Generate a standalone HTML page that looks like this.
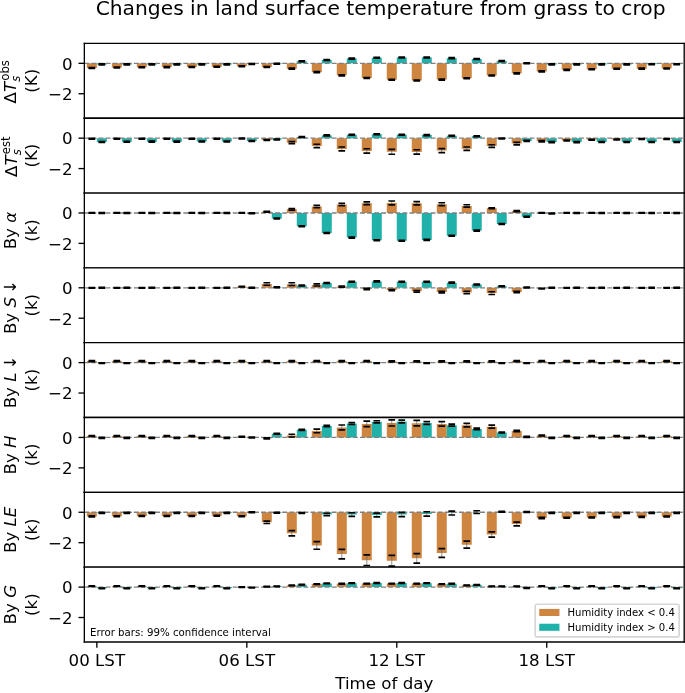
<!DOCTYPE html>
<html><head><meta charset="utf-8"><title>Changes in land surface temperature from grass to crop</title><style>
html,body{margin:0;padding:0;background:#fff;width:685px;height:693px;overflow:hidden}
svg{display:block}
svg *{stroke-linejoin:round;stroke-linecap:butt}
</style></head><body>
<svg width="685" height="693" viewBox="0 0 411 415.8" version="1.1">
<g id="figure_1">
<g id="patch_1">
<path d="M 0 415.8 L 411 415.8 L 411 0 L 0 0 z
" style="fill: #ffffff"/>
</g>
<g id="axes_1">
<g id="patch_2">
<path d="M 50.61 70.94 L 410.52 70.94 L 410.52 26.04 L 50.61 26.04 z
" style="fill: #ffffff"/>
</g>
<g id="patch_3">
<path d="M 52.11 37.99 L 58.11 37.99 L 58.11 40.82 L 52.11 40.82 z
" clip-path="url(#p5a2196d722)" style="fill: #cd853f"/>
</g>
<g id="patch_4">
<path d="M 67.11 37.99 L 73.1 37.99 L 73.1 40.55 L 67.11 40.55 z
" clip-path="url(#p5a2196d722)" style="fill: #cd853f"/>
</g>
<g id="patch_5">
<path d="M 82.1 37.99 L 88.1 37.99 L 88.1 40.37 L 82.1 40.37 z
" clip-path="url(#p5a2196d722)" style="fill: #cd853f"/>
</g>
<g id="patch_6">
<path d="M 97.1 37.99 L 103.1 37.99 L 103.1 40.27 L 97.1 40.27 z
" clip-path="url(#p5a2196d722)" style="fill: #cd853f"/>
</g>
<g id="patch_7">
<path d="M 112.09 37.99 L 118.09 37.99 L 118.09 40.18 L 112.09 40.18 z
" clip-path="url(#p5a2196d722)" style="fill: #cd853f"/>
</g>
<g id="patch_8">
<path d="M 127.09 37.99 L 133.09 37.99 L 133.09 40 L 127.09 40 z
" clip-path="url(#p5a2196d722)" style="fill: #cd853f"/>
</g>
<g id="patch_9">
<path d="M 142.09 37.99 L 148.09 37.99 L 148.09 39.73 L 142.09 39.73 z
" clip-path="url(#p5a2196d722)" style="fill: #cd853f"/>
</g>
<g id="patch_10">
<path d="M 157.08 37.99 L 163.08 37.99 L 163.08 40.18 L 157.08 40.18 z
" clip-path="url(#p5a2196d722)" style="fill: #cd853f"/>
</g>
<g id="patch_11">
<path d="M 172.08 37.99 L 178.08 37.99 L 178.08 41.19 L 172.08 41.19 z
" clip-path="url(#p5a2196d722)" style="fill: #cd853f"/>
</g>
<g id="patch_12">
<path d="M 187.08 37.99 L 193.07 37.99 L 193.07 43.29 L 187.08 43.29 z
" clip-path="url(#p5a2196d722)" style="fill: #cd853f"/>
</g>
<g id="patch_13">
<path d="M 202.07 37.99 L 208.07 37.99 L 208.07 45.2 L 202.07 45.2 z
" clip-path="url(#p5a2196d722)" style="fill: #cd853f"/>
</g>
<g id="patch_14">
<path d="M 217.07 37.99 L 223.07 37.99 L 223.07 46.75 L 217.07 46.75 z
" clip-path="url(#p5a2196d722)" style="fill: #cd853f"/>
</g>
<g id="patch_15">
<path d="M 232.06 37.99 L 238.06 37.99 L 238.06 47.85 L 232.06 47.85 z
" clip-path="url(#p5a2196d722)" style="fill: #cd853f"/>
</g>
<g id="patch_16">
<path d="M 247.06 37.99 L 253.06 37.99 L 253.06 48.3 L 247.06 48.3 z
" clip-path="url(#p5a2196d722)" style="fill: #cd853f"/>
</g>
<g id="patch_17">
<path d="M 262.06 37.99 L 268.06 37.99 L 268.06 47.76 L 262.06 47.76 z
" clip-path="url(#p5a2196d722)" style="fill: #cd853f"/>
</g>
<g id="patch_18">
<path d="M 277.05 37.99 L 283.05 37.99 L 283.05 46.94 L 277.05 46.94 z
" clip-path="url(#p5a2196d722)" style="fill: #cd853f"/>
</g>
<g id="patch_19">
<path d="M 292.05 37.99 L 298.05 37.99 L 298.05 45.29 L 292.05 45.29 z
" clip-path="url(#p5a2196d722)" style="fill: #cd853f"/>
</g>
<g id="patch_20">
<path d="M 307.05 37.99 L 313.04 37.99 L 313.04 44.02 L 307.05 44.02 z
" clip-path="url(#p5a2196d722)" style="fill: #cd853f"/>
</g>
<g id="patch_21">
<path d="M 322.04 37.99 L 328.04 37.99 L 328.04 42.83 L 322.04 42.83 z
" clip-path="url(#p5a2196d722)" style="fill: #cd853f"/>
</g>
<g id="patch_22">
<path d="M 337.04 37.99 L 343.04 37.99 L 343.04 41.92 L 337.04 41.92 z
" clip-path="url(#p5a2196d722)" style="fill: #cd853f"/>
</g>
<g id="patch_23">
<path d="M 352.03 37.99 L 358.03 37.99 L 358.03 41.55 L 352.03 41.55 z
" clip-path="url(#p5a2196d722)" style="fill: #cd853f"/>
</g>
<g id="patch_24">
<path d="M 367.03 37.99 L 373.03 37.99 L 373.03 41.28 L 367.03 41.28 z
" clip-path="url(#p5a2196d722)" style="fill: #cd853f"/>
</g>
<g id="patch_25">
<path d="M 382.03 37.99 L 388.03 37.99 L 388.03 41.19 L 382.03 41.19 z
" clip-path="url(#p5a2196d722)" style="fill: #cd853f"/>
</g>
<g id="patch_26">
<path d="M 397.02 37.99 L 403.02 37.99 L 403.02 41.1 L 397.02 41.1 z
" clip-path="url(#p5a2196d722)" style="fill: #cd853f"/>
</g>
<g id="patch_27">
<path d="M 58.11 37.99 L 64.11 37.99 L 64.11 38.63 L 58.11 38.63 z
" clip-path="url(#p5a2196d722)" style="fill: #20b2aa"/>
</g>
<g id="patch_28">
<path d="M 73.1 37.99 L 79.1 37.99 L 79.1 38.63 L 73.1 38.63 z
" clip-path="url(#p5a2196d722)" style="fill: #20b2aa"/>
</g>
<g id="patch_29">
<path d="M 88.1 37.99 L 94.1 37.99 L 94.1 38.63 L 88.1 38.63 z
" clip-path="url(#p5a2196d722)" style="fill: #20b2aa"/>
</g>
<g id="patch_30">
<path d="M 103.1 37.99 L 109.1 37.99 L 109.1 38.63 L 103.1 38.63 z
" clip-path="url(#p5a2196d722)" style="fill: #20b2aa"/>
</g>
<g id="patch_31">
<path d="M 118.09 37.99 L 124.09 37.99 L 124.09 38.63 L 118.09 38.63 z
" clip-path="url(#p5a2196d722)" style="fill: #20b2aa"/>
</g>
<g id="patch_32">
<path d="M 133.09 37.99 L 139.09 37.99 L 139.09 38.63 L 133.09 38.63 z
" clip-path="url(#p5a2196d722)" style="fill: #20b2aa"/>
</g>
<g id="patch_33">
<path d="M 148.09 37.99 L 154.08 37.99 L 154.08 38.45 L 148.09 38.45 z
" clip-path="url(#p5a2196d722)" style="fill: #20b2aa"/>
</g>
<g id="patch_34">
<path d="M 163.08 37.99 L 169.08 37.99 L 169.08 38.27 L 163.08 38.27 z
" clip-path="url(#p5a2196d722)" style="fill: #20b2aa"/>
</g>
<g id="patch_35">
<path d="M 178.08 37.99 L 184.08 37.99 L 184.08 36.72 L 178.08 36.72 z
" clip-path="url(#p5a2196d722)" style="fill: #20b2aa"/>
</g>
<g id="patch_36">
<path d="M 193.07 37.99 L 199.07 37.99 L 199.07 35.99 L 193.07 35.99 z
" clip-path="url(#p5a2196d722)" style="fill: #20b2aa"/>
</g>
<g id="patch_37">
<path d="M 208.07 37.99 L 214.07 37.99 L 214.07 35.16 L 208.07 35.16 z
" clip-path="url(#p5a2196d722)" style="fill: #20b2aa"/>
</g>
<g id="patch_38">
<path d="M 223.07 37.99 L 229.07 37.99 L 229.07 34.62 L 223.07 34.62 z
" clip-path="url(#p5a2196d722)" style="fill: #20b2aa"/>
</g>
<g id="patch_39">
<path d="M 238.06 37.99 L 244.06 37.99 L 244.06 34.53 L 238.06 34.53 z
" clip-path="url(#p5a2196d722)" style="fill: #20b2aa"/>
</g>
<g id="patch_40">
<path d="M 253.06 37.99 L 259.06 37.99 L 259.06 34.53 L 253.06 34.53 z
" clip-path="url(#p5a2196d722)" style="fill: #20b2aa"/>
</g>
<g id="patch_41">
<path d="M 268.06 37.99 L 274.05 37.99 L 274.05 34.89 L 268.06 34.89 z
" clip-path="url(#p5a2196d722)" style="fill: #20b2aa"/>
</g>
<g id="patch_42">
<path d="M 283.05 37.99 L 289.05 37.99 L 289.05 35.44 L 283.05 35.44 z
" clip-path="url(#p5a2196d722)" style="fill: #20b2aa"/>
</g>
<g id="patch_43">
<path d="M 298.05 37.99 L 304.05 37.99 L 304.05 36.62 L 298.05 36.62 z
" clip-path="url(#p5a2196d722)" style="fill: #20b2aa"/>
</g>
<g id="patch_44">
<path d="M 313.04 37.99 L 319.04 37.99 L 319.04 37.99 L 313.04 37.99 z
" clip-path="url(#p5a2196d722)" style="fill: #20b2aa"/>
</g>
<g id="patch_45">
<path d="M 328.04 37.99 L 334.04 37.99 L 334.04 38.63 L 328.04 38.63 z
" clip-path="url(#p5a2196d722)" style="fill: #20b2aa"/>
</g>
<g id="patch_46">
<path d="M 343.04 37.99 L 349.04 37.99 L 349.04 38.63 L 343.04 38.63 z
" clip-path="url(#p5a2196d722)" style="fill: #20b2aa"/>
</g>
<g id="patch_47">
<path d="M 358.03 37.99 L 364.03 37.99 L 364.03 38.63 L 358.03 38.63 z
" clip-path="url(#p5a2196d722)" style="fill: #20b2aa"/>
</g>
<g id="patch_48">
<path d="M 373.03 37.99 L 379.03 37.99 L 379.03 38.63 L 373.03 38.63 z
" clip-path="url(#p5a2196d722)" style="fill: #20b2aa"/>
</g>
<g id="patch_49">
<path d="M 388.03 37.99 L 394.02 37.99 L 394.02 38.54 L 388.03 38.54 z
" clip-path="url(#p5a2196d722)" style="fill: #20b2aa"/>
</g>
<g id="patch_50">
<path d="M 403.02 37.99 L 409.02 37.99 L 409.02 38.54 L 403.02 38.54 z
" clip-path="url(#p5a2196d722)" style="fill: #20b2aa"/>
</g>
<g id="matplotlib.axis_1">
<g id="xtick_1">
<g id="line2d_1">
<g>
<path d="M 0 0 L 0 3.5 
" transform="translate(58.11 70.94)" style="stroke: #000000; stroke-width: 0.8; stroke: #000000; stroke-width: 0.8"/>
</g>
</g>
</g>
<g id="xtick_2">
<g id="line2d_2">
<g>
<path d="M 0 0 L 0 3.5 
" transform="translate(148.09 70.94)" style="stroke: #000000; stroke-width: 0.8; stroke: #000000; stroke-width: 0.8"/>
</g>
</g>
</g>
<g id="xtick_3">
<g id="line2d_3">
<g>
<path d="M 0 0 L 0 3.5 
" transform="translate(238.06 70.94)" style="stroke: #000000; stroke-width: 0.8; stroke: #000000; stroke-width: 0.8"/>
</g>
</g>
</g>
<g id="xtick_4">
<g id="line2d_4">
<g>
<path d="M 0 0 L 0 3.5 
" transform="translate(328.04 70.94)" style="stroke: #000000; stroke-width: 0.8; stroke: #000000; stroke-width: 0.8"/>
</g>
</g>
</g>
</g>
<g id="matplotlib.axis_2">
<g id="ytick_1">
<g id="line2d_5">
<g>
<path d="M 0 0 L -3.5 0 
" transform="translate(50.61 37.99)" style="stroke: #000000; stroke-width: 0.8; stroke: #000000; stroke-width: 0.8"/>
</g>
</g>
<g id="text_1">
<text style="font-size: 10px; font-family: 'DejaVu Sans', sans-serif; text-anchor: end" x="43.61" y="41.79" transform="rotate(-0 43.61 41.79)">0</text>
</g>
</g>
<g id="ytick_2">
<g id="line2d_6">
<g>
<path d="M 0 0 L -3.5 0 
" transform="translate(50.61 56.24)" style="stroke: #000000; stroke-width: 0.8; stroke: #000000; stroke-width: 0.8"/>
</g>
</g>
<g id="text_2">
<text style="font-size: 10px; font-family: 'DejaVu Sans', sans-serif; text-anchor: end" x="43.61" y="60.04" transform="rotate(-0 43.61 60.04)">−2</text>
</g>
</g>
<g id="text_3">
<g transform="translate(10.21 62.06) rotate(-90)">
<text>
<tspan x="0" y="-0.86" style="font-size: 10px; font-family: 'DejaVu Sans', sans-serif">Δ</tspan>
<tspan x="6.84" y="-0.86" style="font-style: oblique; font-size: 10px; font-family: 'DejaVu Sans', sans-serif">T</tspan>
<tspan x="13.65" y="-4.68" style="font-size: 7px; font-family: 'DejaVu Sans', sans-serif">o</tspan>
<tspan x="17.93" y="-4.68" style="font-size: 7px; font-family: 'DejaVu Sans', sans-serif">b</tspan>
<tspan x="22.38" y="-4.68" style="font-size: 7px; font-family: 'DejaVu Sans', sans-serif">s</tspan>
<tspan x="12.95" y="1.88" style="font-style: oblique; font-size: 7px; font-family: 'DejaVu Sans', sans-serif">s</tspan>
</text>
</g>
<text style="font-size: 10px; font-family: 'DejaVu Sans', sans-serif" transform="translate(22.14 55.67) rotate(-90)">(K)</text>
</g>
</g>
<g id="line2d_7">
<path d="M 50.61 37.99 L 410.52 37.99 
" clip-path="url(#p5a2196d722)" style="fill: none; stroke-dasharray: 2.96,1.28; stroke-dashoffset: 0; stroke: #808080; stroke-width: 0.8"/>
</g>
<g id="LineCollection_1"/>
<g id="LineCollection_2">
<path d="M 55.11 41.1 L 55.11 40.55 
" clip-path="url(#p5a2196d722)" style="fill: none"/>
<path d="M 70.11 40.82 L 70.11 40.27 
" clip-path="url(#p5a2196d722)" style="fill: none"/>
<path d="M 85.1 40.64 L 85.1 40.09 
" clip-path="url(#p5a2196d722)" style="fill: none"/>
<path d="M 100.1 40.55 L 100.1 40 
" clip-path="url(#p5a2196d722)" style="fill: none"/>
<path d="M 115.09 40.46 L 115.09 39.91 
" clip-path="url(#p5a2196d722)" style="fill: none"/>
<path d="M 130.09 40.27 L 130.09 39.73 
" clip-path="url(#p5a2196d722)" style="fill: none"/>
<path d="M 145.09 40 L 145.09 39.45 
" clip-path="url(#p5a2196d722)" style="fill: none"/>
<path d="M 160.08 40.46 L 160.08 39.91 
" clip-path="url(#p5a2196d722)" style="fill: none"/>
<path d="M 175.08 41.46 L 175.08 40.91 
" clip-path="url(#p5a2196d722)" style="fill: none"/>
<path d="M 190.08 43.56 L 190.08 43.01 
" clip-path="url(#p5a2196d722)" style="fill: none"/>
<path d="M 205.07 45.48 L 205.07 44.93 
" clip-path="url(#p5a2196d722)" style="fill: none"/>
<path d="M 220.07 47.03 L 220.07 46.48 
" clip-path="url(#p5a2196d722)" style="fill: none"/>
<path d="M 235.06 48.12 L 235.06 47.58 
" clip-path="url(#p5a2196d722)" style="fill: none"/>
<path d="M 250.06 48.58 L 250.06 48.03 
" clip-path="url(#p5a2196d722)" style="fill: none"/>
<path d="M 265.06 48.03 L 265.06 47.48 
" clip-path="url(#p5a2196d722)" style="fill: none"/>
<path d="M 280.05 47.21 L 280.05 46.66 
" clip-path="url(#p5a2196d722)" style="fill: none"/>
<path d="M 295.05 45.57 L 295.05 45.02 
" clip-path="url(#p5a2196d722)" style="fill: none"/>
<path d="M 310.05 44.29 L 310.05 43.74 
" clip-path="url(#p5a2196d722)" style="fill: none"/>
<path d="M 325.04 43.1 L 325.04 42.56 
" clip-path="url(#p5a2196d722)" style="fill: none"/>
<path d="M 340.04 42.19 L 340.04 41.64 
" clip-path="url(#p5a2196d722)" style="fill: none"/>
<path d="M 355.03 41.83 L 355.03 41.28 
" clip-path="url(#p5a2196d722)" style="fill: none"/>
<path d="M 370.03 41.55 L 370.03 41.01 
" clip-path="url(#p5a2196d722)" style="fill: none"/>
<path d="M 385.03 41.46 L 385.03 40.91 
" clip-path="url(#p5a2196d722)" style="fill: none"/>
<path d="M 400.02 41.37 L 400.02 40.82 
" clip-path="url(#p5a2196d722)" style="fill: none"/>
</g>
<g id="line2d_8">
<g clip-path="url(#p5a2196d722)">
<path d="M 2 0 L -2 -0 
" transform="translate(55.11 41.1)" style="fill: #1f77b4; stroke: #000000; stroke: #000000"/>
<path d="M 2 0 L -2 -0 
" transform="translate(70.11 40.82)" style="fill: #1f77b4; stroke: #000000; stroke: #000000"/>
<path d="M 2 0 L -2 -0 
" transform="translate(85.1 40.64)" style="fill: #1f77b4; stroke: #000000; stroke: #000000"/>
<path d="M 2 0 L -2 -0 
" transform="translate(100.1 40.55)" style="fill: #1f77b4; stroke: #000000; stroke: #000000"/>
<path d="M 2 0 L -2 -0 
" transform="translate(115.09 40.46)" style="fill: #1f77b4; stroke: #000000; stroke: #000000"/>
<path d="M 2 0 L -2 -0 
" transform="translate(130.09 40.27)" style="fill: #1f77b4; stroke: #000000; stroke: #000000"/>
<path d="M 2 0 L -2 -0 
" transform="translate(145.09 40)" style="fill: #1f77b4; stroke: #000000; stroke: #000000"/>
<path d="M 2 0 L -2 -0 
" transform="translate(160.08 40.46)" style="fill: #1f77b4; stroke: #000000; stroke: #000000"/>
<path d="M 2 0 L -2 -0 
" transform="translate(175.08 41.46)" style="fill: #1f77b4; stroke: #000000; stroke: #000000"/>
<path d="M 2 0 L -2 -0 
" transform="translate(190.08 43.56)" style="fill: #1f77b4; stroke: #000000; stroke: #000000"/>
<path d="M 2 0 L -2 -0 
" transform="translate(205.07 45.48)" style="fill: #1f77b4; stroke: #000000; stroke: #000000"/>
<path d="M 2 0 L -2 -0 
" transform="translate(220.07 47.03)" style="fill: #1f77b4; stroke: #000000; stroke: #000000"/>
<path d="M 2 0 L -2 -0 
" transform="translate(235.06 48.12)" style="fill: #1f77b4; stroke: #000000; stroke: #000000"/>
<path d="M 2 0 L -2 -0 
" transform="translate(250.06 48.58)" style="fill: #1f77b4; stroke: #000000; stroke: #000000"/>
<path d="M 2 0 L -2 -0 
" transform="translate(265.06 48.03)" style="fill: #1f77b4; stroke: #000000; stroke: #000000"/>
<path d="M 2 0 L -2 -0 
" transform="translate(280.05 47.21)" style="fill: #1f77b4; stroke: #000000; stroke: #000000"/>
<path d="M 2 0 L -2 -0 
" transform="translate(295.05 45.57)" style="fill: #1f77b4; stroke: #000000; stroke: #000000"/>
<path d="M 2 0 L -2 -0 
" transform="translate(310.05 44.29)" style="fill: #1f77b4; stroke: #000000; stroke: #000000"/>
<path d="M 2 0 L -2 -0 
" transform="translate(325.04 43.1)" style="fill: #1f77b4; stroke: #000000; stroke: #000000"/>
<path d="M 2 0 L -2 -0 
" transform="translate(340.04 42.19)" style="fill: #1f77b4; stroke: #000000; stroke: #000000"/>
<path d="M 2 0 L -2 -0 
" transform="translate(355.03 41.83)" style="fill: #1f77b4; stroke: #000000; stroke: #000000"/>
<path d="M 2 0 L -2 -0 
" transform="translate(370.03 41.55)" style="fill: #1f77b4; stroke: #000000; stroke: #000000"/>
<path d="M 2 0 L -2 -0 
" transform="translate(385.03 41.46)" style="fill: #1f77b4; stroke: #000000; stroke: #000000"/>
<path d="M 2 0 L -2 -0 
" transform="translate(400.02 41.37)" style="fill: #1f77b4; stroke: #000000; stroke: #000000"/>
</g>
</g>
<g id="line2d_9">
<g clip-path="url(#p5a2196d722)">
<path d="M 2 0 L -2 -0 
" transform="translate(55.11 40.55)" style="fill: #1f77b4; stroke: #000000; stroke: #000000"/>
<path d="M 2 0 L -2 -0 
" transform="translate(70.11 40.27)" style="fill: #1f77b4; stroke: #000000; stroke: #000000"/>
<path d="M 2 0 L -2 -0 
" transform="translate(85.1 40.09)" style="fill: #1f77b4; stroke: #000000; stroke: #000000"/>
<path d="M 2 0 L -2 -0 
" transform="translate(100.1 40)" style="fill: #1f77b4; stroke: #000000; stroke: #000000"/>
<path d="M 2 0 L -2 -0 
" transform="translate(115.09 39.91)" style="fill: #1f77b4; stroke: #000000; stroke: #000000"/>
<path d="M 2 0 L -2 -0 
" transform="translate(130.09 39.73)" style="fill: #1f77b4; stroke: #000000; stroke: #000000"/>
<path d="M 2 0 L -2 -0 
" transform="translate(145.09 39.45)" style="fill: #1f77b4; stroke: #000000; stroke: #000000"/>
<path d="M 2 0 L -2 -0 
" transform="translate(160.08 39.91)" style="fill: #1f77b4; stroke: #000000; stroke: #000000"/>
<path d="M 2 0 L -2 -0 
" transform="translate(175.08 40.91)" style="fill: #1f77b4; stroke: #000000; stroke: #000000"/>
<path d="M 2 0 L -2 -0 
" transform="translate(190.08 43.01)" style="fill: #1f77b4; stroke: #000000; stroke: #000000"/>
<path d="M 2 0 L -2 -0 
" transform="translate(205.07 44.93)" style="fill: #1f77b4; stroke: #000000; stroke: #000000"/>
<path d="M 2 0 L -2 -0 
" transform="translate(220.07 46.48)" style="fill: #1f77b4; stroke: #000000; stroke: #000000"/>
<path d="M 2 0 L -2 -0 
" transform="translate(235.06 47.58)" style="fill: #1f77b4; stroke: #000000; stroke: #000000"/>
<path d="M 2 0 L -2 -0 
" transform="translate(250.06 48.03)" style="fill: #1f77b4; stroke: #000000; stroke: #000000"/>
<path d="M 2 0 L -2 -0 
" transform="translate(265.06 47.48)" style="fill: #1f77b4; stroke: #000000; stroke: #000000"/>
<path d="M 2 0 L -2 -0 
" transform="translate(280.05 46.66)" style="fill: #1f77b4; stroke: #000000; stroke: #000000"/>
<path d="M 2 0 L -2 -0 
" transform="translate(295.05 45.02)" style="fill: #1f77b4; stroke: #000000; stroke: #000000"/>
<path d="M 2 0 L -2 -0 
" transform="translate(310.05 43.74)" style="fill: #1f77b4; stroke: #000000; stroke: #000000"/>
<path d="M 2 0 L -2 -0 
" transform="translate(325.04 42.56)" style="fill: #1f77b4; stroke: #000000; stroke: #000000"/>
<path d="M 2 0 L -2 -0 
" transform="translate(340.04 41.64)" style="fill: #1f77b4; stroke: #000000; stroke: #000000"/>
<path d="M 2 0 L -2 -0 
" transform="translate(355.03 41.28)" style="fill: #1f77b4; stroke: #000000; stroke: #000000"/>
<path d="M 2 0 L -2 -0 
" transform="translate(370.03 41.01)" style="fill: #1f77b4; stroke: #000000; stroke: #000000"/>
<path d="M 2 0 L -2 -0 
" transform="translate(385.03 40.91)" style="fill: #1f77b4; stroke: #000000; stroke: #000000"/>
<path d="M 2 0 L -2 -0 
" transform="translate(400.02 40.82)" style="fill: #1f77b4; stroke: #000000; stroke: #000000"/>
</g>
</g>
<g id="LineCollection_3"/>
<g id="LineCollection_4">
<path d="M 61.11 38.91 L 61.11 38.36 
" clip-path="url(#p5a2196d722)" style="fill: none"/>
<path d="M 76.1 38.91 L 76.1 38.36 
" clip-path="url(#p5a2196d722)" style="fill: none"/>
<path d="M 91.1 38.91 L 91.1 38.36 
" clip-path="url(#p5a2196d722)" style="fill: none"/>
<path d="M 106.1 38.91 L 106.1 38.36 
" clip-path="url(#p5a2196d722)" style="fill: none"/>
<path d="M 121.09 38.91 L 121.09 38.36 
" clip-path="url(#p5a2196d722)" style="fill: none"/>
<path d="M 136.09 38.91 L 136.09 38.36 
" clip-path="url(#p5a2196d722)" style="fill: none"/>
<path d="M 151.08 38.72 L 151.08 38.18 
" clip-path="url(#p5a2196d722)" style="fill: none"/>
<path d="M 166.08 38.54 L 166.08 37.99 
" clip-path="url(#p5a2196d722)" style="fill: none"/>
<path d="M 181.08 36.99 L 181.08 36.44 
" clip-path="url(#p5a2196d722)" style="fill: none"/>
<path d="M 196.07 36.26 L 196.07 35.71 
" clip-path="url(#p5a2196d722)" style="fill: none"/>
<path d="M 211.07 35.44 L 211.07 34.89 
" clip-path="url(#p5a2196d722)" style="fill: none"/>
<path d="M 226.07 34.89 L 226.07 34.34 
" clip-path="url(#p5a2196d722)" style="fill: none"/>
<path d="M 241.06 34.8 L 241.06 34.25 
" clip-path="url(#p5a2196d722)" style="fill: none"/>
<path d="M 256.06 34.8 L 256.06 34.25 
" clip-path="url(#p5a2196d722)" style="fill: none"/>
<path d="M 271.05 35.16 L 271.05 34.62 
" clip-path="url(#p5a2196d722)" style="fill: none"/>
<path d="M 286.05 35.71 L 286.05 35.16 
" clip-path="url(#p5a2196d722)" style="fill: none"/>
<path d="M 301.05 36.9 L 301.05 36.35 
" clip-path="url(#p5a2196d722)" style="fill: none"/>
<path d="M 316.04 38.27 L 316.04 37.72 
" clip-path="url(#p5a2196d722)" style="fill: none"/>
<path d="M 331.04 38.91 L 331.04 38.36 
" clip-path="url(#p5a2196d722)" style="fill: none"/>
<path d="M 346.04 38.91 L 346.04 38.36 
" clip-path="url(#p5a2196d722)" style="fill: none"/>
<path d="M 361.03 38.91 L 361.03 38.36 
" clip-path="url(#p5a2196d722)" style="fill: none"/>
<path d="M 376.03 38.91 L 376.03 38.36 
" clip-path="url(#p5a2196d722)" style="fill: none"/>
<path d="M 391.02 38.81 L 391.02 38.27 
" clip-path="url(#p5a2196d722)" style="fill: none"/>
<path d="M 406.02 38.81 L 406.02 38.27 
" clip-path="url(#p5a2196d722)" style="fill: none"/>
</g>
<g id="line2d_10">
<g clip-path="url(#p5a2196d722)">
<path d="M 2 0 L -2 -0 
" transform="translate(61.11 38.91)" style="fill: #1f77b4; stroke: #000000; stroke: #000000"/>
<path d="M 2 0 L -2 -0 
" transform="translate(76.1 38.91)" style="fill: #1f77b4; stroke: #000000; stroke: #000000"/>
<path d="M 2 0 L -2 -0 
" transform="translate(91.1 38.91)" style="fill: #1f77b4; stroke: #000000; stroke: #000000"/>
<path d="M 2 0 L -2 -0 
" transform="translate(106.1 38.91)" style="fill: #1f77b4; stroke: #000000; stroke: #000000"/>
<path d="M 2 0 L -2 -0 
" transform="translate(121.09 38.91)" style="fill: #1f77b4; stroke: #000000; stroke: #000000"/>
<path d="M 2 0 L -2 -0 
" transform="translate(136.09 38.91)" style="fill: #1f77b4; stroke: #000000; stroke: #000000"/>
<path d="M 2 0 L -2 -0 
" transform="translate(151.08 38.72)" style="fill: #1f77b4; stroke: #000000; stroke: #000000"/>
<path d="M 2 0 L -2 -0 
" transform="translate(166.08 38.54)" style="fill: #1f77b4; stroke: #000000; stroke: #000000"/>
<path d="M 2 0 L -2 -0 
" transform="translate(181.08 36.99)" style="fill: #1f77b4; stroke: #000000; stroke: #000000"/>
<path d="M 2 0 L -2 -0 
" transform="translate(196.07 36.26)" style="fill: #1f77b4; stroke: #000000; stroke: #000000"/>
<path d="M 2 0 L -2 -0 
" transform="translate(211.07 35.44)" style="fill: #1f77b4; stroke: #000000; stroke: #000000"/>
<path d="M 2 0 L -2 -0 
" transform="translate(226.07 34.89)" style="fill: #1f77b4; stroke: #000000; stroke: #000000"/>
<path d="M 2 0 L -2 -0 
" transform="translate(241.06 34.8)" style="fill: #1f77b4; stroke: #000000; stroke: #000000"/>
<path d="M 2 0 L -2 -0 
" transform="translate(256.06 34.8)" style="fill: #1f77b4; stroke: #000000; stroke: #000000"/>
<path d="M 2 0 L -2 -0 
" transform="translate(271.05 35.16)" style="fill: #1f77b4; stroke: #000000; stroke: #000000"/>
<path d="M 2 0 L -2 -0 
" transform="translate(286.05 35.71)" style="fill: #1f77b4; stroke: #000000; stroke: #000000"/>
<path d="M 2 0 L -2 -0 
" transform="translate(301.05 36.9)" style="fill: #1f77b4; stroke: #000000; stroke: #000000"/>
<path d="M 2 0 L -2 -0 
" transform="translate(316.04 38.27)" style="fill: #1f77b4; stroke: #000000; stroke: #000000"/>
<path d="M 2 0 L -2 -0 
" transform="translate(331.04 38.91)" style="fill: #1f77b4; stroke: #000000; stroke: #000000"/>
<path d="M 2 0 L -2 -0 
" transform="translate(346.04 38.91)" style="fill: #1f77b4; stroke: #000000; stroke: #000000"/>
<path d="M 2 0 L -2 -0 
" transform="translate(361.03 38.91)" style="fill: #1f77b4; stroke: #000000; stroke: #000000"/>
<path d="M 2 0 L -2 -0 
" transform="translate(376.03 38.91)" style="fill: #1f77b4; stroke: #000000; stroke: #000000"/>
<path d="M 2 0 L -2 -0 
" transform="translate(391.02 38.81)" style="fill: #1f77b4; stroke: #000000; stroke: #000000"/>
<path d="M 2 0 L -2 -0 
" transform="translate(406.02 38.81)" style="fill: #1f77b4; stroke: #000000; stroke: #000000"/>
</g>
</g>
<g id="line2d_11">
<g clip-path="url(#p5a2196d722)">
<path d="M 2 0 L -2 -0 
" transform="translate(61.11 38.36)" style="fill: #1f77b4; stroke: #000000; stroke: #000000"/>
<path d="M 2 0 L -2 -0 
" transform="translate(76.1 38.36)" style="fill: #1f77b4; stroke: #000000; stroke: #000000"/>
<path d="M 2 0 L -2 -0 
" transform="translate(91.1 38.36)" style="fill: #1f77b4; stroke: #000000; stroke: #000000"/>
<path d="M 2 0 L -2 -0 
" transform="translate(106.1 38.36)" style="fill: #1f77b4; stroke: #000000; stroke: #000000"/>
<path d="M 2 0 L -2 -0 
" transform="translate(121.09 38.36)" style="fill: #1f77b4; stroke: #000000; stroke: #000000"/>
<path d="M 2 0 L -2 -0 
" transform="translate(136.09 38.36)" style="fill: #1f77b4; stroke: #000000; stroke: #000000"/>
<path d="M 2 0 L -2 -0 
" transform="translate(151.08 38.18)" style="fill: #1f77b4; stroke: #000000; stroke: #000000"/>
<path d="M 2 0 L -2 -0 
" transform="translate(166.08 37.99)" style="fill: #1f77b4; stroke: #000000; stroke: #000000"/>
<path d="M 2 0 L -2 -0 
" transform="translate(181.08 36.44)" style="fill: #1f77b4; stroke: #000000; stroke: #000000"/>
<path d="M 2 0 L -2 -0 
" transform="translate(196.07 35.71)" style="fill: #1f77b4; stroke: #000000; stroke: #000000"/>
<path d="M 2 0 L -2 -0 
" transform="translate(211.07 34.89)" style="fill: #1f77b4; stroke: #000000; stroke: #000000"/>
<path d="M 2 0 L -2 -0 
" transform="translate(226.07 34.34)" style="fill: #1f77b4; stroke: #000000; stroke: #000000"/>
<path d="M 2 0 L -2 -0 
" transform="translate(241.06 34.25)" style="fill: #1f77b4; stroke: #000000; stroke: #000000"/>
<path d="M 2 0 L -2 -0 
" transform="translate(256.06 34.25)" style="fill: #1f77b4; stroke: #000000; stroke: #000000"/>
<path d="M 2 0 L -2 -0 
" transform="translate(271.05 34.62)" style="fill: #1f77b4; stroke: #000000; stroke: #000000"/>
<path d="M 2 0 L -2 -0 
" transform="translate(286.05 35.16)" style="fill: #1f77b4; stroke: #000000; stroke: #000000"/>
<path d="M 2 0 L -2 -0 
" transform="translate(301.05 36.35)" style="fill: #1f77b4; stroke: #000000; stroke: #000000"/>
<path d="M 2 0 L -2 -0 
" transform="translate(316.04 37.72)" style="fill: #1f77b4; stroke: #000000; stroke: #000000"/>
<path d="M 2 0 L -2 -0 
" transform="translate(331.04 38.36)" style="fill: #1f77b4; stroke: #000000; stroke: #000000"/>
<path d="M 2 0 L -2 -0 
" transform="translate(346.04 38.36)" style="fill: #1f77b4; stroke: #000000; stroke: #000000"/>
<path d="M 2 0 L -2 -0 
" transform="translate(361.03 38.36)" style="fill: #1f77b4; stroke: #000000; stroke: #000000"/>
<path d="M 2 0 L -2 -0 
" transform="translate(376.03 38.36)" style="fill: #1f77b4; stroke: #000000; stroke: #000000"/>
<path d="M 2 0 L -2 -0 
" transform="translate(391.02 38.27)" style="fill: #1f77b4; stroke: #000000; stroke: #000000"/>
<path d="M 2 0 L -2 -0 
" transform="translate(406.02 38.27)" style="fill: #1f77b4; stroke: #000000; stroke: #000000"/>
</g>
</g>
<g id="patch_51">
<path d="M 50.61 70.94 L 50.61 26.04 
" style="fill: none; stroke: #000000; stroke-width: 0.8; stroke-linejoin: miter; stroke-linecap: square"/>
</g>
<g id="patch_52">
<path d="M 410.52 70.94 L 410.52 26.04 
" style="fill: none; stroke: #000000; stroke-width: 0.8; stroke-linejoin: miter; stroke-linecap: square"/>
</g>
<g id="patch_53">
<path d="M 50.61 70.94 L 410.52 70.94 
" style="fill: none; stroke: #000000; stroke-width: 0.8; stroke-linejoin: miter; stroke-linecap: square"/>
</g>
<g id="patch_54">
<path d="M 50.61 26.04 L 410.52 26.04 
" style="fill: none; stroke: #000000; stroke-width: 0.8; stroke-linejoin: miter; stroke-linecap: square"/>
</g>
</g>
<g id="axes_2">
<g id="patch_55">
<path d="M 50.61 115.83 L 410.52 115.83 L 410.52 70.94 L 50.61 70.94 z
" style="fill: #ffffff"/>
</g>
<g id="patch_56">
<path d="M 52.11 82.89 L 58.11 82.89 L 58.11 83.25 L 52.11 83.25 z
" clip-path="url(#p20a353cc69)" style="fill: #cd853f"/>
</g>
<g id="patch_57">
<path d="M 67.11 82.89 L 73.1 82.89 L 73.1 83.25 L 67.11 83.25 z
" clip-path="url(#p20a353cc69)" style="fill: #cd853f"/>
</g>
<g id="patch_58">
<path d="M 82.1 82.89 L 88.1 82.89 L 88.1 83.25 L 82.1 83.25 z
" clip-path="url(#p20a353cc69)" style="fill: #cd853f"/>
</g>
<g id="patch_59">
<path d="M 97.1 82.89 L 103.1 82.89 L 103.1 83.25 L 97.1 83.25 z
" clip-path="url(#p20a353cc69)" style="fill: #cd853f"/>
</g>
<g id="patch_60">
<path d="M 112.09 82.89 L 118.09 82.89 L 118.09 83.25 L 112.09 83.25 z
" clip-path="url(#p20a353cc69)" style="fill: #cd853f"/>
</g>
<g id="patch_61">
<path d="M 127.09 82.89 L 133.09 82.89 L 133.09 83.25 L 127.09 83.25 z
" clip-path="url(#p20a353cc69)" style="fill: #cd853f"/>
</g>
<g id="patch_62">
<path d="M 142.09 82.89 L 148.09 82.89 L 148.09 83.07 L 142.09 83.07 z
" clip-path="url(#p20a353cc69)" style="fill: #cd853f"/>
</g>
<g id="patch_63">
<path d="M 157.08 82.89 L 163.08 82.89 L 163.08 83.98 L 157.08 83.98 z
" clip-path="url(#p20a353cc69)" style="fill: #cd853f"/>
</g>
<g id="patch_64">
<path d="M 172.08 82.89 L 178.08 82.89 L 178.08 85.63 L 172.08 85.63 z
" clip-path="url(#p20a353cc69)" style="fill: #cd853f"/>
</g>
<g id="patch_65">
<path d="M 187.08 82.89 L 193.07 82.89 L 193.07 87.54 L 187.08 87.54 z
" clip-path="url(#p20a353cc69)" style="fill: #cd853f"/>
</g>
<g id="patch_66">
<path d="M 202.07 82.89 L 208.07 82.89 L 208.07 89.37 L 202.07 89.37 z
" clip-path="url(#p20a353cc69)" style="fill: #cd853f"/>
</g>
<g id="patch_67">
<path d="M 217.07 82.89 L 223.07 82.89 L 223.07 90.55 L 217.07 90.55 z
" clip-path="url(#p20a353cc69)" style="fill: #cd853f"/>
</g>
<g id="patch_68">
<path d="M 232.06 82.89 L 238.06 82.89 L 238.06 91.1 L 232.06 91.1 z
" clip-path="url(#p20a353cc69)" style="fill: #cd853f"/>
</g>
<g id="patch_69">
<path d="M 247.06 82.89 L 253.06 82.89 L 253.06 91.19 L 247.06 91.19 z
" clip-path="url(#p20a353cc69)" style="fill: #cd853f"/>
</g>
<g id="patch_70">
<path d="M 262.06 82.89 L 268.06 82.89 L 268.06 90.37 L 262.06 90.37 z
" clip-path="url(#p20a353cc69)" style="fill: #cd853f"/>
</g>
<g id="patch_71">
<path d="M 277.05 82.89 L 283.05 82.89 L 283.05 89.19 L 277.05 89.19 z
" clip-path="url(#p20a353cc69)" style="fill: #cd853f"/>
</g>
<g id="patch_72">
<path d="M 292.05 82.89 L 298.05 82.89 L 298.05 87.63 L 292.05 87.63 z
" clip-path="url(#p20a353cc69)" style="fill: #cd853f"/>
</g>
<g id="patch_73">
<path d="M 307.05 82.89 L 313.04 82.89 L 313.04 86.17 L 307.05 86.17 z
" clip-path="url(#p20a353cc69)" style="fill: #cd853f"/>
</g>
<g id="patch_74">
<path d="M 322.04 82.89 L 328.04 82.89 L 328.04 84.71 L 322.04 84.71 z
" clip-path="url(#p20a353cc69)" style="fill: #cd853f"/>
</g>
<g id="patch_75">
<path d="M 337.04 82.89 L 343.04 82.89 L 343.04 84.35 L 337.04 84.35 z
" clip-path="url(#p20a353cc69)" style="fill: #cd853f"/>
</g>
<g id="patch_76">
<path d="M 352.03 82.89 L 358.03 82.89 L 358.03 83.89 L 352.03 83.89 z
" clip-path="url(#p20a353cc69)" style="fill: #cd853f"/>
</g>
<g id="patch_77">
<path d="M 367.03 82.89 L 373.03 82.89 L 373.03 83.71 L 367.03 83.71 z
" clip-path="url(#p20a353cc69)" style="fill: #cd853f"/>
</g>
<g id="patch_78">
<path d="M 382.03 82.89 L 388.03 82.89 L 388.03 83.44 L 382.03 83.44 z
" clip-path="url(#p20a353cc69)" style="fill: #cd853f"/>
</g>
<g id="patch_79">
<path d="M 397.02 82.89 L 403.02 82.89 L 403.02 83.44 L 397.02 83.44 z
" clip-path="url(#p20a353cc69)" style="fill: #cd853f"/>
</g>
<g id="patch_80">
<path d="M 58.11 82.89 L 64.11 82.89 L 64.11 85.17 L 58.11 85.17 z
" clip-path="url(#p20a353cc69)" style="fill: #20b2aa"/>
</g>
<g id="patch_81">
<path d="M 73.1 82.89 L 79.1 82.89 L 79.1 85.08 L 73.1 85.08 z
" clip-path="url(#p20a353cc69)" style="fill: #20b2aa"/>
</g>
<g id="patch_82">
<path d="M 88.1 82.89 L 94.1 82.89 L 94.1 84.99 L 88.1 84.99 z
" clip-path="url(#p20a353cc69)" style="fill: #20b2aa"/>
</g>
<g id="patch_83">
<path d="M 103.1 82.89 L 109.1 82.89 L 109.1 84.99 L 103.1 84.99 z
" clip-path="url(#p20a353cc69)" style="fill: #20b2aa"/>
</g>
<g id="patch_84">
<path d="M 118.09 82.89 L 124.09 82.89 L 124.09 84.9 L 118.09 84.9 z
" clip-path="url(#p20a353cc69)" style="fill: #20b2aa"/>
</g>
<g id="patch_85">
<path d="M 133.09 82.89 L 139.09 82.89 L 139.09 84.9 L 133.09 84.9 z
" clip-path="url(#p20a353cc69)" style="fill: #20b2aa"/>
</g>
<g id="patch_86">
<path d="M 148.09 82.89 L 154.08 82.89 L 154.08 84.62 L 148.09 84.62 z
" clip-path="url(#p20a353cc69)" style="fill: #20b2aa"/>
</g>
<g id="patch_87">
<path d="M 163.08 82.89 L 169.08 82.89 L 169.08 83.71 L 163.08 83.71 z
" clip-path="url(#p20a353cc69)" style="fill: #20b2aa"/>
</g>
<g id="patch_88">
<path d="M 178.08 82.89 L 184.08 82.89 L 184.08 82.25 L 178.08 82.25 z
" clip-path="url(#p20a353cc69)" style="fill: #20b2aa"/>
</g>
<g id="patch_89">
<path d="M 193.07 82.89 L 199.07 82.89 L 199.07 81.25 L 193.07 81.25 z
" clip-path="url(#p20a353cc69)" style="fill: #20b2aa"/>
</g>
<g id="patch_90">
<path d="M 208.07 82.89 L 214.07 82.89 L 214.07 80.88 L 208.07 80.88 z
" clip-path="url(#p20a353cc69)" style="fill: #20b2aa"/>
</g>
<g id="patch_91">
<path d="M 223.07 82.89 L 229.07 82.89 L 229.07 80.52 L 223.07 80.52 z
" clip-path="url(#p20a353cc69)" style="fill: #20b2aa"/>
</g>
<g id="patch_92">
<path d="M 238.06 82.89 L 244.06 82.89 L 244.06 80.88 L 238.06 80.88 z
" clip-path="url(#p20a353cc69)" style="fill: #20b2aa"/>
</g>
<g id="patch_93">
<path d="M 253.06 82.89 L 259.06 82.89 L 259.06 81.06 L 253.06 81.06 z
" clip-path="url(#p20a353cc69)" style="fill: #20b2aa"/>
</g>
<g id="patch_94">
<path d="M 268.06 82.89 L 274.05 82.89 L 274.05 81.43 L 268.06 81.43 z
" clip-path="url(#p20a353cc69)" style="fill: #20b2aa"/>
</g>
<g id="patch_95">
<path d="M 283.05 82.89 L 289.05 82.89 L 289.05 81.79 L 283.05 81.79 z
" clip-path="url(#p20a353cc69)" style="fill: #20b2aa"/>
</g>
<g id="patch_96">
<path d="M 298.05 82.89 L 304.05 82.89 L 304.05 83.07 L 298.05 83.07 z
" clip-path="url(#p20a353cc69)" style="fill: #20b2aa"/>
</g>
<g id="patch_97">
<path d="M 313.04 82.89 L 319.04 82.89 L 319.04 84.53 L 313.04 84.53 z
" clip-path="url(#p20a353cc69)" style="fill: #20b2aa"/>
</g>
<g id="patch_98">
<path d="M 328.04 82.89 L 334.04 82.89 L 334.04 85.26 L 328.04 85.26 z
" clip-path="url(#p20a353cc69)" style="fill: #20b2aa"/>
</g>
<g id="patch_99">
<path d="M 343.04 82.89 L 349.04 82.89 L 349.04 85.26 L 343.04 85.26 z
" clip-path="url(#p20a353cc69)" style="fill: #20b2aa"/>
</g>
<g id="patch_100">
<path d="M 358.03 82.89 L 364.03 82.89 L 364.03 85.17 L 358.03 85.17 z
" clip-path="url(#p20a353cc69)" style="fill: #20b2aa"/>
</g>
<g id="patch_101">
<path d="M 373.03 82.89 L 379.03 82.89 L 379.03 85.17 L 373.03 85.17 z
" clip-path="url(#p20a353cc69)" style="fill: #20b2aa"/>
</g>
<g id="patch_102">
<path d="M 388.03 82.89 L 394.02 82.89 L 394.02 85.17 L 388.03 85.17 z
" clip-path="url(#p20a353cc69)" style="fill: #20b2aa"/>
</g>
<g id="patch_103">
<path d="M 403.02 82.89 L 409.02 82.89 L 409.02 85.17 L 403.02 85.17 z
" clip-path="url(#p20a353cc69)" style="fill: #20b2aa"/>
</g>
<g id="matplotlib.axis_3">
<g id="xtick_5">
<g id="line2d_12">
<g>
<path d="M 0 0 L 0 3.5 
" transform="translate(58.11 115.83)" style="stroke: #000000; stroke-width: 0.8; stroke: #000000; stroke-width: 0.8"/>
</g>
</g>
</g>
<g id="xtick_6">
<g id="line2d_13">
<g>
<path d="M 0 0 L 0 3.5 
" transform="translate(148.09 115.83)" style="stroke: #000000; stroke-width: 0.8; stroke: #000000; stroke-width: 0.8"/>
</g>
</g>
</g>
<g id="xtick_7">
<g id="line2d_14">
<g>
<path d="M 0 0 L 0 3.5 
" transform="translate(238.06 115.83)" style="stroke: #000000; stroke-width: 0.8; stroke: #000000; stroke-width: 0.8"/>
</g>
</g>
</g>
<g id="xtick_8">
<g id="line2d_15">
<g>
<path d="M 0 0 L 0 3.5 
" transform="translate(328.04 115.83)" style="stroke: #000000; stroke-width: 0.8; stroke: #000000; stroke-width: 0.8"/>
</g>
</g>
</g>
</g>
<g id="matplotlib.axis_4">
<g id="ytick_3">
<g id="line2d_16">
<g>
<path d="M 0 0 L -3.5 0 
" transform="translate(50.61 82.89)" style="stroke: #000000; stroke-width: 0.8; stroke: #000000; stroke-width: 0.8"/>
</g>
</g>
<g id="text_4">
<text style="font-size: 10px; font-family: 'DejaVu Sans', sans-serif; text-anchor: end" x="43.61" y="86.69" transform="rotate(-0 43.61 86.69)">0</text>
</g>
</g>
<g id="ytick_4">
<g id="line2d_17">
<g>
<path d="M 0 0 L -3.5 0 
" transform="translate(50.61 101.14)" style="stroke: #000000; stroke-width: 0.8; stroke: #000000; stroke-width: 0.8"/>
</g>
</g>
<g id="text_5">
<text style="font-size: 10px; font-family: 'DejaVu Sans', sans-serif; text-anchor: end" x="43.61" y="104.94" transform="rotate(-0 43.61 104.94)">−2</text>
</g>
</g>
<g id="text_6">
<g transform="translate(10.21 106.15) rotate(-90)">
<text>
<tspan x="0" y="-0.26" style="font-size: 10px; font-family: 'DejaVu Sans', sans-serif">Δ</tspan>
<tspan x="6.84" y="-0.26" style="font-style: oblique; font-size: 10px; font-family: 'DejaVu Sans', sans-serif">T</tspan>
<tspan x="13.65" y="-4.09" style="font-size: 7px; font-family: 'DejaVu Sans', sans-serif">e</tspan>
<tspan x="17.96" y="-4.09" style="font-size: 7px; font-family: 'DejaVu Sans', sans-serif">s</tspan>
<tspan x="21.61" y="-4.09" style="font-size: 7px; font-family: 'DejaVu Sans', sans-serif">t</tspan>
<tspan x="12.95" y="2.47" style="font-style: oblique; font-size: 7px; font-family: 'DejaVu Sans', sans-serif">s</tspan>
</text>
</g>
<text style="font-size: 10px; font-family: 'DejaVu Sans', sans-serif" transform="translate(22.14 100.56) rotate(-90)">(K)</text>
</g>
</g>
<g id="line2d_18">
<path d="M 50.61 82.89 L 410.52 82.89 
" clip-path="url(#p20a353cc69)" style="fill: none; stroke-dasharray: 2.96,1.28; stroke-dashoffset: 0; stroke: #808080; stroke-width: 0.8"/>
</g>
<g id="LineCollection_5">
<path d="M 175.08 86.27 L 175.08 84.99 
" clip-path="url(#p20a353cc69)" style="fill: none; stroke: #6a6a6a; stroke-width: 0.45"/>
<path d="M 190.08 88.55 L 190.08 86.54 
" clip-path="url(#p20a353cc69)" style="fill: none; stroke: #6a6a6a; stroke-width: 0.45"/>
<path d="M 205.07 90.55 L 205.07 88.18 
" clip-path="url(#p20a353cc69)" style="fill: none; stroke: #6a6a6a; stroke-width: 0.45"/>
<path d="M 220.07 91.88 L 220.07 89.23 
" clip-path="url(#p20a353cc69)" style="fill: none; stroke: #6a6a6a; stroke-width: 0.45"/>
<path d="M 235.06 92.56 L 235.06 89.64 
" clip-path="url(#p20a353cc69)" style="fill: none; stroke: #6a6a6a; stroke-width: 0.45"/>
<path d="M 250.06 92.52 L 250.06 89.87 
" clip-path="url(#p20a353cc69)" style="fill: none; stroke: #6a6a6a; stroke-width: 0.45"/>
<path d="M 265.06 91.56 L 265.06 89.19 
" clip-path="url(#p20a353cc69)" style="fill: none; stroke: #6a6a6a; stroke-width: 0.45"/>
<path d="M 280.05 90.19 L 280.05 88.18 
" clip-path="url(#p20a353cc69)" style="fill: none; stroke: #6a6a6a; stroke-width: 0.45"/>
<path d="M 295.05 88.43 L 295.05 86.84 
" clip-path="url(#p20a353cc69)" style="fill: none; stroke: #6a6a6a; stroke-width: 0.45"/>
<path d="M 310.05 86.9 L 310.05 85.44 
" clip-path="url(#p20a353cc69)" style="fill: none; stroke: #6a6a6a; stroke-width: 0.45"/>
</g>
<g id="LineCollection_6">
<path d="M 55.11 83.53 L 55.11 82.98 
" clip-path="url(#p20a353cc69)" style="fill: none"/>
<path d="M 70.11 83.53 L 70.11 82.98 
" clip-path="url(#p20a353cc69)" style="fill: none"/>
<path d="M 85.1 83.53 L 85.1 82.98 
" clip-path="url(#p20a353cc69)" style="fill: none"/>
<path d="M 100.1 83.53 L 100.1 82.98 
" clip-path="url(#p20a353cc69)" style="fill: none"/>
<path d="M 115.09 83.53 L 115.09 82.98 
" clip-path="url(#p20a353cc69)" style="fill: none"/>
<path d="M 130.09 83.53 L 130.09 82.98 
" clip-path="url(#p20a353cc69)" style="fill: none"/>
<path d="M 145.09 83.34 L 145.09 82.8 
" clip-path="url(#p20a353cc69)" style="fill: none"/>
<path d="M 160.08 84.26 L 160.08 83.71 
" clip-path="url(#p20a353cc69)" style="fill: none"/>
<path d="M 175.08 86.27 L 175.08 84.99 
" clip-path="url(#p20a353cc69)" style="fill: none"/>
<path d="M 190.08 88.55 L 190.08 86.54 
" clip-path="url(#p20a353cc69)" style="fill: none"/>
<path d="M 205.07 90.55 L 205.07 88.18 
" clip-path="url(#p20a353cc69)" style="fill: none"/>
<path d="M 220.07 91.88 L 220.07 89.23 
" clip-path="url(#p20a353cc69)" style="fill: none"/>
<path d="M 235.06 92.56 L 235.06 89.64 
" clip-path="url(#p20a353cc69)" style="fill: none"/>
<path d="M 250.06 92.52 L 250.06 89.87 
" clip-path="url(#p20a353cc69)" style="fill: none"/>
<path d="M 265.06 91.56 L 265.06 89.19 
" clip-path="url(#p20a353cc69)" style="fill: none"/>
<path d="M 280.05 90.19 L 280.05 88.18 
" clip-path="url(#p20a353cc69)" style="fill: none"/>
<path d="M 295.05 88.43 L 295.05 86.84 
" clip-path="url(#p20a353cc69)" style="fill: none"/>
<path d="M 310.05 86.9 L 310.05 85.44 
" clip-path="url(#p20a353cc69)" style="fill: none"/>
<path d="M 325.04 85.08 L 325.04 84.35 
" clip-path="url(#p20a353cc69)" style="fill: none"/>
<path d="M 340.04 84.62 L 340.04 84.08 
" clip-path="url(#p20a353cc69)" style="fill: none"/>
<path d="M 355.03 84.17 L 355.03 83.62 
" clip-path="url(#p20a353cc69)" style="fill: none"/>
<path d="M 370.03 83.98 L 370.03 83.44 
" clip-path="url(#p20a353cc69)" style="fill: none"/>
<path d="M 385.03 83.71 L 385.03 83.16 
" clip-path="url(#p20a353cc69)" style="fill: none"/>
<path d="M 400.02 83.71 L 400.02 83.16 
" clip-path="url(#p20a353cc69)" style="fill: none"/>
</g>
<g id="line2d_19">
<g clip-path="url(#p20a353cc69)">
<path d="M 2 0 L -2 -0 
" transform="translate(55.11 83.53)" style="fill: #1f77b4; stroke: #000000; stroke: #000000"/>
<path d="M 2 0 L -2 -0 
" transform="translate(70.11 83.53)" style="fill: #1f77b4; stroke: #000000; stroke: #000000"/>
<path d="M 2 0 L -2 -0 
" transform="translate(85.1 83.53)" style="fill: #1f77b4; stroke: #000000; stroke: #000000"/>
<path d="M 2 0 L -2 -0 
" transform="translate(100.1 83.53)" style="fill: #1f77b4; stroke: #000000; stroke: #000000"/>
<path d="M 2 0 L -2 -0 
" transform="translate(115.09 83.53)" style="fill: #1f77b4; stroke: #000000; stroke: #000000"/>
<path d="M 2 0 L -2 -0 
" transform="translate(130.09 83.53)" style="fill: #1f77b4; stroke: #000000; stroke: #000000"/>
<path d="M 2 0 L -2 -0 
" transform="translate(145.09 83.34)" style="fill: #1f77b4; stroke: #000000; stroke: #000000"/>
<path d="M 2 0 L -2 -0 
" transform="translate(160.08 84.26)" style="fill: #1f77b4; stroke: #000000; stroke: #000000"/>
<path d="M 2 0 L -2 -0 
" transform="translate(175.08 86.27)" style="fill: #1f77b4; stroke: #000000; stroke: #000000"/>
<path d="M 2 0 L -2 -0 
" transform="translate(190.08 88.55)" style="fill: #1f77b4; stroke: #000000; stroke: #000000"/>
<path d="M 2 0 L -2 -0 
" transform="translate(205.07 90.55)" style="fill: #1f77b4; stroke: #000000; stroke: #000000"/>
<path d="M 2 0 L -2 -0 
" transform="translate(220.07 91.88)" style="fill: #1f77b4; stroke: #000000; stroke: #000000"/>
<path d="M 2 0 L -2 -0 
" transform="translate(235.06 92.56)" style="fill: #1f77b4; stroke: #000000; stroke: #000000"/>
<path d="M 2 0 L -2 -0 
" transform="translate(250.06 92.52)" style="fill: #1f77b4; stroke: #000000; stroke: #000000"/>
<path d="M 2 0 L -2 -0 
" transform="translate(265.06 91.56)" style="fill: #1f77b4; stroke: #000000; stroke: #000000"/>
<path d="M 2 0 L -2 -0 
" transform="translate(280.05 90.19)" style="fill: #1f77b4; stroke: #000000; stroke: #000000"/>
<path d="M 2 0 L -2 -0 
" transform="translate(295.05 88.43)" style="fill: #1f77b4; stroke: #000000; stroke: #000000"/>
<path d="M 2 0 L -2 -0 
" transform="translate(310.05 86.9)" style="fill: #1f77b4; stroke: #000000; stroke: #000000"/>
<path d="M 2 0 L -2 -0 
" transform="translate(325.04 85.08)" style="fill: #1f77b4; stroke: #000000; stroke: #000000"/>
<path d="M 2 0 L -2 -0 
" transform="translate(340.04 84.62)" style="fill: #1f77b4; stroke: #000000; stroke: #000000"/>
<path d="M 2 0 L -2 -0 
" transform="translate(355.03 84.17)" style="fill: #1f77b4; stroke: #000000; stroke: #000000"/>
<path d="M 2 0 L -2 -0 
" transform="translate(370.03 83.98)" style="fill: #1f77b4; stroke: #000000; stroke: #000000"/>
<path d="M 2 0 L -2 -0 
" transform="translate(385.03 83.71)" style="fill: #1f77b4; stroke: #000000; stroke: #000000"/>
<path d="M 2 0 L -2 -0 
" transform="translate(400.02 83.71)" style="fill: #1f77b4; stroke: #000000; stroke: #000000"/>
</g>
</g>
<g id="line2d_20">
<g clip-path="url(#p20a353cc69)">
<path d="M 2 0 L -2 -0 
" transform="translate(55.11 82.98)" style="fill: #1f77b4; stroke: #000000; stroke: #000000"/>
<path d="M 2 0 L -2 -0 
" transform="translate(70.11 82.98)" style="fill: #1f77b4; stroke: #000000; stroke: #000000"/>
<path d="M 2 0 L -2 -0 
" transform="translate(85.1 82.98)" style="fill: #1f77b4; stroke: #000000; stroke: #000000"/>
<path d="M 2 0 L -2 -0 
" transform="translate(100.1 82.98)" style="fill: #1f77b4; stroke: #000000; stroke: #000000"/>
<path d="M 2 0 L -2 -0 
" transform="translate(115.09 82.98)" style="fill: #1f77b4; stroke: #000000; stroke: #000000"/>
<path d="M 2 0 L -2 -0 
" transform="translate(130.09 82.98)" style="fill: #1f77b4; stroke: #000000; stroke: #000000"/>
<path d="M 2 0 L -2 -0 
" transform="translate(145.09 82.8)" style="fill: #1f77b4; stroke: #000000; stroke: #000000"/>
<path d="M 2 0 L -2 -0 
" transform="translate(160.08 83.71)" style="fill: #1f77b4; stroke: #000000; stroke: #000000"/>
<path d="M 2 0 L -2 -0 
" transform="translate(175.08 84.99)" style="fill: #1f77b4; stroke: #000000; stroke: #000000"/>
<path d="M 2 0 L -2 -0 
" transform="translate(190.08 86.54)" style="fill: #1f77b4; stroke: #000000; stroke: #000000"/>
<path d="M 2 0 L -2 -0 
" transform="translate(205.07 88.18)" style="fill: #1f77b4; stroke: #000000; stroke: #000000"/>
<path d="M 2 0 L -2 -0 
" transform="translate(220.07 89.23)" style="fill: #1f77b4; stroke: #000000; stroke: #000000"/>
<path d="M 2 0 L -2 -0 
" transform="translate(235.06 89.64)" style="fill: #1f77b4; stroke: #000000; stroke: #000000"/>
<path d="M 2 0 L -2 -0 
" transform="translate(250.06 89.87)" style="fill: #1f77b4; stroke: #000000; stroke: #000000"/>
<path d="M 2 0 L -2 -0 
" transform="translate(265.06 89.19)" style="fill: #1f77b4; stroke: #000000; stroke: #000000"/>
<path d="M 2 0 L -2 -0 
" transform="translate(280.05 88.18)" style="fill: #1f77b4; stroke: #000000; stroke: #000000"/>
<path d="M 2 0 L -2 -0 
" transform="translate(295.05 86.84)" style="fill: #1f77b4; stroke: #000000; stroke: #000000"/>
<path d="M 2 0 L -2 -0 
" transform="translate(310.05 85.44)" style="fill: #1f77b4; stroke: #000000; stroke: #000000"/>
<path d="M 2 0 L -2 -0 
" transform="translate(325.04 84.35)" style="fill: #1f77b4; stroke: #000000; stroke: #000000"/>
<path d="M 2 0 L -2 -0 
" transform="translate(340.04 84.08)" style="fill: #1f77b4; stroke: #000000; stroke: #000000"/>
<path d="M 2 0 L -2 -0 
" transform="translate(355.03 83.62)" style="fill: #1f77b4; stroke: #000000; stroke: #000000"/>
<path d="M 2 0 L -2 -0 
" transform="translate(370.03 83.44)" style="fill: #1f77b4; stroke: #000000; stroke: #000000"/>
<path d="M 2 0 L -2 -0 
" transform="translate(385.03 83.16)" style="fill: #1f77b4; stroke: #000000; stroke: #000000"/>
<path d="M 2 0 L -2 -0 
" transform="translate(400.02 83.16)" style="fill: #1f77b4; stroke: #000000; stroke: #000000"/>
</g>
</g>
<g id="LineCollection_7"/>
<g id="LineCollection_8">
<path d="M 61.11 85.44 L 61.11 84.9 
" clip-path="url(#p20a353cc69)" style="fill: none"/>
<path d="M 76.1 85.35 L 76.1 84.81 
" clip-path="url(#p20a353cc69)" style="fill: none"/>
<path d="M 91.1 85.26 L 91.1 84.71 
" clip-path="url(#p20a353cc69)" style="fill: none"/>
<path d="M 106.1 85.26 L 106.1 84.71 
" clip-path="url(#p20a353cc69)" style="fill: none"/>
<path d="M 121.09 85.17 L 121.09 84.62 
" clip-path="url(#p20a353cc69)" style="fill: none"/>
<path d="M 136.09 85.17 L 136.09 84.62 
" clip-path="url(#p20a353cc69)" style="fill: none"/>
<path d="M 151.08 84.9 L 151.08 84.35 
" clip-path="url(#p20a353cc69)" style="fill: none"/>
<path d="M 166.08 83.98 L 166.08 83.44 
" clip-path="url(#p20a353cc69)" style="fill: none"/>
<path d="M 181.08 82.52 L 181.08 81.98 
" clip-path="url(#p20a353cc69)" style="fill: none"/>
<path d="M 196.07 81.52 L 196.07 80.97 
" clip-path="url(#p20a353cc69)" style="fill: none"/>
<path d="M 211.07 81.16 L 211.07 80.61 
" clip-path="url(#p20a353cc69)" style="fill: none"/>
<path d="M 226.07 80.79 L 226.07 80.24 
" clip-path="url(#p20a353cc69)" style="fill: none"/>
<path d="M 241.06 81.16 L 241.06 80.61 
" clip-path="url(#p20a353cc69)" style="fill: none"/>
<path d="M 256.06 81.34 L 256.06 80.79 
" clip-path="url(#p20a353cc69)" style="fill: none"/>
<path d="M 271.05 81.7 L 271.05 81.16 
" clip-path="url(#p20a353cc69)" style="fill: none"/>
<path d="M 286.05 82.07 L 286.05 81.52 
" clip-path="url(#p20a353cc69)" style="fill: none"/>
<path d="M 301.05 83.34 L 301.05 82.8 
" clip-path="url(#p20a353cc69)" style="fill: none"/>
<path d="M 316.04 84.81 L 316.04 84.26 
" clip-path="url(#p20a353cc69)" style="fill: none"/>
<path d="M 331.04 85.53 L 331.04 84.99 
" clip-path="url(#p20a353cc69)" style="fill: none"/>
<path d="M 346.04 85.53 L 346.04 84.99 
" clip-path="url(#p20a353cc69)" style="fill: none"/>
<path d="M 361.03 85.44 L 361.03 84.9 
" clip-path="url(#p20a353cc69)" style="fill: none"/>
<path d="M 376.03 85.44 L 376.03 84.9 
" clip-path="url(#p20a353cc69)" style="fill: none"/>
<path d="M 391.02 85.44 L 391.02 84.9 
" clip-path="url(#p20a353cc69)" style="fill: none"/>
<path d="M 406.02 85.44 L 406.02 84.9 
" clip-path="url(#p20a353cc69)" style="fill: none"/>
</g>
<g id="line2d_21">
<g clip-path="url(#p20a353cc69)">
<path d="M 2 0 L -2 -0 
" transform="translate(61.11 85.44)" style="fill: #1f77b4; stroke: #000000; stroke: #000000"/>
<path d="M 2 0 L -2 -0 
" transform="translate(76.1 85.35)" style="fill: #1f77b4; stroke: #000000; stroke: #000000"/>
<path d="M 2 0 L -2 -0 
" transform="translate(91.1 85.26)" style="fill: #1f77b4; stroke: #000000; stroke: #000000"/>
<path d="M 2 0 L -2 -0 
" transform="translate(106.1 85.26)" style="fill: #1f77b4; stroke: #000000; stroke: #000000"/>
<path d="M 2 0 L -2 -0 
" transform="translate(121.09 85.17)" style="fill: #1f77b4; stroke: #000000; stroke: #000000"/>
<path d="M 2 0 L -2 -0 
" transform="translate(136.09 85.17)" style="fill: #1f77b4; stroke: #000000; stroke: #000000"/>
<path d="M 2 0 L -2 -0 
" transform="translate(151.08 84.9)" style="fill: #1f77b4; stroke: #000000; stroke: #000000"/>
<path d="M 2 0 L -2 -0 
" transform="translate(166.08 83.98)" style="fill: #1f77b4; stroke: #000000; stroke: #000000"/>
<path d="M 2 0 L -2 -0 
" transform="translate(181.08 82.52)" style="fill: #1f77b4; stroke: #000000; stroke: #000000"/>
<path d="M 2 0 L -2 -0 
" transform="translate(196.07 81.52)" style="fill: #1f77b4; stroke: #000000; stroke: #000000"/>
<path d="M 2 0 L -2 -0 
" transform="translate(211.07 81.16)" style="fill: #1f77b4; stroke: #000000; stroke: #000000"/>
<path d="M 2 0 L -2 -0 
" transform="translate(226.07 80.79)" style="fill: #1f77b4; stroke: #000000; stroke: #000000"/>
<path d="M 2 0 L -2 -0 
" transform="translate(241.06 81.16)" style="fill: #1f77b4; stroke: #000000; stroke: #000000"/>
<path d="M 2 0 L -2 -0 
" transform="translate(256.06 81.34)" style="fill: #1f77b4; stroke: #000000; stroke: #000000"/>
<path d="M 2 0 L -2 -0 
" transform="translate(271.05 81.7)" style="fill: #1f77b4; stroke: #000000; stroke: #000000"/>
<path d="M 2 0 L -2 -0 
" transform="translate(286.05 82.07)" style="fill: #1f77b4; stroke: #000000; stroke: #000000"/>
<path d="M 2 0 L -2 -0 
" transform="translate(301.05 83.34)" style="fill: #1f77b4; stroke: #000000; stroke: #000000"/>
<path d="M 2 0 L -2 -0 
" transform="translate(316.04 84.81)" style="fill: #1f77b4; stroke: #000000; stroke: #000000"/>
<path d="M 2 0 L -2 -0 
" transform="translate(331.04 85.53)" style="fill: #1f77b4; stroke: #000000; stroke: #000000"/>
<path d="M 2 0 L -2 -0 
" transform="translate(346.04 85.53)" style="fill: #1f77b4; stroke: #000000; stroke: #000000"/>
<path d="M 2 0 L -2 -0 
" transform="translate(361.03 85.44)" style="fill: #1f77b4; stroke: #000000; stroke: #000000"/>
<path d="M 2 0 L -2 -0 
" transform="translate(376.03 85.44)" style="fill: #1f77b4; stroke: #000000; stroke: #000000"/>
<path d="M 2 0 L -2 -0 
" transform="translate(391.02 85.44)" style="fill: #1f77b4; stroke: #000000; stroke: #000000"/>
<path d="M 2 0 L -2 -0 
" transform="translate(406.02 85.44)" style="fill: #1f77b4; stroke: #000000; stroke: #000000"/>
</g>
</g>
<g id="line2d_22">
<g clip-path="url(#p20a353cc69)">
<path d="M 2 0 L -2 -0 
" transform="translate(61.11 84.9)" style="fill: #1f77b4; stroke: #000000; stroke: #000000"/>
<path d="M 2 0 L -2 -0 
" transform="translate(76.1 84.81)" style="fill: #1f77b4; stroke: #000000; stroke: #000000"/>
<path d="M 2 0 L -2 -0 
" transform="translate(91.1 84.71)" style="fill: #1f77b4; stroke: #000000; stroke: #000000"/>
<path d="M 2 0 L -2 -0 
" transform="translate(106.1 84.71)" style="fill: #1f77b4; stroke: #000000; stroke: #000000"/>
<path d="M 2 0 L -2 -0 
" transform="translate(121.09 84.62)" style="fill: #1f77b4; stroke: #000000; stroke: #000000"/>
<path d="M 2 0 L -2 -0 
" transform="translate(136.09 84.62)" style="fill: #1f77b4; stroke: #000000; stroke: #000000"/>
<path d="M 2 0 L -2 -0 
" transform="translate(151.08 84.35)" style="fill: #1f77b4; stroke: #000000; stroke: #000000"/>
<path d="M 2 0 L -2 -0 
" transform="translate(166.08 83.44)" style="fill: #1f77b4; stroke: #000000; stroke: #000000"/>
<path d="M 2 0 L -2 -0 
" transform="translate(181.08 81.98)" style="fill: #1f77b4; stroke: #000000; stroke: #000000"/>
<path d="M 2 0 L -2 -0 
" transform="translate(196.07 80.97)" style="fill: #1f77b4; stroke: #000000; stroke: #000000"/>
<path d="M 2 0 L -2 -0 
" transform="translate(211.07 80.61)" style="fill: #1f77b4; stroke: #000000; stroke: #000000"/>
<path d="M 2 0 L -2 -0 
" transform="translate(226.07 80.24)" style="fill: #1f77b4; stroke: #000000; stroke: #000000"/>
<path d="M 2 0 L -2 -0 
" transform="translate(241.06 80.61)" style="fill: #1f77b4; stroke: #000000; stroke: #000000"/>
<path d="M 2 0 L -2 -0 
" transform="translate(256.06 80.79)" style="fill: #1f77b4; stroke: #000000; stroke: #000000"/>
<path d="M 2 0 L -2 -0 
" transform="translate(271.05 81.16)" style="fill: #1f77b4; stroke: #000000; stroke: #000000"/>
<path d="M 2 0 L -2 -0 
" transform="translate(286.05 81.52)" style="fill: #1f77b4; stroke: #000000; stroke: #000000"/>
<path d="M 2 0 L -2 -0 
" transform="translate(301.05 82.8)" style="fill: #1f77b4; stroke: #000000; stroke: #000000"/>
<path d="M 2 0 L -2 -0 
" transform="translate(316.04 84.26)" style="fill: #1f77b4; stroke: #000000; stroke: #000000"/>
<path d="M 2 0 L -2 -0 
" transform="translate(331.04 84.99)" style="fill: #1f77b4; stroke: #000000; stroke: #000000"/>
<path d="M 2 0 L -2 -0 
" transform="translate(346.04 84.99)" style="fill: #1f77b4; stroke: #000000; stroke: #000000"/>
<path d="M 2 0 L -2 -0 
" transform="translate(361.03 84.9)" style="fill: #1f77b4; stroke: #000000; stroke: #000000"/>
<path d="M 2 0 L -2 -0 
" transform="translate(376.03 84.9)" style="fill: #1f77b4; stroke: #000000; stroke: #000000"/>
<path d="M 2 0 L -2 -0 
" transform="translate(391.02 84.9)" style="fill: #1f77b4; stroke: #000000; stroke: #000000"/>
<path d="M 2 0 L -2 -0 
" transform="translate(406.02 84.9)" style="fill: #1f77b4; stroke: #000000; stroke: #000000"/>
</g>
</g>
<g id="patch_104">
<path d="M 50.61 115.83 L 50.61 70.94 
" style="fill: none; stroke: #000000; stroke-width: 0.8; stroke-linejoin: miter; stroke-linecap: square"/>
</g>
<g id="patch_105">
<path d="M 410.52 115.83 L 410.52 70.94 
" style="fill: none; stroke: #000000; stroke-width: 0.8; stroke-linejoin: miter; stroke-linecap: square"/>
</g>
<g id="patch_106">
<path d="M 50.61 115.83 L 410.52 115.83 
" style="fill: none; stroke: #000000; stroke-width: 0.8; stroke-linejoin: miter; stroke-linecap: square"/>
</g>
<g id="patch_107">
<path d="M 50.61 70.94 L 410.52 70.94 
" style="fill: none; stroke: #000000; stroke-width: 0.8; stroke-linejoin: miter; stroke-linecap: square"/>
</g>
</g>
<g id="axes_3">
<g id="patch_108">
<path d="M 50.61 160.72 L 410.52 160.72 L 410.52 115.83 L 50.61 115.83 z
" style="fill: #ffffff"/>
</g>
<g id="patch_109">
<path d="M 52.11 127.78 L 58.11 127.78 L 58.11 127.78 L 52.11 127.78 z
" clip-path="url(#pe785c8acbe)" style="fill: #cd853f"/>
</g>
<g id="patch_110">
<path d="M 67.11 127.78 L 73.1 127.78 L 73.1 127.78 L 67.11 127.78 z
" clip-path="url(#pe785c8acbe)" style="fill: #cd853f"/>
</g>
<g id="patch_111">
<path d="M 82.1 127.78 L 88.1 127.78 L 88.1 127.78 L 82.1 127.78 z
" clip-path="url(#pe785c8acbe)" style="fill: #cd853f"/>
</g>
<g id="patch_112">
<path d="M 97.1 127.78 L 103.1 127.78 L 103.1 127.78 L 97.1 127.78 z
" clip-path="url(#pe785c8acbe)" style="fill: #cd853f"/>
</g>
<g id="patch_113">
<path d="M 112.09 127.78 L 118.09 127.78 L 118.09 127.78 L 112.09 127.78 z
" clip-path="url(#pe785c8acbe)" style="fill: #cd853f"/>
</g>
<g id="patch_114">
<path d="M 127.09 127.78 L 133.09 127.78 L 133.09 127.78 L 127.09 127.78 z
" clip-path="url(#pe785c8acbe)" style="fill: #cd853f"/>
</g>
<g id="patch_115">
<path d="M 142.09 127.78 L 148.09 127.78 L 148.09 127.78 L 142.09 127.78 z
" clip-path="url(#pe785c8acbe)" style="fill: #cd853f"/>
</g>
<g id="patch_116">
<path d="M 157.08 127.78 L 163.08 127.78 L 163.08 127.05 L 157.08 127.05 z
" clip-path="url(#pe785c8acbe)" style="fill: #cd853f"/>
</g>
<g id="patch_117">
<path d="M 172.08 127.78 L 178.08 127.78 L 178.08 125.59 L 172.08 125.59 z
" clip-path="url(#pe785c8acbe)" style="fill: #cd853f"/>
</g>
<g id="patch_118">
<path d="M 187.08 127.78 L 193.07 127.78 L 193.07 123.86 L 187.08 123.86 z
" clip-path="url(#pe785c8acbe)" style="fill: #cd853f"/>
</g>
<g id="patch_119">
<path d="M 202.07 127.78 L 208.07 127.78 L 208.07 122.67 L 202.07 122.67 z
" clip-path="url(#pe785c8acbe)" style="fill: #cd853f"/>
</g>
<g id="patch_120">
<path d="M 217.07 127.78 L 223.07 127.78 L 223.07 121.94 L 217.07 121.94 z
" clip-path="url(#pe785c8acbe)" style="fill: #cd853f"/>
</g>
<g id="patch_121">
<path d="M 232.06 127.78 L 238.06 127.78 L 238.06 121.76 L 232.06 121.76 z
" clip-path="url(#pe785c8acbe)" style="fill: #cd853f"/>
</g>
<g id="patch_122">
<path d="M 247.06 127.78 L 253.06 127.78 L 253.06 121.94 L 247.06 121.94 z
" clip-path="url(#pe785c8acbe)" style="fill: #cd853f"/>
</g>
<g id="patch_123">
<path d="M 262.06 127.78 L 268.06 127.78 L 268.06 122.49 L 262.06 122.49 z
" clip-path="url(#pe785c8acbe)" style="fill: #cd853f"/>
</g>
<g id="patch_124">
<path d="M 277.05 127.78 L 283.05 127.78 L 283.05 123.59 L 277.05 123.59 z
" clip-path="url(#pe785c8acbe)" style="fill: #cd853f"/>
</g>
<g id="patch_125">
<path d="M 292.05 127.78 L 298.05 127.78 L 298.05 124.95 L 292.05 124.95 z
" clip-path="url(#pe785c8acbe)" style="fill: #cd853f"/>
</g>
<g id="patch_126">
<path d="M 307.05 127.78 L 313.04 127.78 L 313.04 126.69 L 307.05 126.69 z
" clip-path="url(#pe785c8acbe)" style="fill: #cd853f"/>
</g>
<g id="patch_127">
<path d="M 322.04 127.78 L 328.04 127.78 L 328.04 127.78 L 322.04 127.78 z
" clip-path="url(#pe785c8acbe)" style="fill: #cd853f"/>
</g>
<g id="patch_128">
<path d="M 337.04 127.78 L 343.04 127.78 L 343.04 127.78 L 337.04 127.78 z
" clip-path="url(#pe785c8acbe)" style="fill: #cd853f"/>
</g>
<g id="patch_129">
<path d="M 352.03 127.78 L 358.03 127.78 L 358.03 127.78 L 352.03 127.78 z
" clip-path="url(#pe785c8acbe)" style="fill: #cd853f"/>
</g>
<g id="patch_130">
<path d="M 367.03 127.78 L 373.03 127.78 L 373.03 127.78 L 367.03 127.78 z
" clip-path="url(#pe785c8acbe)" style="fill: #cd853f"/>
</g>
<g id="patch_131">
<path d="M 382.03 127.78 L 388.03 127.78 L 388.03 127.78 L 382.03 127.78 z
" clip-path="url(#pe785c8acbe)" style="fill: #cd853f"/>
</g>
<g id="patch_132">
<path d="M 397.02 127.78 L 403.02 127.78 L 403.02 127.78 L 397.02 127.78 z
" clip-path="url(#pe785c8acbe)" style="fill: #cd853f"/>
</g>
<g id="patch_133">
<path d="M 58.11 127.78 L 64.11 127.78 L 64.11 127.78 L 58.11 127.78 z
" clip-path="url(#pe785c8acbe)" style="fill: #20b2aa"/>
</g>
<g id="patch_134">
<path d="M 73.1 127.78 L 79.1 127.78 L 79.1 127.78 L 73.1 127.78 z
" clip-path="url(#pe785c8acbe)" style="fill: #20b2aa"/>
</g>
<g id="patch_135">
<path d="M 88.1 127.78 L 94.1 127.78 L 94.1 127.78 L 88.1 127.78 z
" clip-path="url(#pe785c8acbe)" style="fill: #20b2aa"/>
</g>
<g id="patch_136">
<path d="M 103.1 127.78 L 109.1 127.78 L 109.1 127.78 L 103.1 127.78 z
" clip-path="url(#pe785c8acbe)" style="fill: #20b2aa"/>
</g>
<g id="patch_137">
<path d="M 118.09 127.78 L 124.09 127.78 L 124.09 127.78 L 118.09 127.78 z
" clip-path="url(#pe785c8acbe)" style="fill: #20b2aa"/>
</g>
<g id="patch_138">
<path d="M 133.09 127.78 L 139.09 127.78 L 139.09 127.78 L 133.09 127.78 z
" clip-path="url(#pe785c8acbe)" style="fill: #20b2aa"/>
</g>
<g id="patch_139">
<path d="M 148.09 127.78 L 154.08 127.78 L 154.08 127.97 L 148.09 127.97 z
" clip-path="url(#pe785c8acbe)" style="fill: #20b2aa"/>
</g>
<g id="patch_140">
<path d="M 163.08 127.78 L 169.08 127.78 L 169.08 131.07 L 163.08 131.07 z
" clip-path="url(#pe785c8acbe)" style="fill: #20b2aa"/>
</g>
<g id="patch_141">
<path d="M 178.08 127.78 L 184.08 127.78 L 184.08 135.72 L 178.08 135.72 z
" clip-path="url(#pe785c8acbe)" style="fill: #20b2aa"/>
</g>
<g id="patch_142">
<path d="M 193.07 127.78 L 199.07 127.78 L 199.07 139.83 L 193.07 139.83 z
" clip-path="url(#pe785c8acbe)" style="fill: #20b2aa"/>
</g>
<g id="patch_143">
<path d="M 208.07 127.78 L 214.07 127.78 L 214.07 142.57 L 208.07 142.57 z
" clip-path="url(#pe785c8acbe)" style="fill: #20b2aa"/>
</g>
<g id="patch_144">
<path d="M 223.07 127.78 L 229.07 127.78 L 229.07 144.12 L 223.07 144.12 z
" clip-path="url(#pe785c8acbe)" style="fill: #20b2aa"/>
</g>
<g id="patch_145">
<path d="M 238.06 127.78 L 244.06 127.78 L 244.06 144.48 L 238.06 144.48 z
" clip-path="url(#pe785c8acbe)" style="fill: #20b2aa"/>
</g>
<g id="patch_146">
<path d="M 253.06 127.78 L 259.06 127.78 L 259.06 143.94 L 253.06 143.94 z
" clip-path="url(#pe785c8acbe)" style="fill: #20b2aa"/>
</g>
<g id="patch_147">
<path d="M 268.06 127.78 L 274.05 127.78 L 274.05 141.47 L 268.06 141.47 z
" clip-path="url(#pe785c8acbe)" style="fill: #20b2aa"/>
</g>
<g id="patch_148">
<path d="M 283.05 127.78 L 289.05 127.78 L 289.05 138.37 L 283.05 138.37 z
" clip-path="url(#pe785c8acbe)" style="fill: #20b2aa"/>
</g>
<g id="patch_149">
<path d="M 298.05 127.78 L 304.05 127.78 L 304.05 134.35 L 298.05 134.35 z
" clip-path="url(#pe785c8acbe)" style="fill: #20b2aa"/>
</g>
<g id="patch_150">
<path d="M 313.04 127.78 L 319.04 127.78 L 319.04 130.06 L 313.04 130.06 z
" clip-path="url(#pe785c8acbe)" style="fill: #20b2aa"/>
</g>
<g id="patch_151">
<path d="M 328.04 127.78 L 334.04 127.78 L 334.04 128.06 L 328.04 128.06 z
" clip-path="url(#pe785c8acbe)" style="fill: #20b2aa"/>
</g>
<g id="patch_152">
<path d="M 343.04 127.78 L 349.04 127.78 L 349.04 127.78 L 343.04 127.78 z
" clip-path="url(#pe785c8acbe)" style="fill: #20b2aa"/>
</g>
<g id="patch_153">
<path d="M 358.03 127.78 L 364.03 127.78 L 364.03 127.78 L 358.03 127.78 z
" clip-path="url(#pe785c8acbe)" style="fill: #20b2aa"/>
</g>
<g id="patch_154">
<path d="M 373.03 127.78 L 379.03 127.78 L 379.03 127.78 L 373.03 127.78 z
" clip-path="url(#pe785c8acbe)" style="fill: #20b2aa"/>
</g>
<g id="patch_155">
<path d="M 388.03 127.78 L 394.02 127.78 L 394.02 127.78 L 388.03 127.78 z
" clip-path="url(#pe785c8acbe)" style="fill: #20b2aa"/>
</g>
<g id="patch_156">
<path d="M 403.02 127.78 L 409.02 127.78 L 409.02 127.78 L 403.02 127.78 z
" clip-path="url(#pe785c8acbe)" style="fill: #20b2aa"/>
</g>
<g id="matplotlib.axis_5">
<g id="xtick_9">
<g id="line2d_23">
<g>
<path d="M 0 0 L 0 3.5 
" transform="translate(58.11 160.72)" style="stroke: #000000; stroke-width: 0.8; stroke: #000000; stroke-width: 0.8"/>
</g>
</g>
</g>
<g id="xtick_10">
<g id="line2d_24">
<g>
<path d="M 0 0 L 0 3.5 
" transform="translate(148.09 160.72)" style="stroke: #000000; stroke-width: 0.8; stroke: #000000; stroke-width: 0.8"/>
</g>
</g>
</g>
<g id="xtick_11">
<g id="line2d_25">
<g>
<path d="M 0 0 L 0 3.5 
" transform="translate(238.06 160.72)" style="stroke: #000000; stroke-width: 0.8; stroke: #000000; stroke-width: 0.8"/>
</g>
</g>
</g>
<g id="xtick_12">
<g id="line2d_26">
<g>
<path d="M 0 0 L 0 3.5 
" transform="translate(328.04 160.72)" style="stroke: #000000; stroke-width: 0.8; stroke: #000000; stroke-width: 0.8"/>
</g>
</g>
</g>
</g>
<g id="matplotlib.axis_6">
<g id="ytick_5">
<g id="line2d_27">
<g>
<path d="M 0 0 L -3.5 0 
" transform="translate(50.61 127.78)" style="stroke: #000000; stroke-width: 0.8; stroke: #000000; stroke-width: 0.8"/>
</g>
</g>
<g id="text_7">
<text style="font-size: 10px; font-family: 'DejaVu Sans', sans-serif; text-anchor: end" x="43.61" y="131.58" transform="rotate(-0 43.61 131.58)">0</text>
</g>
</g>
<g id="ytick_6">
<g id="line2d_28">
<g>
<path d="M 0 0 L -3.5 0 
" transform="translate(50.61 146.03)" style="stroke: #000000; stroke-width: 0.8; stroke: #000000; stroke-width: 0.8"/>
</g>
</g>
<g id="text_8">
<text style="font-size: 10px; font-family: 'DejaVu Sans', sans-serif; text-anchor: end" x="43.61" y="149.83" transform="rotate(-0 43.61 149.83)">−2</text>
</g>
</g>
<g id="text_9">
<g transform="translate(10.46 149.58) rotate(-90)">
<text>
<tspan x="0" y="-0.7" style="font-size: 10px; font-family: 'DejaVu Sans', sans-serif">B</tspan>
<tspan x="6.86" y="-0.7" style="font-size: 10px; font-family: 'DejaVu Sans', sans-serif">y</tspan>
<tspan x="12.78" y="-0.7" style="font-size: 10px; font-family: 'DejaVu Sans', sans-serif"> </tspan>
<tspan x="15.96" y="-0.7" style="font-style: oblique; font-size: 10px; font-family: 'DejaVu Sans', sans-serif">α</tspan>
</text>
</g>
<text style="font-size: 10px; font-family: 'DejaVu Sans', sans-serif" transform="translate(22.14 145.07) rotate(-90)">(k)</text>
</g>
</g>
<g id="line2d_29">
<path d="M 50.61 127.78 L 410.52 127.78 
" clip-path="url(#pe785c8acbe)" style="fill: none; stroke-dasharray: 2.96,1.28; stroke-dashoffset: 0; stroke: #808080; stroke-width: 0.8"/>
</g>
<g id="LineCollection_9">
<path d="M 175.08 126.05 L 175.08 125.14 
" clip-path="url(#pe785c8acbe)" style="fill: none; stroke: #6a6a6a; stroke-width: 0.45"/>
<path d="M 190.08 124.59 L 190.08 123.13 
" clip-path="url(#pe785c8acbe)" style="fill: none; stroke: #6a6a6a; stroke-width: 0.45"/>
<path d="M 205.07 123.4 L 205.07 121.94 
" clip-path="url(#pe785c8acbe)" style="fill: none; stroke: #6a6a6a; stroke-width: 0.45"/>
<path d="M 220.07 122.8 L 220.07 121.09 
" clip-path="url(#pe785c8acbe)" style="fill: none; stroke: #6a6a6a; stroke-width: 0.45"/>
<path d="M 235.06 122.95 L 235.06 120.58 
" clip-path="url(#pe785c8acbe)" style="fill: none; stroke: #6a6a6a; stroke-width: 0.45"/>
<path d="M 250.06 122.95 L 250.06 120.94 
" clip-path="url(#pe785c8acbe)" style="fill: none; stroke: #6a6a6a; stroke-width: 0.45"/>
<path d="M 265.06 123.35 L 265.06 121.63 
" clip-path="url(#pe785c8acbe)" style="fill: none; stroke: #6a6a6a; stroke-width: 0.45"/>
<path d="M 280.05 124.32 L 280.05 122.86 
" clip-path="url(#pe785c8acbe)" style="fill: none; stroke: #6a6a6a; stroke-width: 0.45"/>
</g>
<g id="LineCollection_10">
<path d="M 55.11 127.97 L 55.11 127.6 
" clip-path="url(#pe785c8acbe)" style="fill: none"/>
<path d="M 70.11 127.97 L 70.11 127.6 
" clip-path="url(#pe785c8acbe)" style="fill: none"/>
<path d="M 85.1 127.97 L 85.1 127.6 
" clip-path="url(#pe785c8acbe)" style="fill: none"/>
<path d="M 100.1 127.97 L 100.1 127.6 
" clip-path="url(#pe785c8acbe)" style="fill: none"/>
<path d="M 115.09 127.97 L 115.09 127.6 
" clip-path="url(#pe785c8acbe)" style="fill: none"/>
<path d="M 130.09 127.97 L 130.09 127.6 
" clip-path="url(#pe785c8acbe)" style="fill: none"/>
<path d="M 145.09 127.97 L 145.09 127.6 
" clip-path="url(#pe785c8acbe)" style="fill: none"/>
<path d="M 160.08 127.24 L 160.08 126.87 
" clip-path="url(#pe785c8acbe)" style="fill: none"/>
<path d="M 175.08 126.05 L 175.08 125.14 
" clip-path="url(#pe785c8acbe)" style="fill: none"/>
<path d="M 190.08 124.59 L 190.08 123.13 
" clip-path="url(#pe785c8acbe)" style="fill: none"/>
<path d="M 205.07 123.4 L 205.07 121.94 
" clip-path="url(#pe785c8acbe)" style="fill: none"/>
<path d="M 220.07 122.8 L 220.07 121.09 
" clip-path="url(#pe785c8acbe)" style="fill: none"/>
<path d="M 235.06 122.95 L 235.06 120.58 
" clip-path="url(#pe785c8acbe)" style="fill: none"/>
<path d="M 250.06 122.95 L 250.06 120.94 
" clip-path="url(#pe785c8acbe)" style="fill: none"/>
<path d="M 265.06 123.35 L 265.06 121.63 
" clip-path="url(#pe785c8acbe)" style="fill: none"/>
<path d="M 280.05 124.32 L 280.05 122.86 
" clip-path="url(#pe785c8acbe)" style="fill: none"/>
<path d="M 295.05 125.23 L 295.05 124.68 
" clip-path="url(#pe785c8acbe)" style="fill: none"/>
<path d="M 310.05 126.96 L 310.05 126.42 
" clip-path="url(#pe785c8acbe)" style="fill: none"/>
<path d="M 325.04 127.97 L 325.04 127.6 
" clip-path="url(#pe785c8acbe)" style="fill: none"/>
<path d="M 340.04 127.97 L 340.04 127.6 
" clip-path="url(#pe785c8acbe)" style="fill: none"/>
<path d="M 355.03 127.97 L 355.03 127.6 
" clip-path="url(#pe785c8acbe)" style="fill: none"/>
<path d="M 370.03 127.97 L 370.03 127.6 
" clip-path="url(#pe785c8acbe)" style="fill: none"/>
<path d="M 385.03 127.97 L 385.03 127.6 
" clip-path="url(#pe785c8acbe)" style="fill: none"/>
<path d="M 400.02 127.97 L 400.02 127.6 
" clip-path="url(#pe785c8acbe)" style="fill: none"/>
</g>
<g id="line2d_30">
<g clip-path="url(#pe785c8acbe)">
<path d="M 2 0 L -2 -0 
" transform="translate(55.11 127.97)" style="fill: #1f77b4; stroke: #000000; stroke: #000000"/>
<path d="M 2 0 L -2 -0 
" transform="translate(70.11 127.97)" style="fill: #1f77b4; stroke: #000000; stroke: #000000"/>
<path d="M 2 0 L -2 -0 
" transform="translate(85.1 127.97)" style="fill: #1f77b4; stroke: #000000; stroke: #000000"/>
<path d="M 2 0 L -2 -0 
" transform="translate(100.1 127.97)" style="fill: #1f77b4; stroke: #000000; stroke: #000000"/>
<path d="M 2 0 L -2 -0 
" transform="translate(115.09 127.97)" style="fill: #1f77b4; stroke: #000000; stroke: #000000"/>
<path d="M 2 0 L -2 -0 
" transform="translate(130.09 127.97)" style="fill: #1f77b4; stroke: #000000; stroke: #000000"/>
<path d="M 2 0 L -2 -0 
" transform="translate(145.09 127.97)" style="fill: #1f77b4; stroke: #000000; stroke: #000000"/>
<path d="M 2 0 L -2 -0 
" transform="translate(160.08 127.24)" style="fill: #1f77b4; stroke: #000000; stroke: #000000"/>
<path d="M 2 0 L -2 -0 
" transform="translate(175.08 126.05)" style="fill: #1f77b4; stroke: #000000; stroke: #000000"/>
<path d="M 2 0 L -2 -0 
" transform="translate(190.08 124.59)" style="fill: #1f77b4; stroke: #000000; stroke: #000000"/>
<path d="M 2 0 L -2 -0 
" transform="translate(205.07 123.4)" style="fill: #1f77b4; stroke: #000000; stroke: #000000"/>
<path d="M 2 0 L -2 -0 
" transform="translate(220.07 122.8)" style="fill: #1f77b4; stroke: #000000; stroke: #000000"/>
<path d="M 2 0 L -2 -0 
" transform="translate(235.06 122.95)" style="fill: #1f77b4; stroke: #000000; stroke: #000000"/>
<path d="M 2 0 L -2 -0 
" transform="translate(250.06 122.95)" style="fill: #1f77b4; stroke: #000000; stroke: #000000"/>
<path d="M 2 0 L -2 -0 
" transform="translate(265.06 123.35)" style="fill: #1f77b4; stroke: #000000; stroke: #000000"/>
<path d="M 2 0 L -2 -0 
" transform="translate(280.05 124.32)" style="fill: #1f77b4; stroke: #000000; stroke: #000000"/>
<path d="M 2 0 L -2 -0 
" transform="translate(295.05 125.23)" style="fill: #1f77b4; stroke: #000000; stroke: #000000"/>
<path d="M 2 0 L -2 -0 
" transform="translate(310.05 126.96)" style="fill: #1f77b4; stroke: #000000; stroke: #000000"/>
<path d="M 2 0 L -2 -0 
" transform="translate(325.04 127.97)" style="fill: #1f77b4; stroke: #000000; stroke: #000000"/>
<path d="M 2 0 L -2 -0 
" transform="translate(340.04 127.97)" style="fill: #1f77b4; stroke: #000000; stroke: #000000"/>
<path d="M 2 0 L -2 -0 
" transform="translate(355.03 127.97)" style="fill: #1f77b4; stroke: #000000; stroke: #000000"/>
<path d="M 2 0 L -2 -0 
" transform="translate(370.03 127.97)" style="fill: #1f77b4; stroke: #000000; stroke: #000000"/>
<path d="M 2 0 L -2 -0 
" transform="translate(385.03 127.97)" style="fill: #1f77b4; stroke: #000000; stroke: #000000"/>
<path d="M 2 0 L -2 -0 
" transform="translate(400.02 127.97)" style="fill: #1f77b4; stroke: #000000; stroke: #000000"/>
</g>
</g>
<g id="line2d_31">
<g clip-path="url(#pe785c8acbe)">
<path d="M 2 0 L -2 -0 
" transform="translate(55.11 127.6)" style="fill: #1f77b4; stroke: #000000; stroke: #000000"/>
<path d="M 2 0 L -2 -0 
" transform="translate(70.11 127.6)" style="fill: #1f77b4; stroke: #000000; stroke: #000000"/>
<path d="M 2 0 L -2 -0 
" transform="translate(85.1 127.6)" style="fill: #1f77b4; stroke: #000000; stroke: #000000"/>
<path d="M 2 0 L -2 -0 
" transform="translate(100.1 127.6)" style="fill: #1f77b4; stroke: #000000; stroke: #000000"/>
<path d="M 2 0 L -2 -0 
" transform="translate(115.09 127.6)" style="fill: #1f77b4; stroke: #000000; stroke: #000000"/>
<path d="M 2 0 L -2 -0 
" transform="translate(130.09 127.6)" style="fill: #1f77b4; stroke: #000000; stroke: #000000"/>
<path d="M 2 0 L -2 -0 
" transform="translate(145.09 127.6)" style="fill: #1f77b4; stroke: #000000; stroke: #000000"/>
<path d="M 2 0 L -2 -0 
" transform="translate(160.08 126.87)" style="fill: #1f77b4; stroke: #000000; stroke: #000000"/>
<path d="M 2 0 L -2 -0 
" transform="translate(175.08 125.14)" style="fill: #1f77b4; stroke: #000000; stroke: #000000"/>
<path d="M 2 0 L -2 -0 
" transform="translate(190.08 123.13)" style="fill: #1f77b4; stroke: #000000; stroke: #000000"/>
<path d="M 2 0 L -2 -0 
" transform="translate(205.07 121.94)" style="fill: #1f77b4; stroke: #000000; stroke: #000000"/>
<path d="M 2 0 L -2 -0 
" transform="translate(220.07 121.09)" style="fill: #1f77b4; stroke: #000000; stroke: #000000"/>
<path d="M 2 0 L -2 -0 
" transform="translate(235.06 120.58)" style="fill: #1f77b4; stroke: #000000; stroke: #000000"/>
<path d="M 2 0 L -2 -0 
" transform="translate(250.06 120.94)" style="fill: #1f77b4; stroke: #000000; stroke: #000000"/>
<path d="M 2 0 L -2 -0 
" transform="translate(265.06 121.63)" style="fill: #1f77b4; stroke: #000000; stroke: #000000"/>
<path d="M 2 0 L -2 -0 
" transform="translate(280.05 122.86)" style="fill: #1f77b4; stroke: #000000; stroke: #000000"/>
<path d="M 2 0 L -2 -0 
" transform="translate(295.05 124.68)" style="fill: #1f77b4; stroke: #000000; stroke: #000000"/>
<path d="M 2 0 L -2 -0 
" transform="translate(310.05 126.42)" style="fill: #1f77b4; stroke: #000000; stroke: #000000"/>
<path d="M 2 0 L -2 -0 
" transform="translate(325.04 127.6)" style="fill: #1f77b4; stroke: #000000; stroke: #000000"/>
<path d="M 2 0 L -2 -0 
" transform="translate(340.04 127.6)" style="fill: #1f77b4; stroke: #000000; stroke: #000000"/>
<path d="M 2 0 L -2 -0 
" transform="translate(355.03 127.6)" style="fill: #1f77b4; stroke: #000000; stroke: #000000"/>
<path d="M 2 0 L -2 -0 
" transform="translate(370.03 127.6)" style="fill: #1f77b4; stroke: #000000; stroke: #000000"/>
<path d="M 2 0 L -2 -0 
" transform="translate(385.03 127.6)" style="fill: #1f77b4; stroke: #000000; stroke: #000000"/>
<path d="M 2 0 L -2 -0 
" transform="translate(400.02 127.6)" style="fill: #1f77b4; stroke: #000000; stroke: #000000"/>
</g>
</g>
<g id="LineCollection_11"/>
<g id="LineCollection_12">
<path d="M 61.11 128.06 L 61.11 127.51 
" clip-path="url(#pe785c8acbe)" style="fill: none"/>
<path d="M 76.1 128.06 L 76.1 127.51 
" clip-path="url(#pe785c8acbe)" style="fill: none"/>
<path d="M 91.1 128.06 L 91.1 127.51 
" clip-path="url(#pe785c8acbe)" style="fill: none"/>
<path d="M 106.1 128.06 L 106.1 127.51 
" clip-path="url(#pe785c8acbe)" style="fill: none"/>
<path d="M 121.09 128.06 L 121.09 127.51 
" clip-path="url(#pe785c8acbe)" style="fill: none"/>
<path d="M 136.09 128.06 L 136.09 127.51 
" clip-path="url(#pe785c8acbe)" style="fill: none"/>
<path d="M 151.08 128.24 L 151.08 127.69 
" clip-path="url(#pe785c8acbe)" style="fill: none"/>
<path d="M 166.08 131.34 L 166.08 130.79 
" clip-path="url(#pe785c8acbe)" style="fill: none"/>
<path d="M 181.08 136 L 181.08 135.45 
" clip-path="url(#pe785c8acbe)" style="fill: none"/>
<path d="M 196.07 140.1 L 196.07 139.56 
" clip-path="url(#pe785c8acbe)" style="fill: none"/>
<path d="M 211.07 142.84 L 211.07 142.29 
" clip-path="url(#pe785c8acbe)" style="fill: none"/>
<path d="M 226.07 144.39 L 226.07 143.84 
" clip-path="url(#pe785c8acbe)" style="fill: none"/>
<path d="M 241.06 144.76 L 241.06 144.21 
" clip-path="url(#pe785c8acbe)" style="fill: none"/>
<path d="M 256.06 144.21 L 256.06 143.66 
" clip-path="url(#pe785c8acbe)" style="fill: none"/>
<path d="M 271.05 141.75 L 271.05 141.2 
" clip-path="url(#pe785c8acbe)" style="fill: none"/>
<path d="M 286.05 138.64 L 286.05 138.09 
" clip-path="url(#pe785c8acbe)" style="fill: none"/>
<path d="M 301.05 134.63 L 301.05 134.08 
" clip-path="url(#pe785c8acbe)" style="fill: none"/>
<path d="M 316.04 130.34 L 316.04 129.79 
" clip-path="url(#pe785c8acbe)" style="fill: none"/>
<path d="M 331.04 128.33 L 331.04 127.78 
" clip-path="url(#pe785c8acbe)" style="fill: none"/>
<path d="M 346.04 128.06 L 346.04 127.51 
" clip-path="url(#pe785c8acbe)" style="fill: none"/>
<path d="M 361.03 128.06 L 361.03 127.51 
" clip-path="url(#pe785c8acbe)" style="fill: none"/>
<path d="M 376.03 128.06 L 376.03 127.51 
" clip-path="url(#pe785c8acbe)" style="fill: none"/>
<path d="M 391.02 128.06 L 391.02 127.51 
" clip-path="url(#pe785c8acbe)" style="fill: none"/>
<path d="M 406.02 128.06 L 406.02 127.51 
" clip-path="url(#pe785c8acbe)" style="fill: none"/>
</g>
<g id="line2d_32">
<g clip-path="url(#pe785c8acbe)">
<path d="M 2 0 L -2 -0 
" transform="translate(61.11 128.06)" style="fill: #1f77b4; stroke: #000000; stroke: #000000"/>
<path d="M 2 0 L -2 -0 
" transform="translate(76.1 128.06)" style="fill: #1f77b4; stroke: #000000; stroke: #000000"/>
<path d="M 2 0 L -2 -0 
" transform="translate(91.1 128.06)" style="fill: #1f77b4; stroke: #000000; stroke: #000000"/>
<path d="M 2 0 L -2 -0 
" transform="translate(106.1 128.06)" style="fill: #1f77b4; stroke: #000000; stroke: #000000"/>
<path d="M 2 0 L -2 -0 
" transform="translate(121.09 128.06)" style="fill: #1f77b4; stroke: #000000; stroke: #000000"/>
<path d="M 2 0 L -2 -0 
" transform="translate(136.09 128.06)" style="fill: #1f77b4; stroke: #000000; stroke: #000000"/>
<path d="M 2 0 L -2 -0 
" transform="translate(151.08 128.24)" style="fill: #1f77b4; stroke: #000000; stroke: #000000"/>
<path d="M 2 0 L -2 -0 
" transform="translate(166.08 131.34)" style="fill: #1f77b4; stroke: #000000; stroke: #000000"/>
<path d="M 2 0 L -2 -0 
" transform="translate(181.08 136)" style="fill: #1f77b4; stroke: #000000; stroke: #000000"/>
<path d="M 2 0 L -2 -0 
" transform="translate(196.07 140.1)" style="fill: #1f77b4; stroke: #000000; stroke: #000000"/>
<path d="M 2 0 L -2 -0 
" transform="translate(211.07 142.84)" style="fill: #1f77b4; stroke: #000000; stroke: #000000"/>
<path d="M 2 0 L -2 -0 
" transform="translate(226.07 144.39)" style="fill: #1f77b4; stroke: #000000; stroke: #000000"/>
<path d="M 2 0 L -2 -0 
" transform="translate(241.06 144.76)" style="fill: #1f77b4; stroke: #000000; stroke: #000000"/>
<path d="M 2 0 L -2 -0 
" transform="translate(256.06 144.21)" style="fill: #1f77b4; stroke: #000000; stroke: #000000"/>
<path d="M 2 0 L -2 -0 
" transform="translate(271.05 141.75)" style="fill: #1f77b4; stroke: #000000; stroke: #000000"/>
<path d="M 2 0 L -2 -0 
" transform="translate(286.05 138.64)" style="fill: #1f77b4; stroke: #000000; stroke: #000000"/>
<path d="M 2 0 L -2 -0 
" transform="translate(301.05 134.63)" style="fill: #1f77b4; stroke: #000000; stroke: #000000"/>
<path d="M 2 0 L -2 -0 
" transform="translate(316.04 130.34)" style="fill: #1f77b4; stroke: #000000; stroke: #000000"/>
<path d="M 2 0 L -2 -0 
" transform="translate(331.04 128.33)" style="fill: #1f77b4; stroke: #000000; stroke: #000000"/>
<path d="M 2 0 L -2 -0 
" transform="translate(346.04 128.06)" style="fill: #1f77b4; stroke: #000000; stroke: #000000"/>
<path d="M 2 0 L -2 -0 
" transform="translate(361.03 128.06)" style="fill: #1f77b4; stroke: #000000; stroke: #000000"/>
<path d="M 2 0 L -2 -0 
" transform="translate(376.03 128.06)" style="fill: #1f77b4; stroke: #000000; stroke: #000000"/>
<path d="M 2 0 L -2 -0 
" transform="translate(391.02 128.06)" style="fill: #1f77b4; stroke: #000000; stroke: #000000"/>
<path d="M 2 0 L -2 -0 
" transform="translate(406.02 128.06)" style="fill: #1f77b4; stroke: #000000; stroke: #000000"/>
</g>
</g>
<g id="line2d_33">
<g clip-path="url(#pe785c8acbe)">
<path d="M 2 0 L -2 -0 
" transform="translate(61.11 127.51)" style="fill: #1f77b4; stroke: #000000; stroke: #000000"/>
<path d="M 2 0 L -2 -0 
" transform="translate(76.1 127.51)" style="fill: #1f77b4; stroke: #000000; stroke: #000000"/>
<path d="M 2 0 L -2 -0 
" transform="translate(91.1 127.51)" style="fill: #1f77b4; stroke: #000000; stroke: #000000"/>
<path d="M 2 0 L -2 -0 
" transform="translate(106.1 127.51)" style="fill: #1f77b4; stroke: #000000; stroke: #000000"/>
<path d="M 2 0 L -2 -0 
" transform="translate(121.09 127.51)" style="fill: #1f77b4; stroke: #000000; stroke: #000000"/>
<path d="M 2 0 L -2 -0 
" transform="translate(136.09 127.51)" style="fill: #1f77b4; stroke: #000000; stroke: #000000"/>
<path d="M 2 0 L -2 -0 
" transform="translate(151.08 127.69)" style="fill: #1f77b4; stroke: #000000; stroke: #000000"/>
<path d="M 2 0 L -2 -0 
" transform="translate(166.08 130.79)" style="fill: #1f77b4; stroke: #000000; stroke: #000000"/>
<path d="M 2 0 L -2 -0 
" transform="translate(181.08 135.45)" style="fill: #1f77b4; stroke: #000000; stroke: #000000"/>
<path d="M 2 0 L -2 -0 
" transform="translate(196.07 139.56)" style="fill: #1f77b4; stroke: #000000; stroke: #000000"/>
<path d="M 2 0 L -2 -0 
" transform="translate(211.07 142.29)" style="fill: #1f77b4; stroke: #000000; stroke: #000000"/>
<path d="M 2 0 L -2 -0 
" transform="translate(226.07 143.84)" style="fill: #1f77b4; stroke: #000000; stroke: #000000"/>
<path d="M 2 0 L -2 -0 
" transform="translate(241.06 144.21)" style="fill: #1f77b4; stroke: #000000; stroke: #000000"/>
<path d="M 2 0 L -2 -0 
" transform="translate(256.06 143.66)" style="fill: #1f77b4; stroke: #000000; stroke: #000000"/>
<path d="M 2 0 L -2 -0 
" transform="translate(271.05 141.2)" style="fill: #1f77b4; stroke: #000000; stroke: #000000"/>
<path d="M 2 0 L -2 -0 
" transform="translate(286.05 138.09)" style="fill: #1f77b4; stroke: #000000; stroke: #000000"/>
<path d="M 2 0 L -2 -0 
" transform="translate(301.05 134.08)" style="fill: #1f77b4; stroke: #000000; stroke: #000000"/>
<path d="M 2 0 L -2 -0 
" transform="translate(316.04 129.79)" style="fill: #1f77b4; stroke: #000000; stroke: #000000"/>
<path d="M 2 0 L -2 -0 
" transform="translate(331.04 127.78)" style="fill: #1f77b4; stroke: #000000; stroke: #000000"/>
<path d="M 2 0 L -2 -0 
" transform="translate(346.04 127.51)" style="fill: #1f77b4; stroke: #000000; stroke: #000000"/>
<path d="M 2 0 L -2 -0 
" transform="translate(361.03 127.51)" style="fill: #1f77b4; stroke: #000000; stroke: #000000"/>
<path d="M 2 0 L -2 -0 
" transform="translate(376.03 127.51)" style="fill: #1f77b4; stroke: #000000; stroke: #000000"/>
<path d="M 2 0 L -2 -0 
" transform="translate(391.02 127.51)" style="fill: #1f77b4; stroke: #000000; stroke: #000000"/>
<path d="M 2 0 L -2 -0 
" transform="translate(406.02 127.51)" style="fill: #1f77b4; stroke: #000000; stroke: #000000"/>
</g>
</g>
<g id="patch_157">
<path d="M 50.61 160.72 L 50.61 115.83 
" style="fill: none; stroke: #000000; stroke-width: 0.8; stroke-linejoin: miter; stroke-linecap: square"/>
</g>
<g id="patch_158">
<path d="M 410.52 160.72 L 410.52 115.83 
" style="fill: none; stroke: #000000; stroke-width: 0.8; stroke-linejoin: miter; stroke-linecap: square"/>
</g>
<g id="patch_159">
<path d="M 50.61 160.72 L 410.52 160.72 
" style="fill: none; stroke: #000000; stroke-width: 0.8; stroke-linejoin: miter; stroke-linecap: square"/>
</g>
<g id="patch_160">
<path d="M 50.61 115.83 L 410.52 115.83 
" style="fill: none; stroke: #000000; stroke-width: 0.8; stroke-linejoin: miter; stroke-linecap: square"/>
</g>
</g>
<g id="axes_4">
<g id="patch_161">
<path d="M 50.61 205.62 L 410.52 205.62 L 410.52 160.72 L 50.61 160.72 z
" style="fill: #ffffff"/>
</g>
<g id="patch_162">
<path d="M 52.11 172.68 L 58.11 172.68 L 58.11 172.68 L 52.11 172.68 z
" clip-path="url(#pd244a26337)" style="fill: #cd853f"/>
</g>
<g id="patch_163">
<path d="M 67.11 172.68 L 73.1 172.68 L 73.1 172.68 L 67.11 172.68 z
" clip-path="url(#pd244a26337)" style="fill: #cd853f"/>
</g>
<g id="patch_164">
<path d="M 82.1 172.68 L 88.1 172.68 L 88.1 172.68 L 82.1 172.68 z
" clip-path="url(#pd244a26337)" style="fill: #cd853f"/>
</g>
<g id="patch_165">
<path d="M 97.1 172.68 L 103.1 172.68 L 103.1 172.68 L 97.1 172.68 z
" clip-path="url(#pd244a26337)" style="fill: #cd853f"/>
</g>
<g id="patch_166">
<path d="M 112.09 172.68 L 118.09 172.68 L 118.09 172.68 L 112.09 172.68 z
" clip-path="url(#pd244a26337)" style="fill: #cd853f"/>
</g>
<g id="patch_167">
<path d="M 127.09 172.68 L 133.09 172.68 L 133.09 172.68 L 127.09 172.68 z
" clip-path="url(#pd244a26337)" style="fill: #cd853f"/>
</g>
<g id="patch_168">
<path d="M 142.09 172.68 L 148.09 172.68 L 148.09 172.04 L 142.09 172.04 z
" clip-path="url(#pd244a26337)" style="fill: #cd853f"/>
</g>
<g id="patch_169">
<path d="M 157.08 172.68 L 163.08 172.68 L 163.08 170.4 L 157.08 170.4 z
" clip-path="url(#pd244a26337)" style="fill: #cd853f"/>
</g>
<g id="patch_170">
<path d="M 172.08 172.68 L 178.08 172.68 L 178.08 170.49 L 172.08 170.49 z
" clip-path="url(#pd244a26337)" style="fill: #cd853f"/>
</g>
<g id="patch_171">
<path d="M 187.08 172.68 L 193.07 172.68 L 193.07 170.94 L 187.08 170.94 z
" clip-path="url(#pd244a26337)" style="fill: #cd853f"/>
</g>
<g id="patch_172">
<path d="M 202.07 172.68 L 208.07 172.68 L 208.07 171.95 L 202.07 171.95 z
" clip-path="url(#pd244a26337)" style="fill: #cd853f"/>
</g>
<g id="patch_173">
<path d="M 217.07 172.68 L 223.07 172.68 L 223.07 173.41 L 217.07 173.41 z
" clip-path="url(#pd244a26337)" style="fill: #cd853f"/>
</g>
<g id="patch_174">
<path d="M 232.06 172.68 L 238.06 172.68 L 238.06 174.05 L 232.06 174.05 z
" clip-path="url(#pd244a26337)" style="fill: #cd853f"/>
</g>
<g id="patch_175">
<path d="M 247.06 172.68 L 253.06 172.68 L 253.06 174.78 L 247.06 174.78 z
" clip-path="url(#pd244a26337)" style="fill: #cd853f"/>
</g>
<g id="patch_176">
<path d="M 262.06 172.68 L 268.06 172.68 L 268.06 175.23 L 262.06 175.23 z
" clip-path="url(#pd244a26337)" style="fill: #cd853f"/>
</g>
<g id="patch_177">
<path d="M 277.05 172.68 L 283.05 172.68 L 283.05 175.51 L 277.05 175.51 z
" clip-path="url(#pd244a26337)" style="fill: #cd853f"/>
</g>
<g id="patch_178">
<path d="M 292.05 172.68 L 298.05 172.68 L 298.05 175.87 L 292.05 175.87 z
" clip-path="url(#pd244a26337)" style="fill: #cd853f"/>
</g>
<g id="patch_179">
<path d="M 307.05 172.68 L 313.04 172.68 L 313.04 175.23 L 307.05 175.23 z
" clip-path="url(#pd244a26337)" style="fill: #cd853f"/>
</g>
<g id="patch_180">
<path d="M 322.04 172.68 L 328.04 172.68 L 328.04 173.13 L 322.04 173.13 z
" clip-path="url(#pd244a26337)" style="fill: #cd853f"/>
</g>
<g id="patch_181">
<path d="M 337.04 172.68 L 343.04 172.68 L 343.04 172.68 L 337.04 172.68 z
" clip-path="url(#pd244a26337)" style="fill: #cd853f"/>
</g>
<g id="patch_182">
<path d="M 352.03 172.68 L 358.03 172.68 L 358.03 172.68 L 352.03 172.68 z
" clip-path="url(#pd244a26337)" style="fill: #cd853f"/>
</g>
<g id="patch_183">
<path d="M 367.03 172.68 L 373.03 172.68 L 373.03 172.68 L 367.03 172.68 z
" clip-path="url(#pd244a26337)" style="fill: #cd853f"/>
</g>
<g id="patch_184">
<path d="M 382.03 172.68 L 388.03 172.68 L 388.03 172.68 L 382.03 172.68 z
" clip-path="url(#pd244a26337)" style="fill: #cd853f"/>
</g>
<g id="patch_185">
<path d="M 397.02 172.68 L 403.02 172.68 L 403.02 172.68 L 397.02 172.68 z
" clip-path="url(#pd244a26337)" style="fill: #cd853f"/>
</g>
<g id="patch_186">
<path d="M 58.11 172.68 L 64.11 172.68 L 64.11 172.68 L 58.11 172.68 z
" clip-path="url(#pd244a26337)" style="fill: #20b2aa"/>
</g>
<g id="patch_187">
<path d="M 73.1 172.68 L 79.1 172.68 L 79.1 172.68 L 73.1 172.68 z
" clip-path="url(#pd244a26337)" style="fill: #20b2aa"/>
</g>
<g id="patch_188">
<path d="M 88.1 172.68 L 94.1 172.68 L 94.1 172.68 L 88.1 172.68 z
" clip-path="url(#pd244a26337)" style="fill: #20b2aa"/>
</g>
<g id="patch_189">
<path d="M 103.1 172.68 L 109.1 172.68 L 109.1 172.68 L 103.1 172.68 z
" clip-path="url(#pd244a26337)" style="fill: #20b2aa"/>
</g>
<g id="patch_190">
<path d="M 118.09 172.68 L 124.09 172.68 L 124.09 172.68 L 118.09 172.68 z
" clip-path="url(#pd244a26337)" style="fill: #20b2aa"/>
</g>
<g id="patch_191">
<path d="M 133.09 172.68 L 139.09 172.68 L 139.09 172.68 L 133.09 172.68 z
" clip-path="url(#pd244a26337)" style="fill: #20b2aa"/>
</g>
<g id="patch_192">
<path d="M 148.09 172.68 L 154.08 172.68 L 154.08 172.68 L 148.09 172.68 z
" clip-path="url(#pd244a26337)" style="fill: #20b2aa"/>
</g>
<g id="patch_193">
<path d="M 163.08 172.68 L 169.08 172.68 L 169.08 172.31 L 163.08 172.31 z
" clip-path="url(#pd244a26337)" style="fill: #20b2aa"/>
</g>
<g id="patch_194">
<path d="M 178.08 172.68 L 184.08 172.68 L 184.08 171.31 L 178.08 171.31 z
" clip-path="url(#pd244a26337)" style="fill: #20b2aa"/>
</g>
<g id="patch_195">
<path d="M 193.07 172.68 L 199.07 172.68 L 199.07 169.76 L 193.07 169.76 z
" clip-path="url(#pd244a26337)" style="fill: #20b2aa"/>
</g>
<g id="patch_196">
<path d="M 208.07 172.68 L 214.07 172.68 L 214.07 169.03 L 208.07 169.03 z
" clip-path="url(#pd244a26337)" style="fill: #20b2aa"/>
</g>
<g id="patch_197">
<path d="M 223.07 172.68 L 229.07 172.68 L 229.07 168.85 L 223.07 168.85 z
" clip-path="url(#pd244a26337)" style="fill: #20b2aa"/>
</g>
<g id="patch_198">
<path d="M 238.06 172.68 L 244.06 172.68 L 244.06 169.03 L 238.06 169.03 z
" clip-path="url(#pd244a26337)" style="fill: #20b2aa"/>
</g>
<g id="patch_199">
<path d="M 253.06 172.68 L 259.06 172.68 L 259.06 169.03 L 253.06 169.03 z
" clip-path="url(#pd244a26337)" style="fill: #20b2aa"/>
</g>
<g id="patch_200">
<path d="M 268.06 172.68 L 274.05 172.68 L 274.05 169.58 L 268.06 169.58 z
" clip-path="url(#pd244a26337)" style="fill: #20b2aa"/>
</g>
<g id="patch_201">
<path d="M 283.05 172.68 L 289.05 172.68 L 289.05 170.67 L 283.05 170.67 z
" clip-path="url(#pd244a26337)" style="fill: #20b2aa"/>
</g>
<g id="patch_202">
<path d="M 298.05 172.68 L 304.05 172.68 L 304.05 171.77 L 298.05 171.77 z
" clip-path="url(#pd244a26337)" style="fill: #20b2aa"/>
</g>
<g id="patch_203">
<path d="M 313.04 172.68 L 319.04 172.68 L 319.04 172.5 L 313.04 172.5 z
" clip-path="url(#pd244a26337)" style="fill: #20b2aa"/>
</g>
<g id="patch_204">
<path d="M 328.04 172.68 L 334.04 172.68 L 334.04 172.68 L 328.04 172.68 z
" clip-path="url(#pd244a26337)" style="fill: #20b2aa"/>
</g>
<g id="patch_205">
<path d="M 343.04 172.68 L 349.04 172.68 L 349.04 172.68 L 343.04 172.68 z
" clip-path="url(#pd244a26337)" style="fill: #20b2aa"/>
</g>
<g id="patch_206">
<path d="M 358.03 172.68 L 364.03 172.68 L 364.03 172.68 L 358.03 172.68 z
" clip-path="url(#pd244a26337)" style="fill: #20b2aa"/>
</g>
<g id="patch_207">
<path d="M 373.03 172.68 L 379.03 172.68 L 379.03 172.68 L 373.03 172.68 z
" clip-path="url(#pd244a26337)" style="fill: #20b2aa"/>
</g>
<g id="patch_208">
<path d="M 388.03 172.68 L 394.02 172.68 L 394.02 172.68 L 388.03 172.68 z
" clip-path="url(#pd244a26337)" style="fill: #20b2aa"/>
</g>
<g id="patch_209">
<path d="M 403.02 172.68 L 409.02 172.68 L 409.02 172.68 L 403.02 172.68 z
" clip-path="url(#pd244a26337)" style="fill: #20b2aa"/>
</g>
<g id="matplotlib.axis_7">
<g id="xtick_13">
<g id="line2d_34">
<g>
<path d="M 0 0 L 0 3.5 
" transform="translate(58.11 205.62)" style="stroke: #000000; stroke-width: 0.8; stroke: #000000; stroke-width: 0.8"/>
</g>
</g>
</g>
<g id="xtick_14">
<g id="line2d_35">
<g>
<path d="M 0 0 L 0 3.5 
" transform="translate(148.09 205.62)" style="stroke: #000000; stroke-width: 0.8; stroke: #000000; stroke-width: 0.8"/>
</g>
</g>
</g>
<g id="xtick_15">
<g id="line2d_36">
<g>
<path d="M 0 0 L 0 3.5 
" transform="translate(238.06 205.62)" style="stroke: #000000; stroke-width: 0.8; stroke: #000000; stroke-width: 0.8"/>
</g>
</g>
</g>
<g id="xtick_16">
<g id="line2d_37">
<g>
<path d="M 0 0 L 0 3.5 
" transform="translate(328.04 205.62)" style="stroke: #000000; stroke-width: 0.8; stroke: #000000; stroke-width: 0.8"/>
</g>
</g>
</g>
</g>
<g id="matplotlib.axis_8">
<g id="ytick_7">
<g id="line2d_38">
<g>
<path d="M 0 0 L -3.5 0 
" transform="translate(50.61 172.68)" style="stroke: #000000; stroke-width: 0.8; stroke: #000000; stroke-width: 0.8"/>
</g>
</g>
<g id="text_10">
<text style="font-size: 10px; font-family: 'DejaVu Sans', sans-serif; text-anchor: end" x="43.61" y="176.48" transform="rotate(-0 43.61 176.48)">0</text>
</g>
</g>
<g id="ytick_8">
<g id="line2d_39">
<g>
<path d="M 0 0 L -3.5 0 
" transform="translate(50.61 190.93)" style="stroke: #000000; stroke-width: 0.8; stroke: #000000; stroke-width: 0.8"/>
</g>
</g>
<g id="text_11">
<text style="font-size: 10px; font-family: 'DejaVu Sans', sans-serif; text-anchor: end" x="43.61" y="194.73" transform="rotate(-0 43.61 194.73)">−2</text>
</g>
</g>
<g id="text_12">
<g transform="translate(10.46 200.47) rotate(-90)">
<text>
<tspan x="0" y="-0.58" style="font-size: 10px; font-family: 'DejaVu Sans', sans-serif">B</tspan>
<tspan x="6.86" y="-0.58" style="font-size: 10px; font-family: 'DejaVu Sans', sans-serif">y</tspan>
<tspan x="12.78" y="-0.58" style="font-size: 10px; font-family: 'DejaVu Sans', sans-serif"> </tspan>
<tspan x="24.25" y="-0.58" style="font-size: 10px; font-family: 'DejaVu Sans', sans-serif">↓</tspan>
<tspan x="15.96" y="-0.58" style="font-style: oblique; font-size: 10px; font-family: 'DejaVu Sans', sans-serif">S</tspan>
</text>
</g>
<text style="font-size: 10px; font-family: 'DejaVu Sans', sans-serif" transform="translate(22.14 189.97) rotate(-90)">(k)</text>
</g>
</g>
<g id="line2d_40">
<path d="M 50.61 172.68 L 410.52 172.68 
" clip-path="url(#pd244a26337)" style="fill: none; stroke-dasharray: 2.96,1.28; stroke-dashoffset: 0; stroke: #808080; stroke-width: 0.8"/>
</g>
<g id="LineCollection_13">
<path d="M 160.08 171.13 L 160.08 169.67 
" clip-path="url(#pd244a26337)" style="fill: none; stroke: #6a6a6a; stroke-width: 0.45"/>
<path d="M 175.08 171.31 L 175.08 169.67 
" clip-path="url(#pd244a26337)" style="fill: none; stroke: #6a6a6a; stroke-width: 0.45"/>
<path d="M 190.08 171.58 L 190.08 170.31 
" clip-path="url(#pd244a26337)" style="fill: none; stroke: #6a6a6a; stroke-width: 0.45"/>
<path d="M 250.06 175.23 L 250.06 174.32 
" clip-path="url(#pd244a26337)" style="fill: none; stroke: #6a6a6a; stroke-width: 0.45"/>
<path d="M 265.06 175.69 L 265.06 174.78 
" clip-path="url(#pd244a26337)" style="fill: none; stroke: #6a6a6a; stroke-width: 0.45"/>
<path d="M 280.05 176.24 L 280.05 174.78 
" clip-path="url(#pd244a26337)" style="fill: none; stroke: #6a6a6a; stroke-width: 0.45"/>
<path d="M 295.05 176.69 L 295.05 175.05 
" clip-path="url(#pd244a26337)" style="fill: none; stroke: #6a6a6a; stroke-width: 0.45"/>
</g>
<g id="LineCollection_14">
<path d="M 55.11 172.86 L 55.11 172.5 
" clip-path="url(#pd244a26337)" style="fill: none"/>
<path d="M 70.11 172.86 L 70.11 172.5 
" clip-path="url(#pd244a26337)" style="fill: none"/>
<path d="M 85.1 172.86 L 85.1 172.5 
" clip-path="url(#pd244a26337)" style="fill: none"/>
<path d="M 100.1 172.86 L 100.1 172.5 
" clip-path="url(#pd244a26337)" style="fill: none"/>
<path d="M 115.09 172.86 L 115.09 172.5 
" clip-path="url(#pd244a26337)" style="fill: none"/>
<path d="M 130.09 172.86 L 130.09 172.5 
" clip-path="url(#pd244a26337)" style="fill: none"/>
<path d="M 145.09 172.22 L 145.09 171.86 
" clip-path="url(#pd244a26337)" style="fill: none"/>
<path d="M 160.08 171.13 L 160.08 169.67 
" clip-path="url(#pd244a26337)" style="fill: none"/>
<path d="M 175.08 171.31 L 175.08 169.67 
" clip-path="url(#pd244a26337)" style="fill: none"/>
<path d="M 190.08 171.58 L 190.08 170.31 
" clip-path="url(#pd244a26337)" style="fill: none"/>
<path d="M 205.07 172.31 L 205.07 171.58 
" clip-path="url(#pd244a26337)" style="fill: none"/>
<path d="M 220.07 173.77 L 220.07 173.04 
" clip-path="url(#pd244a26337)" style="fill: none"/>
<path d="M 235.06 174.41 L 235.06 173.68 
" clip-path="url(#pd244a26337)" style="fill: none"/>
<path d="M 250.06 175.23 L 250.06 174.32 
" clip-path="url(#pd244a26337)" style="fill: none"/>
<path d="M 265.06 175.69 L 265.06 174.78 
" clip-path="url(#pd244a26337)" style="fill: none"/>
<path d="M 280.05 176.24 L 280.05 174.78 
" clip-path="url(#pd244a26337)" style="fill: none"/>
<path d="M 295.05 176.69 L 295.05 175.05 
" clip-path="url(#pd244a26337)" style="fill: none"/>
<path d="M 310.05 175.6 L 310.05 174.87 
" clip-path="url(#pd244a26337)" style="fill: none"/>
<path d="M 325.04 173.32 L 325.04 172.95 
" clip-path="url(#pd244a26337)" style="fill: none"/>
<path d="M 340.04 172.86 L 340.04 172.5 
" clip-path="url(#pd244a26337)" style="fill: none"/>
<path d="M 355.03 172.86 L 355.03 172.5 
" clip-path="url(#pd244a26337)" style="fill: none"/>
<path d="M 370.03 172.86 L 370.03 172.5 
" clip-path="url(#pd244a26337)" style="fill: none"/>
<path d="M 385.03 172.86 L 385.03 172.5 
" clip-path="url(#pd244a26337)" style="fill: none"/>
<path d="M 400.02 172.86 L 400.02 172.5 
" clip-path="url(#pd244a26337)" style="fill: none"/>
</g>
<g id="line2d_41">
<g clip-path="url(#pd244a26337)">
<path d="M 2 0 L -2 -0 
" transform="translate(55.11 172.86)" style="fill: #1f77b4; stroke: #000000; stroke: #000000"/>
<path d="M 2 0 L -2 -0 
" transform="translate(70.11 172.86)" style="fill: #1f77b4; stroke: #000000; stroke: #000000"/>
<path d="M 2 0 L -2 -0 
" transform="translate(85.1 172.86)" style="fill: #1f77b4; stroke: #000000; stroke: #000000"/>
<path d="M 2 0 L -2 -0 
" transform="translate(100.1 172.86)" style="fill: #1f77b4; stroke: #000000; stroke: #000000"/>
<path d="M 2 0 L -2 -0 
" transform="translate(115.09 172.86)" style="fill: #1f77b4; stroke: #000000; stroke: #000000"/>
<path d="M 2 0 L -2 -0 
" transform="translate(130.09 172.86)" style="fill: #1f77b4; stroke: #000000; stroke: #000000"/>
<path d="M 2 0 L -2 -0 
" transform="translate(145.09 172.22)" style="fill: #1f77b4; stroke: #000000; stroke: #000000"/>
<path d="M 2 0 L -2 -0 
" transform="translate(160.08 171.13)" style="fill: #1f77b4; stroke: #000000; stroke: #000000"/>
<path d="M 2 0 L -2 -0 
" transform="translate(175.08 171.31)" style="fill: #1f77b4; stroke: #000000; stroke: #000000"/>
<path d="M 2 0 L -2 -0 
" transform="translate(190.08 171.58)" style="fill: #1f77b4; stroke: #000000; stroke: #000000"/>
<path d="M 2 0 L -2 -0 
" transform="translate(205.07 172.31)" style="fill: #1f77b4; stroke: #000000; stroke: #000000"/>
<path d="M 2 0 L -2 -0 
" transform="translate(220.07 173.77)" style="fill: #1f77b4; stroke: #000000; stroke: #000000"/>
<path d="M 2 0 L -2 -0 
" transform="translate(235.06 174.41)" style="fill: #1f77b4; stroke: #000000; stroke: #000000"/>
<path d="M 2 0 L -2 -0 
" transform="translate(250.06 175.23)" style="fill: #1f77b4; stroke: #000000; stroke: #000000"/>
<path d="M 2 0 L -2 -0 
" transform="translate(265.06 175.69)" style="fill: #1f77b4; stroke: #000000; stroke: #000000"/>
<path d="M 2 0 L -2 -0 
" transform="translate(280.05 176.24)" style="fill: #1f77b4; stroke: #000000; stroke: #000000"/>
<path d="M 2 0 L -2 -0 
" transform="translate(295.05 176.69)" style="fill: #1f77b4; stroke: #000000; stroke: #000000"/>
<path d="M 2 0 L -2 -0 
" transform="translate(310.05 175.6)" style="fill: #1f77b4; stroke: #000000; stroke: #000000"/>
<path d="M 2 0 L -2 -0 
" transform="translate(325.04 173.32)" style="fill: #1f77b4; stroke: #000000; stroke: #000000"/>
<path d="M 2 0 L -2 -0 
" transform="translate(340.04 172.86)" style="fill: #1f77b4; stroke: #000000; stroke: #000000"/>
<path d="M 2 0 L -2 -0 
" transform="translate(355.03 172.86)" style="fill: #1f77b4; stroke: #000000; stroke: #000000"/>
<path d="M 2 0 L -2 -0 
" transform="translate(370.03 172.86)" style="fill: #1f77b4; stroke: #000000; stroke: #000000"/>
<path d="M 2 0 L -2 -0 
" transform="translate(385.03 172.86)" style="fill: #1f77b4; stroke: #000000; stroke: #000000"/>
<path d="M 2 0 L -2 -0 
" transform="translate(400.02 172.86)" style="fill: #1f77b4; stroke: #000000; stroke: #000000"/>
</g>
</g>
<g id="line2d_42">
<g clip-path="url(#pd244a26337)">
<path d="M 2 0 L -2 -0 
" transform="translate(55.11 172.5)" style="fill: #1f77b4; stroke: #000000; stroke: #000000"/>
<path d="M 2 0 L -2 -0 
" transform="translate(70.11 172.5)" style="fill: #1f77b4; stroke: #000000; stroke: #000000"/>
<path d="M 2 0 L -2 -0 
" transform="translate(85.1 172.5)" style="fill: #1f77b4; stroke: #000000; stroke: #000000"/>
<path d="M 2 0 L -2 -0 
" transform="translate(100.1 172.5)" style="fill: #1f77b4; stroke: #000000; stroke: #000000"/>
<path d="M 2 0 L -2 -0 
" transform="translate(115.09 172.5)" style="fill: #1f77b4; stroke: #000000; stroke: #000000"/>
<path d="M 2 0 L -2 -0 
" transform="translate(130.09 172.5)" style="fill: #1f77b4; stroke: #000000; stroke: #000000"/>
<path d="M 2 0 L -2 -0 
" transform="translate(145.09 171.86)" style="fill: #1f77b4; stroke: #000000; stroke: #000000"/>
<path d="M 2 0 L -2 -0 
" transform="translate(160.08 169.67)" style="fill: #1f77b4; stroke: #000000; stroke: #000000"/>
<path d="M 2 0 L -2 -0 
" transform="translate(175.08 169.67)" style="fill: #1f77b4; stroke: #000000; stroke: #000000"/>
<path d="M 2 0 L -2 -0 
" transform="translate(190.08 170.31)" style="fill: #1f77b4; stroke: #000000; stroke: #000000"/>
<path d="M 2 0 L -2 -0 
" transform="translate(205.07 171.58)" style="fill: #1f77b4; stroke: #000000; stroke: #000000"/>
<path d="M 2 0 L -2 -0 
" transform="translate(220.07 173.04)" style="fill: #1f77b4; stroke: #000000; stroke: #000000"/>
<path d="M 2 0 L -2 -0 
" transform="translate(235.06 173.68)" style="fill: #1f77b4; stroke: #000000; stroke: #000000"/>
<path d="M 2 0 L -2 -0 
" transform="translate(250.06 174.32)" style="fill: #1f77b4; stroke: #000000; stroke: #000000"/>
<path d="M 2 0 L -2 -0 
" transform="translate(265.06 174.78)" style="fill: #1f77b4; stroke: #000000; stroke: #000000"/>
<path d="M 2 0 L -2 -0 
" transform="translate(280.05 174.78)" style="fill: #1f77b4; stroke: #000000; stroke: #000000"/>
<path d="M 2 0 L -2 -0 
" transform="translate(295.05 175.05)" style="fill: #1f77b4; stroke: #000000; stroke: #000000"/>
<path d="M 2 0 L -2 -0 
" transform="translate(310.05 174.87)" style="fill: #1f77b4; stroke: #000000; stroke: #000000"/>
<path d="M 2 0 L -2 -0 
" transform="translate(325.04 172.95)" style="fill: #1f77b4; stroke: #000000; stroke: #000000"/>
<path d="M 2 0 L -2 -0 
" transform="translate(340.04 172.5)" style="fill: #1f77b4; stroke: #000000; stroke: #000000"/>
<path d="M 2 0 L -2 -0 
" transform="translate(355.03 172.5)" style="fill: #1f77b4; stroke: #000000; stroke: #000000"/>
<path d="M 2 0 L -2 -0 
" transform="translate(370.03 172.5)" style="fill: #1f77b4; stroke: #000000; stroke: #000000"/>
<path d="M 2 0 L -2 -0 
" transform="translate(385.03 172.5)" style="fill: #1f77b4; stroke: #000000; stroke: #000000"/>
<path d="M 2 0 L -2 -0 
" transform="translate(400.02 172.5)" style="fill: #1f77b4; stroke: #000000; stroke: #000000"/>
</g>
</g>
<g id="LineCollection_15"/>
<g id="LineCollection_16">
<path d="M 61.11 172.95 L 61.11 172.41 
" clip-path="url(#pd244a26337)" style="fill: none"/>
<path d="M 76.1 172.95 L 76.1 172.41 
" clip-path="url(#pd244a26337)" style="fill: none"/>
<path d="M 91.1 172.95 L 91.1 172.41 
" clip-path="url(#pd244a26337)" style="fill: none"/>
<path d="M 106.1 172.95 L 106.1 172.41 
" clip-path="url(#pd244a26337)" style="fill: none"/>
<path d="M 121.09 172.95 L 121.09 172.41 
" clip-path="url(#pd244a26337)" style="fill: none"/>
<path d="M 136.09 172.95 L 136.09 172.41 
" clip-path="url(#pd244a26337)" style="fill: none"/>
<path d="M 151.08 172.95 L 151.08 172.41 
" clip-path="url(#pd244a26337)" style="fill: none"/>
<path d="M 166.08 172.59 L 166.08 172.04 
" clip-path="url(#pd244a26337)" style="fill: none"/>
<path d="M 181.08 171.58 L 181.08 171.04 
" clip-path="url(#pd244a26337)" style="fill: none"/>
<path d="M 196.07 170.03 L 196.07 169.49 
" clip-path="url(#pd244a26337)" style="fill: none"/>
<path d="M 211.07 169.3 L 211.07 168.75 
" clip-path="url(#pd244a26337)" style="fill: none"/>
<path d="M 226.07 169.12 L 226.07 168.57 
" clip-path="url(#pd244a26337)" style="fill: none"/>
<path d="M 241.06 169.3 L 241.06 168.75 
" clip-path="url(#pd244a26337)" style="fill: none"/>
<path d="M 256.06 169.3 L 256.06 168.75 
" clip-path="url(#pd244a26337)" style="fill: none"/>
<path d="M 271.05 169.85 L 271.05 169.3 
" clip-path="url(#pd244a26337)" style="fill: none"/>
<path d="M 286.05 170.94 L 286.05 170.4 
" clip-path="url(#pd244a26337)" style="fill: none"/>
<path d="M 301.05 172.04 L 301.05 171.49 
" clip-path="url(#pd244a26337)" style="fill: none"/>
<path d="M 316.04 172.77 L 316.04 172.22 
" clip-path="url(#pd244a26337)" style="fill: none"/>
<path d="M 331.04 172.95 L 331.04 172.41 
" clip-path="url(#pd244a26337)" style="fill: none"/>
<path d="M 346.04 172.95 L 346.04 172.41 
" clip-path="url(#pd244a26337)" style="fill: none"/>
<path d="M 361.03 172.95 L 361.03 172.41 
" clip-path="url(#pd244a26337)" style="fill: none"/>
<path d="M 376.03 172.95 L 376.03 172.41 
" clip-path="url(#pd244a26337)" style="fill: none"/>
<path d="M 391.02 172.95 L 391.02 172.41 
" clip-path="url(#pd244a26337)" style="fill: none"/>
<path d="M 406.02 172.95 L 406.02 172.41 
" clip-path="url(#pd244a26337)" style="fill: none"/>
</g>
<g id="line2d_43">
<g clip-path="url(#pd244a26337)">
<path d="M 2 0 L -2 -0 
" transform="translate(61.11 172.95)" style="fill: #1f77b4; stroke: #000000; stroke: #000000"/>
<path d="M 2 0 L -2 -0 
" transform="translate(76.1 172.95)" style="fill: #1f77b4; stroke: #000000; stroke: #000000"/>
<path d="M 2 0 L -2 -0 
" transform="translate(91.1 172.95)" style="fill: #1f77b4; stroke: #000000; stroke: #000000"/>
<path d="M 2 0 L -2 -0 
" transform="translate(106.1 172.95)" style="fill: #1f77b4; stroke: #000000; stroke: #000000"/>
<path d="M 2 0 L -2 -0 
" transform="translate(121.09 172.95)" style="fill: #1f77b4; stroke: #000000; stroke: #000000"/>
<path d="M 2 0 L -2 -0 
" transform="translate(136.09 172.95)" style="fill: #1f77b4; stroke: #000000; stroke: #000000"/>
<path d="M 2 0 L -2 -0 
" transform="translate(151.08 172.95)" style="fill: #1f77b4; stroke: #000000; stroke: #000000"/>
<path d="M 2 0 L -2 -0 
" transform="translate(166.08 172.59)" style="fill: #1f77b4; stroke: #000000; stroke: #000000"/>
<path d="M 2 0 L -2 -0 
" transform="translate(181.08 171.58)" style="fill: #1f77b4; stroke: #000000; stroke: #000000"/>
<path d="M 2 0 L -2 -0 
" transform="translate(196.07 170.03)" style="fill: #1f77b4; stroke: #000000; stroke: #000000"/>
<path d="M 2 0 L -2 -0 
" transform="translate(211.07 169.3)" style="fill: #1f77b4; stroke: #000000; stroke: #000000"/>
<path d="M 2 0 L -2 -0 
" transform="translate(226.07 169.12)" style="fill: #1f77b4; stroke: #000000; stroke: #000000"/>
<path d="M 2 0 L -2 -0 
" transform="translate(241.06 169.3)" style="fill: #1f77b4; stroke: #000000; stroke: #000000"/>
<path d="M 2 0 L -2 -0 
" transform="translate(256.06 169.3)" style="fill: #1f77b4; stroke: #000000; stroke: #000000"/>
<path d="M 2 0 L -2 -0 
" transform="translate(271.05 169.85)" style="fill: #1f77b4; stroke: #000000; stroke: #000000"/>
<path d="M 2 0 L -2 -0 
" transform="translate(286.05 170.94)" style="fill: #1f77b4; stroke: #000000; stroke: #000000"/>
<path d="M 2 0 L -2 -0 
" transform="translate(301.05 172.04)" style="fill: #1f77b4; stroke: #000000; stroke: #000000"/>
<path d="M 2 0 L -2 -0 
" transform="translate(316.04 172.77)" style="fill: #1f77b4; stroke: #000000; stroke: #000000"/>
<path d="M 2 0 L -2 -0 
" transform="translate(331.04 172.95)" style="fill: #1f77b4; stroke: #000000; stroke: #000000"/>
<path d="M 2 0 L -2 -0 
" transform="translate(346.04 172.95)" style="fill: #1f77b4; stroke: #000000; stroke: #000000"/>
<path d="M 2 0 L -2 -0 
" transform="translate(361.03 172.95)" style="fill: #1f77b4; stroke: #000000; stroke: #000000"/>
<path d="M 2 0 L -2 -0 
" transform="translate(376.03 172.95)" style="fill: #1f77b4; stroke: #000000; stroke: #000000"/>
<path d="M 2 0 L -2 -0 
" transform="translate(391.02 172.95)" style="fill: #1f77b4; stroke: #000000; stroke: #000000"/>
<path d="M 2 0 L -2 -0 
" transform="translate(406.02 172.95)" style="fill: #1f77b4; stroke: #000000; stroke: #000000"/>
</g>
</g>
<g id="line2d_44">
<g clip-path="url(#pd244a26337)">
<path d="M 2 0 L -2 -0 
" transform="translate(61.11 172.41)" style="fill: #1f77b4; stroke: #000000; stroke: #000000"/>
<path d="M 2 0 L -2 -0 
" transform="translate(76.1 172.41)" style="fill: #1f77b4; stroke: #000000; stroke: #000000"/>
<path d="M 2 0 L -2 -0 
" transform="translate(91.1 172.41)" style="fill: #1f77b4; stroke: #000000; stroke: #000000"/>
<path d="M 2 0 L -2 -0 
" transform="translate(106.1 172.41)" style="fill: #1f77b4; stroke: #000000; stroke: #000000"/>
<path d="M 2 0 L -2 -0 
" transform="translate(121.09 172.41)" style="fill: #1f77b4; stroke: #000000; stroke: #000000"/>
<path d="M 2 0 L -2 -0 
" transform="translate(136.09 172.41)" style="fill: #1f77b4; stroke: #000000; stroke: #000000"/>
<path d="M 2 0 L -2 -0 
" transform="translate(151.08 172.41)" style="fill: #1f77b4; stroke: #000000; stroke: #000000"/>
<path d="M 2 0 L -2 -0 
" transform="translate(166.08 172.04)" style="fill: #1f77b4; stroke: #000000; stroke: #000000"/>
<path d="M 2 0 L -2 -0 
" transform="translate(181.08 171.04)" style="fill: #1f77b4; stroke: #000000; stroke: #000000"/>
<path d="M 2 0 L -2 -0 
" transform="translate(196.07 169.49)" style="fill: #1f77b4; stroke: #000000; stroke: #000000"/>
<path d="M 2 0 L -2 -0 
" transform="translate(211.07 168.75)" style="fill: #1f77b4; stroke: #000000; stroke: #000000"/>
<path d="M 2 0 L -2 -0 
" transform="translate(226.07 168.57)" style="fill: #1f77b4; stroke: #000000; stroke: #000000"/>
<path d="M 2 0 L -2 -0 
" transform="translate(241.06 168.75)" style="fill: #1f77b4; stroke: #000000; stroke: #000000"/>
<path d="M 2 0 L -2 -0 
" transform="translate(256.06 168.75)" style="fill: #1f77b4; stroke: #000000; stroke: #000000"/>
<path d="M 2 0 L -2 -0 
" transform="translate(271.05 169.3)" style="fill: #1f77b4; stroke: #000000; stroke: #000000"/>
<path d="M 2 0 L -2 -0 
" transform="translate(286.05 170.4)" style="fill: #1f77b4; stroke: #000000; stroke: #000000"/>
<path d="M 2 0 L -2 -0 
" transform="translate(301.05 171.49)" style="fill: #1f77b4; stroke: #000000; stroke: #000000"/>
<path d="M 2 0 L -2 -0 
" transform="translate(316.04 172.22)" style="fill: #1f77b4; stroke: #000000; stroke: #000000"/>
<path d="M 2 0 L -2 -0 
" transform="translate(331.04 172.41)" style="fill: #1f77b4; stroke: #000000; stroke: #000000"/>
<path d="M 2 0 L -2 -0 
" transform="translate(346.04 172.41)" style="fill: #1f77b4; stroke: #000000; stroke: #000000"/>
<path d="M 2 0 L -2 -0 
" transform="translate(361.03 172.41)" style="fill: #1f77b4; stroke: #000000; stroke: #000000"/>
<path d="M 2 0 L -2 -0 
" transform="translate(376.03 172.41)" style="fill: #1f77b4; stroke: #000000; stroke: #000000"/>
<path d="M 2 0 L -2 -0 
" transform="translate(391.02 172.41)" style="fill: #1f77b4; stroke: #000000; stroke: #000000"/>
<path d="M 2 0 L -2 -0 
" transform="translate(406.02 172.41)" style="fill: #1f77b4; stroke: #000000; stroke: #000000"/>
</g>
</g>
<g id="patch_210">
<path d="M 50.61 205.62 L 50.61 160.72 
" style="fill: none; stroke: #000000; stroke-width: 0.8; stroke-linejoin: miter; stroke-linecap: square"/>
</g>
<g id="patch_211">
<path d="M 410.52 205.62 L 410.52 160.72 
" style="fill: none; stroke: #000000; stroke-width: 0.8; stroke-linejoin: miter; stroke-linecap: square"/>
</g>
<g id="patch_212">
<path d="M 50.61 205.62 L 410.52 205.62 
" style="fill: none; stroke: #000000; stroke-width: 0.8; stroke-linejoin: miter; stroke-linecap: square"/>
</g>
<g id="patch_213">
<path d="M 50.61 160.72 L 410.52 160.72 
" style="fill: none; stroke: #000000; stroke-width: 0.8; stroke-linejoin: miter; stroke-linecap: square"/>
</g>
</g>
<g id="axes_5">
<g id="patch_214">
<path d="M 50.61 250.51 L 410.52 250.51 L 410.52 205.62 L 50.61 205.62 z
" style="fill: #ffffff"/>
</g>
<g id="patch_215">
<path d="M 52.11 217.57 L 58.11 217.57 L 58.11 216.66 L 52.11 216.66 z
" clip-path="url(#p7bffef70ed)" style="fill: #cd853f"/>
</g>
<g id="patch_216">
<path d="M 67.11 217.57 L 73.1 217.57 L 73.1 216.66 L 67.11 216.66 z
" clip-path="url(#p7bffef70ed)" style="fill: #cd853f"/>
</g>
<g id="patch_217">
<path d="M 82.1 217.57 L 88.1 217.57 L 88.1 216.66 L 82.1 216.66 z
" clip-path="url(#p7bffef70ed)" style="fill: #cd853f"/>
</g>
<g id="patch_218">
<path d="M 97.1 217.57 L 103.1 217.57 L 103.1 216.66 L 97.1 216.66 z
" clip-path="url(#p7bffef70ed)" style="fill: #cd853f"/>
</g>
<g id="patch_219">
<path d="M 112.09 217.57 L 118.09 217.57 L 118.09 216.66 L 112.09 216.66 z
" clip-path="url(#p7bffef70ed)" style="fill: #cd853f"/>
</g>
<g id="patch_220">
<path d="M 127.09 217.57 L 133.09 217.57 L 133.09 216.66 L 127.09 216.66 z
" clip-path="url(#p7bffef70ed)" style="fill: #cd853f"/>
</g>
<g id="patch_221">
<path d="M 142.09 217.57 L 148.09 217.57 L 148.09 216.66 L 142.09 216.66 z
" clip-path="url(#p7bffef70ed)" style="fill: #cd853f"/>
</g>
<g id="patch_222">
<path d="M 157.08 217.57 L 163.08 217.57 L 163.08 216.66 L 157.08 216.66 z
" clip-path="url(#p7bffef70ed)" style="fill: #cd853f"/>
</g>
<g id="patch_223">
<path d="M 172.08 217.57 L 178.08 217.57 L 178.08 216.66 L 172.08 216.66 z
" clip-path="url(#p7bffef70ed)" style="fill: #cd853f"/>
</g>
<g id="patch_224">
<path d="M 187.08 217.57 L 193.07 217.57 L 193.07 216.66 L 187.08 216.66 z
" clip-path="url(#p7bffef70ed)" style="fill: #cd853f"/>
</g>
<g id="patch_225">
<path d="M 202.07 217.57 L 208.07 217.57 L 208.07 216.66 L 202.07 216.66 z
" clip-path="url(#p7bffef70ed)" style="fill: #cd853f"/>
</g>
<g id="patch_226">
<path d="M 217.07 217.57 L 223.07 217.57 L 223.07 216.66 L 217.07 216.66 z
" clip-path="url(#p7bffef70ed)" style="fill: #cd853f"/>
</g>
<g id="patch_227">
<path d="M 232.06 217.57 L 238.06 217.57 L 238.06 216.84 L 232.06 216.84 z
" clip-path="url(#p7bffef70ed)" style="fill: #cd853f"/>
</g>
<g id="patch_228">
<path d="M 247.06 217.57 L 253.06 217.57 L 253.06 216.84 L 247.06 216.84 z
" clip-path="url(#p7bffef70ed)" style="fill: #cd853f"/>
</g>
<g id="patch_229">
<path d="M 262.06 217.57 L 268.06 217.57 L 268.06 216.84 L 262.06 216.84 z
" clip-path="url(#p7bffef70ed)" style="fill: #cd853f"/>
</g>
<g id="patch_230">
<path d="M 277.05 217.57 L 283.05 217.57 L 283.05 216.84 L 277.05 216.84 z
" clip-path="url(#p7bffef70ed)" style="fill: #cd853f"/>
</g>
<g id="patch_231">
<path d="M 292.05 217.57 L 298.05 217.57 L 298.05 216.84 L 292.05 216.84 z
" clip-path="url(#p7bffef70ed)" style="fill: #cd853f"/>
</g>
<g id="patch_232">
<path d="M 307.05 217.57 L 313.04 217.57 L 313.04 216.66 L 307.05 216.66 z
" clip-path="url(#p7bffef70ed)" style="fill: #cd853f"/>
</g>
<g id="patch_233">
<path d="M 322.04 217.57 L 328.04 217.57 L 328.04 216.66 L 322.04 216.66 z
" clip-path="url(#p7bffef70ed)" style="fill: #cd853f"/>
</g>
<g id="patch_234">
<path d="M 337.04 217.57 L 343.04 217.57 L 343.04 216.66 L 337.04 216.66 z
" clip-path="url(#p7bffef70ed)" style="fill: #cd853f"/>
</g>
<g id="patch_235">
<path d="M 352.03 217.57 L 358.03 217.57 L 358.03 216.66 L 352.03 216.66 z
" clip-path="url(#p7bffef70ed)" style="fill: #cd853f"/>
</g>
<g id="patch_236">
<path d="M 367.03 217.57 L 373.03 217.57 L 373.03 216.66 L 367.03 216.66 z
" clip-path="url(#p7bffef70ed)" style="fill: #cd853f"/>
</g>
<g id="patch_237">
<path d="M 382.03 217.57 L 388.03 217.57 L 388.03 216.66 L 382.03 216.66 z
" clip-path="url(#p7bffef70ed)" style="fill: #cd853f"/>
</g>
<g id="patch_238">
<path d="M 397.02 217.57 L 403.02 217.57 L 403.02 216.66 L 397.02 216.66 z
" clip-path="url(#p7bffef70ed)" style="fill: #cd853f"/>
</g>
<g id="patch_239">
<path d="M 58.11 217.57 L 64.11 217.57 L 64.11 217.85 L 58.11 217.85 z
" clip-path="url(#p7bffef70ed)" style="fill: #20b2aa"/>
</g>
<g id="patch_240">
<path d="M 73.1 217.57 L 79.1 217.57 L 79.1 217.85 L 73.1 217.85 z
" clip-path="url(#p7bffef70ed)" style="fill: #20b2aa"/>
</g>
<g id="patch_241">
<path d="M 88.1 217.57 L 94.1 217.57 L 94.1 217.85 L 88.1 217.85 z
" clip-path="url(#p7bffef70ed)" style="fill: #20b2aa"/>
</g>
<g id="patch_242">
<path d="M 103.1 217.57 L 109.1 217.57 L 109.1 217.85 L 103.1 217.85 z
" clip-path="url(#p7bffef70ed)" style="fill: #20b2aa"/>
</g>
<g id="patch_243">
<path d="M 118.09 217.57 L 124.09 217.57 L 124.09 217.85 L 118.09 217.85 z
" clip-path="url(#p7bffef70ed)" style="fill: #20b2aa"/>
</g>
<g id="patch_244">
<path d="M 133.09 217.57 L 139.09 217.57 L 139.09 217.85 L 133.09 217.85 z
" clip-path="url(#p7bffef70ed)" style="fill: #20b2aa"/>
</g>
<g id="patch_245">
<path d="M 148.09 217.57 L 154.08 217.57 L 154.08 217.85 L 148.09 217.85 z
" clip-path="url(#p7bffef70ed)" style="fill: #20b2aa"/>
</g>
<g id="patch_246">
<path d="M 163.08 217.57 L 169.08 217.57 L 169.08 217.85 L 163.08 217.85 z
" clip-path="url(#p7bffef70ed)" style="fill: #20b2aa"/>
</g>
<g id="patch_247">
<path d="M 178.08 217.57 L 184.08 217.57 L 184.08 217.85 L 178.08 217.85 z
" clip-path="url(#p7bffef70ed)" style="fill: #20b2aa"/>
</g>
<g id="patch_248">
<path d="M 193.07 217.57 L 199.07 217.57 L 199.07 217.85 L 193.07 217.85 z
" clip-path="url(#p7bffef70ed)" style="fill: #20b2aa"/>
</g>
<g id="patch_249">
<path d="M 208.07 217.57 L 214.07 217.57 L 214.07 217.85 L 208.07 217.85 z
" clip-path="url(#p7bffef70ed)" style="fill: #20b2aa"/>
</g>
<g id="patch_250">
<path d="M 223.07 217.57 L 229.07 217.57 L 229.07 217.85 L 223.07 217.85 z
" clip-path="url(#p7bffef70ed)" style="fill: #20b2aa"/>
</g>
<g id="patch_251">
<path d="M 238.06 217.57 L 244.06 217.57 L 244.06 217.85 L 238.06 217.85 z
" clip-path="url(#p7bffef70ed)" style="fill: #20b2aa"/>
</g>
<g id="patch_252">
<path d="M 253.06 217.57 L 259.06 217.57 L 259.06 217.85 L 253.06 217.85 z
" clip-path="url(#p7bffef70ed)" style="fill: #20b2aa"/>
</g>
<g id="patch_253">
<path d="M 268.06 217.57 L 274.05 217.57 L 274.05 217.85 L 268.06 217.85 z
" clip-path="url(#p7bffef70ed)" style="fill: #20b2aa"/>
</g>
<g id="patch_254">
<path d="M 283.05 217.57 L 289.05 217.57 L 289.05 217.85 L 283.05 217.85 z
" clip-path="url(#p7bffef70ed)" style="fill: #20b2aa"/>
</g>
<g id="patch_255">
<path d="M 298.05 217.57 L 304.05 217.57 L 304.05 217.85 L 298.05 217.85 z
" clip-path="url(#p7bffef70ed)" style="fill: #20b2aa"/>
</g>
<g id="patch_256">
<path d="M 313.04 217.57 L 319.04 217.57 L 319.04 217.85 L 313.04 217.85 z
" clip-path="url(#p7bffef70ed)" style="fill: #20b2aa"/>
</g>
<g id="patch_257">
<path d="M 328.04 217.57 L 334.04 217.57 L 334.04 217.85 L 328.04 217.85 z
" clip-path="url(#p7bffef70ed)" style="fill: #20b2aa"/>
</g>
<g id="patch_258">
<path d="M 343.04 217.57 L 349.04 217.57 L 349.04 217.85 L 343.04 217.85 z
" clip-path="url(#p7bffef70ed)" style="fill: #20b2aa"/>
</g>
<g id="patch_259">
<path d="M 358.03 217.57 L 364.03 217.57 L 364.03 217.85 L 358.03 217.85 z
" clip-path="url(#p7bffef70ed)" style="fill: #20b2aa"/>
</g>
<g id="patch_260">
<path d="M 373.03 217.57 L 379.03 217.57 L 379.03 217.85 L 373.03 217.85 z
" clip-path="url(#p7bffef70ed)" style="fill: #20b2aa"/>
</g>
<g id="patch_261">
<path d="M 388.03 217.57 L 394.02 217.57 L 394.02 217.85 L 388.03 217.85 z
" clip-path="url(#p7bffef70ed)" style="fill: #20b2aa"/>
</g>
<g id="patch_262">
<path d="M 403.02 217.57 L 409.02 217.57 L 409.02 217.85 L 403.02 217.85 z
" clip-path="url(#p7bffef70ed)" style="fill: #20b2aa"/>
</g>
<g id="matplotlib.axis_9">
<g id="xtick_17">
<g id="line2d_45">
<g>
<path d="M 0 0 L 0 3.5 
" transform="translate(58.11 250.51)" style="stroke: #000000; stroke-width: 0.8; stroke: #000000; stroke-width: 0.8"/>
</g>
</g>
</g>
<g id="xtick_18">
<g id="line2d_46">
<g>
<path d="M 0 0 L 0 3.5 
" transform="translate(148.09 250.51)" style="stroke: #000000; stroke-width: 0.8; stroke: #000000; stroke-width: 0.8"/>
</g>
</g>
</g>
<g id="xtick_19">
<g id="line2d_47">
<g>
<path d="M 0 0 L 0 3.5 
" transform="translate(238.06 250.51)" style="stroke: #000000; stroke-width: 0.8; stroke: #000000; stroke-width: 0.8"/>
</g>
</g>
</g>
<g id="xtick_20">
<g id="line2d_48">
<g>
<path d="M 0 0 L 0 3.5 
" transform="translate(328.04 250.51)" style="stroke: #000000; stroke-width: 0.8; stroke: #000000; stroke-width: 0.8"/>
</g>
</g>
</g>
</g>
<g id="matplotlib.axis_10">
<g id="ytick_9">
<g id="line2d_49">
<g>
<path d="M 0 0 L -3.5 0 
" transform="translate(50.61 217.57)" style="stroke: #000000; stroke-width: 0.8; stroke: #000000; stroke-width: 0.8"/>
</g>
</g>
<g id="text_13">
<text style="font-size: 10px; font-family: 'DejaVu Sans', sans-serif; text-anchor: end" x="43.61" y="221.37" transform="rotate(-0 43.61 221.37)">0</text>
</g>
</g>
<g id="ytick_10">
<g id="line2d_50">
<g>
<path d="M 0 0 L -3.5 0 
" transform="translate(50.61 235.82)" style="stroke: #000000; stroke-width: 0.8; stroke: #000000; stroke-width: 0.8"/>
</g>
</g>
<g id="text_14">
<text style="font-size: 10px; font-family: 'DejaVu Sans', sans-serif; text-anchor: end" x="43.61" y="239.62" transform="rotate(-0 43.61 239.62)">−2</text>
</g>
</g>
<g id="text_15">
<g transform="translate(10.46 245.02) rotate(-90)">
<text>
<tspan x="0" y="-0.7" style="font-size: 10px; font-family: 'DejaVu Sans', sans-serif">B</tspan>
<tspan x="6.86" y="-0.7" style="font-size: 10px; font-family: 'DejaVu Sans', sans-serif">y</tspan>
<tspan x="12.78" y="-0.7" style="font-size: 10px; font-family: 'DejaVu Sans', sans-serif"> </tspan>
<tspan x="23.48" y="-0.7" style="font-size: 10px; font-family: 'DejaVu Sans', sans-serif">↓</tspan>
<tspan x="15.96" y="-0.7" style="font-style: oblique; font-size: 10px; font-family: 'DejaVu Sans', sans-serif">L</tspan>
</text>
</g>
<text style="font-size: 10px; font-family: 'DejaVu Sans', sans-serif" transform="translate(22.14 234.86) rotate(-90)">(k)</text>
</g>
</g>
<g id="line2d_51">
<path d="M 50.61 217.57 L 410.52 217.57 
" clip-path="url(#p7bffef70ed)" style="fill: none; stroke-dasharray: 2.96,1.28; stroke-dashoffset: 0; stroke: #808080; stroke-width: 0.8"/>
</g>
<g id="LineCollection_17"/>
<g id="LineCollection_18">
<path d="M 55.11 216.94 L 55.11 216.39 
" clip-path="url(#p7bffef70ed)" style="fill: none"/>
<path d="M 70.11 216.94 L 70.11 216.39 
" clip-path="url(#p7bffef70ed)" style="fill: none"/>
<path d="M 85.1 216.94 L 85.1 216.39 
" clip-path="url(#p7bffef70ed)" style="fill: none"/>
<path d="M 100.1 216.94 L 100.1 216.39 
" clip-path="url(#p7bffef70ed)" style="fill: none"/>
<path d="M 115.09 216.94 L 115.09 216.39 
" clip-path="url(#p7bffef70ed)" style="fill: none"/>
<path d="M 130.09 216.94 L 130.09 216.39 
" clip-path="url(#p7bffef70ed)" style="fill: none"/>
<path d="M 145.09 216.94 L 145.09 216.39 
" clip-path="url(#p7bffef70ed)" style="fill: none"/>
<path d="M 160.08 216.94 L 160.08 216.39 
" clip-path="url(#p7bffef70ed)" style="fill: none"/>
<path d="M 175.08 216.94 L 175.08 216.39 
" clip-path="url(#p7bffef70ed)" style="fill: none"/>
<path d="M 190.08 216.94 L 190.08 216.39 
" clip-path="url(#p7bffef70ed)" style="fill: none"/>
<path d="M 205.07 216.94 L 205.07 216.39 
" clip-path="url(#p7bffef70ed)" style="fill: none"/>
<path d="M 220.07 216.94 L 220.07 216.39 
" clip-path="url(#p7bffef70ed)" style="fill: none"/>
<path d="M 235.06 217.12 L 235.06 216.57 
" clip-path="url(#p7bffef70ed)" style="fill: none"/>
<path d="M 250.06 217.12 L 250.06 216.57 
" clip-path="url(#p7bffef70ed)" style="fill: none"/>
<path d="M 265.06 217.12 L 265.06 216.57 
" clip-path="url(#p7bffef70ed)" style="fill: none"/>
<path d="M 280.05 217.12 L 280.05 216.57 
" clip-path="url(#p7bffef70ed)" style="fill: none"/>
<path d="M 295.05 217.12 L 295.05 216.57 
" clip-path="url(#p7bffef70ed)" style="fill: none"/>
<path d="M 310.05 216.94 L 310.05 216.39 
" clip-path="url(#p7bffef70ed)" style="fill: none"/>
<path d="M 325.04 216.94 L 325.04 216.39 
" clip-path="url(#p7bffef70ed)" style="fill: none"/>
<path d="M 340.04 216.94 L 340.04 216.39 
" clip-path="url(#p7bffef70ed)" style="fill: none"/>
<path d="M 355.03 216.94 L 355.03 216.39 
" clip-path="url(#p7bffef70ed)" style="fill: none"/>
<path d="M 370.03 216.94 L 370.03 216.39 
" clip-path="url(#p7bffef70ed)" style="fill: none"/>
<path d="M 385.03 216.94 L 385.03 216.39 
" clip-path="url(#p7bffef70ed)" style="fill: none"/>
<path d="M 400.02 216.94 L 400.02 216.39 
" clip-path="url(#p7bffef70ed)" style="fill: none"/>
</g>
<g id="line2d_52">
<g clip-path="url(#p7bffef70ed)">
<path d="M 2 0 L -2 -0 
" transform="translate(55.11 216.94)" style="fill: #1f77b4; stroke: #000000; stroke: #000000"/>
<path d="M 2 0 L -2 -0 
" transform="translate(70.11 216.94)" style="fill: #1f77b4; stroke: #000000; stroke: #000000"/>
<path d="M 2 0 L -2 -0 
" transform="translate(85.1 216.94)" style="fill: #1f77b4; stroke: #000000; stroke: #000000"/>
<path d="M 2 0 L -2 -0 
" transform="translate(100.1 216.94)" style="fill: #1f77b4; stroke: #000000; stroke: #000000"/>
<path d="M 2 0 L -2 -0 
" transform="translate(115.09 216.94)" style="fill: #1f77b4; stroke: #000000; stroke: #000000"/>
<path d="M 2 0 L -2 -0 
" transform="translate(130.09 216.94)" style="fill: #1f77b4; stroke: #000000; stroke: #000000"/>
<path d="M 2 0 L -2 -0 
" transform="translate(145.09 216.94)" style="fill: #1f77b4; stroke: #000000; stroke: #000000"/>
<path d="M 2 0 L -2 -0 
" transform="translate(160.08 216.94)" style="fill: #1f77b4; stroke: #000000; stroke: #000000"/>
<path d="M 2 0 L -2 -0 
" transform="translate(175.08 216.94)" style="fill: #1f77b4; stroke: #000000; stroke: #000000"/>
<path d="M 2 0 L -2 -0 
" transform="translate(190.08 216.94)" style="fill: #1f77b4; stroke: #000000; stroke: #000000"/>
<path d="M 2 0 L -2 -0 
" transform="translate(205.07 216.94)" style="fill: #1f77b4; stroke: #000000; stroke: #000000"/>
<path d="M 2 0 L -2 -0 
" transform="translate(220.07 216.94)" style="fill: #1f77b4; stroke: #000000; stroke: #000000"/>
<path d="M 2 0 L -2 -0 
" transform="translate(235.06 217.12)" style="fill: #1f77b4; stroke: #000000; stroke: #000000"/>
<path d="M 2 0 L -2 -0 
" transform="translate(250.06 217.12)" style="fill: #1f77b4; stroke: #000000; stroke: #000000"/>
<path d="M 2 0 L -2 -0 
" transform="translate(265.06 217.12)" style="fill: #1f77b4; stroke: #000000; stroke: #000000"/>
<path d="M 2 0 L -2 -0 
" transform="translate(280.05 217.12)" style="fill: #1f77b4; stroke: #000000; stroke: #000000"/>
<path d="M 2 0 L -2 -0 
" transform="translate(295.05 217.12)" style="fill: #1f77b4; stroke: #000000; stroke: #000000"/>
<path d="M 2 0 L -2 -0 
" transform="translate(310.05 216.94)" style="fill: #1f77b4; stroke: #000000; stroke: #000000"/>
<path d="M 2 0 L -2 -0 
" transform="translate(325.04 216.94)" style="fill: #1f77b4; stroke: #000000; stroke: #000000"/>
<path d="M 2 0 L -2 -0 
" transform="translate(340.04 216.94)" style="fill: #1f77b4; stroke: #000000; stroke: #000000"/>
<path d="M 2 0 L -2 -0 
" transform="translate(355.03 216.94)" style="fill: #1f77b4; stroke: #000000; stroke: #000000"/>
<path d="M 2 0 L -2 -0 
" transform="translate(370.03 216.94)" style="fill: #1f77b4; stroke: #000000; stroke: #000000"/>
<path d="M 2 0 L -2 -0 
" transform="translate(385.03 216.94)" style="fill: #1f77b4; stroke: #000000; stroke: #000000"/>
<path d="M 2 0 L -2 -0 
" transform="translate(400.02 216.94)" style="fill: #1f77b4; stroke: #000000; stroke: #000000"/>
</g>
</g>
<g id="line2d_53">
<g clip-path="url(#p7bffef70ed)">
<path d="M 2 0 L -2 -0 
" transform="translate(55.11 216.39)" style="fill: #1f77b4; stroke: #000000; stroke: #000000"/>
<path d="M 2 0 L -2 -0 
" transform="translate(70.11 216.39)" style="fill: #1f77b4; stroke: #000000; stroke: #000000"/>
<path d="M 2 0 L -2 -0 
" transform="translate(85.1 216.39)" style="fill: #1f77b4; stroke: #000000; stroke: #000000"/>
<path d="M 2 0 L -2 -0 
" transform="translate(100.1 216.39)" style="fill: #1f77b4; stroke: #000000; stroke: #000000"/>
<path d="M 2 0 L -2 -0 
" transform="translate(115.09 216.39)" style="fill: #1f77b4; stroke: #000000; stroke: #000000"/>
<path d="M 2 0 L -2 -0 
" transform="translate(130.09 216.39)" style="fill: #1f77b4; stroke: #000000; stroke: #000000"/>
<path d="M 2 0 L -2 -0 
" transform="translate(145.09 216.39)" style="fill: #1f77b4; stroke: #000000; stroke: #000000"/>
<path d="M 2 0 L -2 -0 
" transform="translate(160.08 216.39)" style="fill: #1f77b4; stroke: #000000; stroke: #000000"/>
<path d="M 2 0 L -2 -0 
" transform="translate(175.08 216.39)" style="fill: #1f77b4; stroke: #000000; stroke: #000000"/>
<path d="M 2 0 L -2 -0 
" transform="translate(190.08 216.39)" style="fill: #1f77b4; stroke: #000000; stroke: #000000"/>
<path d="M 2 0 L -2 -0 
" transform="translate(205.07 216.39)" style="fill: #1f77b4; stroke: #000000; stroke: #000000"/>
<path d="M 2 0 L -2 -0 
" transform="translate(220.07 216.39)" style="fill: #1f77b4; stroke: #000000; stroke: #000000"/>
<path d="M 2 0 L -2 -0 
" transform="translate(235.06 216.57)" style="fill: #1f77b4; stroke: #000000; stroke: #000000"/>
<path d="M 2 0 L -2 -0 
" transform="translate(250.06 216.57)" style="fill: #1f77b4; stroke: #000000; stroke: #000000"/>
<path d="M 2 0 L -2 -0 
" transform="translate(265.06 216.57)" style="fill: #1f77b4; stroke: #000000; stroke: #000000"/>
<path d="M 2 0 L -2 -0 
" transform="translate(280.05 216.57)" style="fill: #1f77b4; stroke: #000000; stroke: #000000"/>
<path d="M 2 0 L -2 -0 
" transform="translate(295.05 216.57)" style="fill: #1f77b4; stroke: #000000; stroke: #000000"/>
<path d="M 2 0 L -2 -0 
" transform="translate(310.05 216.39)" style="fill: #1f77b4; stroke: #000000; stroke: #000000"/>
<path d="M 2 0 L -2 -0 
" transform="translate(325.04 216.39)" style="fill: #1f77b4; stroke: #000000; stroke: #000000"/>
<path d="M 2 0 L -2 -0 
" transform="translate(340.04 216.39)" style="fill: #1f77b4; stroke: #000000; stroke: #000000"/>
<path d="M 2 0 L -2 -0 
" transform="translate(355.03 216.39)" style="fill: #1f77b4; stroke: #000000; stroke: #000000"/>
<path d="M 2 0 L -2 -0 
" transform="translate(370.03 216.39)" style="fill: #1f77b4; stroke: #000000; stroke: #000000"/>
<path d="M 2 0 L -2 -0 
" transform="translate(385.03 216.39)" style="fill: #1f77b4; stroke: #000000; stroke: #000000"/>
<path d="M 2 0 L -2 -0 
" transform="translate(400.02 216.39)" style="fill: #1f77b4; stroke: #000000; stroke: #000000"/>
</g>
</g>
<g id="LineCollection_19"/>
<g id="LineCollection_20">
<path d="M 61.11 218.03 L 61.11 217.66 
" clip-path="url(#p7bffef70ed)" style="fill: none"/>
<path d="M 76.1 218.03 L 76.1 217.66 
" clip-path="url(#p7bffef70ed)" style="fill: none"/>
<path d="M 91.1 218.03 L 91.1 217.66 
" clip-path="url(#p7bffef70ed)" style="fill: none"/>
<path d="M 106.1 218.03 L 106.1 217.66 
" clip-path="url(#p7bffef70ed)" style="fill: none"/>
<path d="M 121.09 218.03 L 121.09 217.66 
" clip-path="url(#p7bffef70ed)" style="fill: none"/>
<path d="M 136.09 218.03 L 136.09 217.66 
" clip-path="url(#p7bffef70ed)" style="fill: none"/>
<path d="M 151.08 218.03 L 151.08 217.66 
" clip-path="url(#p7bffef70ed)" style="fill: none"/>
<path d="M 166.08 218.03 L 166.08 217.66 
" clip-path="url(#p7bffef70ed)" style="fill: none"/>
<path d="M 181.08 218.03 L 181.08 217.66 
" clip-path="url(#p7bffef70ed)" style="fill: none"/>
<path d="M 196.07 218.03 L 196.07 217.66 
" clip-path="url(#p7bffef70ed)" style="fill: none"/>
<path d="M 211.07 218.03 L 211.07 217.66 
" clip-path="url(#p7bffef70ed)" style="fill: none"/>
<path d="M 226.07 218.03 L 226.07 217.66 
" clip-path="url(#p7bffef70ed)" style="fill: none"/>
<path d="M 241.06 218.03 L 241.06 217.66 
" clip-path="url(#p7bffef70ed)" style="fill: none"/>
<path d="M 256.06 218.03 L 256.06 217.66 
" clip-path="url(#p7bffef70ed)" style="fill: none"/>
<path d="M 271.05 218.03 L 271.05 217.66 
" clip-path="url(#p7bffef70ed)" style="fill: none"/>
<path d="M 286.05 218.03 L 286.05 217.66 
" clip-path="url(#p7bffef70ed)" style="fill: none"/>
<path d="M 301.05 218.03 L 301.05 217.66 
" clip-path="url(#p7bffef70ed)" style="fill: none"/>
<path d="M 316.04 218.03 L 316.04 217.66 
" clip-path="url(#p7bffef70ed)" style="fill: none"/>
<path d="M 331.04 218.03 L 331.04 217.66 
" clip-path="url(#p7bffef70ed)" style="fill: none"/>
<path d="M 346.04 218.03 L 346.04 217.66 
" clip-path="url(#p7bffef70ed)" style="fill: none"/>
<path d="M 361.03 218.03 L 361.03 217.66 
" clip-path="url(#p7bffef70ed)" style="fill: none"/>
<path d="M 376.03 218.03 L 376.03 217.66 
" clip-path="url(#p7bffef70ed)" style="fill: none"/>
<path d="M 391.02 218.03 L 391.02 217.66 
" clip-path="url(#p7bffef70ed)" style="fill: none"/>
<path d="M 406.02 218.03 L 406.02 217.66 
" clip-path="url(#p7bffef70ed)" style="fill: none"/>
</g>
<g id="line2d_54">
<g clip-path="url(#p7bffef70ed)">
<path d="M 2 0 L -2 -0 
" transform="translate(61.11 218.03)" style="fill: #1f77b4; stroke: #000000; stroke: #000000"/>
<path d="M 2 0 L -2 -0 
" transform="translate(76.1 218.03)" style="fill: #1f77b4; stroke: #000000; stroke: #000000"/>
<path d="M 2 0 L -2 -0 
" transform="translate(91.1 218.03)" style="fill: #1f77b4; stroke: #000000; stroke: #000000"/>
<path d="M 2 0 L -2 -0 
" transform="translate(106.1 218.03)" style="fill: #1f77b4; stroke: #000000; stroke: #000000"/>
<path d="M 2 0 L -2 -0 
" transform="translate(121.09 218.03)" style="fill: #1f77b4; stroke: #000000; stroke: #000000"/>
<path d="M 2 0 L -2 -0 
" transform="translate(136.09 218.03)" style="fill: #1f77b4; stroke: #000000; stroke: #000000"/>
<path d="M 2 0 L -2 -0 
" transform="translate(151.08 218.03)" style="fill: #1f77b4; stroke: #000000; stroke: #000000"/>
<path d="M 2 0 L -2 -0 
" transform="translate(166.08 218.03)" style="fill: #1f77b4; stroke: #000000; stroke: #000000"/>
<path d="M 2 0 L -2 -0 
" transform="translate(181.08 218.03)" style="fill: #1f77b4; stroke: #000000; stroke: #000000"/>
<path d="M 2 0 L -2 -0 
" transform="translate(196.07 218.03)" style="fill: #1f77b4; stroke: #000000; stroke: #000000"/>
<path d="M 2 0 L -2 -0 
" transform="translate(211.07 218.03)" style="fill: #1f77b4; stroke: #000000; stroke: #000000"/>
<path d="M 2 0 L -2 -0 
" transform="translate(226.07 218.03)" style="fill: #1f77b4; stroke: #000000; stroke: #000000"/>
<path d="M 2 0 L -2 -0 
" transform="translate(241.06 218.03)" style="fill: #1f77b4; stroke: #000000; stroke: #000000"/>
<path d="M 2 0 L -2 -0 
" transform="translate(256.06 218.03)" style="fill: #1f77b4; stroke: #000000; stroke: #000000"/>
<path d="M 2 0 L -2 -0 
" transform="translate(271.05 218.03)" style="fill: #1f77b4; stroke: #000000; stroke: #000000"/>
<path d="M 2 0 L -2 -0 
" transform="translate(286.05 218.03)" style="fill: #1f77b4; stroke: #000000; stroke: #000000"/>
<path d="M 2 0 L -2 -0 
" transform="translate(301.05 218.03)" style="fill: #1f77b4; stroke: #000000; stroke: #000000"/>
<path d="M 2 0 L -2 -0 
" transform="translate(316.04 218.03)" style="fill: #1f77b4; stroke: #000000; stroke: #000000"/>
<path d="M 2 0 L -2 -0 
" transform="translate(331.04 218.03)" style="fill: #1f77b4; stroke: #000000; stroke: #000000"/>
<path d="M 2 0 L -2 -0 
" transform="translate(346.04 218.03)" style="fill: #1f77b4; stroke: #000000; stroke: #000000"/>
<path d="M 2 0 L -2 -0 
" transform="translate(361.03 218.03)" style="fill: #1f77b4; stroke: #000000; stroke: #000000"/>
<path d="M 2 0 L -2 -0 
" transform="translate(376.03 218.03)" style="fill: #1f77b4; stroke: #000000; stroke: #000000"/>
<path d="M 2 0 L -2 -0 
" transform="translate(391.02 218.03)" style="fill: #1f77b4; stroke: #000000; stroke: #000000"/>
<path d="M 2 0 L -2 -0 
" transform="translate(406.02 218.03)" style="fill: #1f77b4; stroke: #000000; stroke: #000000"/>
</g>
</g>
<g id="line2d_55">
<g clip-path="url(#p7bffef70ed)">
<path d="M 2 0 L -2 -0 
" transform="translate(61.11 217.66)" style="fill: #1f77b4; stroke: #000000; stroke: #000000"/>
<path d="M 2 0 L -2 -0 
" transform="translate(76.1 217.66)" style="fill: #1f77b4; stroke: #000000; stroke: #000000"/>
<path d="M 2 0 L -2 -0 
" transform="translate(91.1 217.66)" style="fill: #1f77b4; stroke: #000000; stroke: #000000"/>
<path d="M 2 0 L -2 -0 
" transform="translate(106.1 217.66)" style="fill: #1f77b4; stroke: #000000; stroke: #000000"/>
<path d="M 2 0 L -2 -0 
" transform="translate(121.09 217.66)" style="fill: #1f77b4; stroke: #000000; stroke: #000000"/>
<path d="M 2 0 L -2 -0 
" transform="translate(136.09 217.66)" style="fill: #1f77b4; stroke: #000000; stroke: #000000"/>
<path d="M 2 0 L -2 -0 
" transform="translate(151.08 217.66)" style="fill: #1f77b4; stroke: #000000; stroke: #000000"/>
<path d="M 2 0 L -2 -0 
" transform="translate(166.08 217.66)" style="fill: #1f77b4; stroke: #000000; stroke: #000000"/>
<path d="M 2 0 L -2 -0 
" transform="translate(181.08 217.66)" style="fill: #1f77b4; stroke: #000000; stroke: #000000"/>
<path d="M 2 0 L -2 -0 
" transform="translate(196.07 217.66)" style="fill: #1f77b4; stroke: #000000; stroke: #000000"/>
<path d="M 2 0 L -2 -0 
" transform="translate(211.07 217.66)" style="fill: #1f77b4; stroke: #000000; stroke: #000000"/>
<path d="M 2 0 L -2 -0 
" transform="translate(226.07 217.66)" style="fill: #1f77b4; stroke: #000000; stroke: #000000"/>
<path d="M 2 0 L -2 -0 
" transform="translate(241.06 217.66)" style="fill: #1f77b4; stroke: #000000; stroke: #000000"/>
<path d="M 2 0 L -2 -0 
" transform="translate(256.06 217.66)" style="fill: #1f77b4; stroke: #000000; stroke: #000000"/>
<path d="M 2 0 L -2 -0 
" transform="translate(271.05 217.66)" style="fill: #1f77b4; stroke: #000000; stroke: #000000"/>
<path d="M 2 0 L -2 -0 
" transform="translate(286.05 217.66)" style="fill: #1f77b4; stroke: #000000; stroke: #000000"/>
<path d="M 2 0 L -2 -0 
" transform="translate(301.05 217.66)" style="fill: #1f77b4; stroke: #000000; stroke: #000000"/>
<path d="M 2 0 L -2 -0 
" transform="translate(316.04 217.66)" style="fill: #1f77b4; stroke: #000000; stroke: #000000"/>
<path d="M 2 0 L -2 -0 
" transform="translate(331.04 217.66)" style="fill: #1f77b4; stroke: #000000; stroke: #000000"/>
<path d="M 2 0 L -2 -0 
" transform="translate(346.04 217.66)" style="fill: #1f77b4; stroke: #000000; stroke: #000000"/>
<path d="M 2 0 L -2 -0 
" transform="translate(361.03 217.66)" style="fill: #1f77b4; stroke: #000000; stroke: #000000"/>
<path d="M 2 0 L -2 -0 
" transform="translate(376.03 217.66)" style="fill: #1f77b4; stroke: #000000; stroke: #000000"/>
<path d="M 2 0 L -2 -0 
" transform="translate(391.02 217.66)" style="fill: #1f77b4; stroke: #000000; stroke: #000000"/>
<path d="M 2 0 L -2 -0 
" transform="translate(406.02 217.66)" style="fill: #1f77b4; stroke: #000000; stroke: #000000"/>
</g>
</g>
<g id="patch_263">
<path d="M 50.61 250.51 L 50.61 205.62 
" style="fill: none; stroke: #000000; stroke-width: 0.8; stroke-linejoin: miter; stroke-linecap: square"/>
</g>
<g id="patch_264">
<path d="M 410.52 250.51 L 410.52 205.62 
" style="fill: none; stroke: #000000; stroke-width: 0.8; stroke-linejoin: miter; stroke-linecap: square"/>
</g>
<g id="patch_265">
<path d="M 50.61 250.51 L 410.52 250.51 
" style="fill: none; stroke: #000000; stroke-width: 0.8; stroke-linejoin: miter; stroke-linecap: square"/>
</g>
<g id="patch_266">
<path d="M 50.61 205.62 L 410.52 205.62 
" style="fill: none; stroke: #000000; stroke-width: 0.8; stroke-linejoin: miter; stroke-linecap: square"/>
</g>
</g>
<g id="axes_6">
<g id="patch_267">
<path d="M 50.61 295.41 L 410.52 295.41 L 410.52 250.51 L 50.61 250.51 z
" style="fill: #ffffff"/>
</g>
<g id="patch_268">
<path d="M 52.11 262.47 L 58.11 262.47 L 58.11 261.56 L 52.11 261.56 z
" clip-path="url(#p6e61939190)" style="fill: #cd853f"/>
</g>
<g id="patch_269">
<path d="M 67.11 262.47 L 73.1 262.47 L 73.1 261.56 L 67.11 261.56 z
" clip-path="url(#p6e61939190)" style="fill: #cd853f"/>
</g>
<g id="patch_270">
<path d="M 82.1 262.47 L 88.1 262.47 L 88.1 261.56 L 82.1 261.56 z
" clip-path="url(#p6e61939190)" style="fill: #cd853f"/>
</g>
<g id="patch_271">
<path d="M 97.1 262.47 L 103.1 262.47 L 103.1 261.56 L 97.1 261.56 z
" clip-path="url(#p6e61939190)" style="fill: #cd853f"/>
</g>
<g id="patch_272">
<path d="M 112.09 262.47 L 118.09 262.47 L 118.09 261.56 L 112.09 261.56 z
" clip-path="url(#p6e61939190)" style="fill: #cd853f"/>
</g>
<g id="patch_273">
<path d="M 127.09 262.47 L 133.09 262.47 L 133.09 261.56 L 127.09 261.56 z
" clip-path="url(#p6e61939190)" style="fill: #cd853f"/>
</g>
<g id="patch_274">
<path d="M 142.09 262.47 L 148.09 262.47 L 148.09 262.01 L 142.09 262.01 z
" clip-path="url(#p6e61939190)" style="fill: #cd853f"/>
</g>
<g id="patch_275">
<path d="M 157.08 262.47 L 163.08 262.47 L 163.08 263.02 L 157.08 263.02 z
" clip-path="url(#p6e61939190)" style="fill: #cd853f"/>
</g>
<g id="patch_276">
<path d="M 172.08 262.47 L 178.08 262.47 L 178.08 261.37 L 172.08 261.37 z
" clip-path="url(#p6e61939190)" style="fill: #cd853f"/>
</g>
<g id="patch_277">
<path d="M 187.08 262.47 L 193.07 262.47 L 193.07 258.55 L 187.08 258.55 z
" clip-path="url(#p6e61939190)" style="fill: #cd853f"/>
</g>
<g id="patch_278">
<path d="M 202.07 262.47 L 208.07 262.47 L 208.07 256.45 L 202.07 256.45 z
" clip-path="url(#p6e61939190)" style="fill: #cd853f"/>
</g>
<g id="patch_279">
<path d="M 217.07 262.47 L 223.07 262.47 L 223.07 254.35 L 217.07 254.35 z
" clip-path="url(#p6e61939190)" style="fill: #cd853f"/>
</g>
<g id="patch_280">
<path d="M 232.06 262.47 L 238.06 262.47 L 238.06 253.8 L 232.06 253.8 z
" clip-path="url(#p6e61939190)" style="fill: #cd853f"/>
</g>
<g id="patch_281">
<path d="M 247.06 262.47 L 253.06 262.47 L 253.06 253.89 L 247.06 253.89 z
" clip-path="url(#p6e61939190)" style="fill: #cd853f"/>
</g>
<g id="patch_282">
<path d="M 262.06 262.47 L 268.06 262.47 L 268.06 254.35 L 262.06 254.35 z
" clip-path="url(#p6e61939190)" style="fill: #cd853f"/>
</g>
<g id="patch_283">
<path d="M 277.05 262.47 L 283.05 262.47 L 283.05 255.08 L 277.05 255.08 z
" clip-path="url(#p6e61939190)" style="fill: #cd853f"/>
</g>
<g id="patch_284">
<path d="M 292.05 262.47 L 298.05 262.47 L 298.05 255.99 L 292.05 255.99 z
" clip-path="url(#p6e61939190)" style="fill: #cd853f"/>
</g>
<g id="patch_285">
<path d="M 307.05 262.47 L 313.04 262.47 L 313.04 258.64 L 307.05 258.64 z
" clip-path="url(#p6e61939190)" style="fill: #cd853f"/>
</g>
<g id="patch_286">
<path d="M 322.04 262.47 L 328.04 262.47 L 328.04 261.28 L 322.04 261.28 z
" clip-path="url(#p6e61939190)" style="fill: #cd853f"/>
</g>
<g id="patch_287">
<path d="M 337.04 262.47 L 343.04 262.47 L 343.04 261.56 L 337.04 261.56 z
" clip-path="url(#p6e61939190)" style="fill: #cd853f"/>
</g>
<g id="patch_288">
<path d="M 352.03 262.47 L 358.03 262.47 L 358.03 261.56 L 352.03 261.56 z
" clip-path="url(#p6e61939190)" style="fill: #cd853f"/>
</g>
<g id="patch_289">
<path d="M 367.03 262.47 L 373.03 262.47 L 373.03 261.56 L 367.03 261.56 z
" clip-path="url(#p6e61939190)" style="fill: #cd853f"/>
</g>
<g id="patch_290">
<path d="M 382.03 262.47 L 388.03 262.47 L 388.03 261.56 L 382.03 261.56 z
" clip-path="url(#p6e61939190)" style="fill: #cd853f"/>
</g>
<g id="patch_291">
<path d="M 397.02 262.47 L 403.02 262.47 L 403.02 261.56 L 397.02 261.56 z
" clip-path="url(#p6e61939190)" style="fill: #cd853f"/>
</g>
<g id="patch_292">
<path d="M 58.11 262.47 L 64.11 262.47 L 64.11 262.74 L 58.11 262.74 z
" clip-path="url(#p6e61939190)" style="fill: #20b2aa"/>
</g>
<g id="patch_293">
<path d="M 73.1 262.47 L 79.1 262.47 L 79.1 262.74 L 73.1 262.74 z
" clip-path="url(#p6e61939190)" style="fill: #20b2aa"/>
</g>
<g id="patch_294">
<path d="M 88.1 262.47 L 94.1 262.47 L 94.1 262.74 L 88.1 262.74 z
" clip-path="url(#p6e61939190)" style="fill: #20b2aa"/>
</g>
<g id="patch_295">
<path d="M 103.1 262.47 L 109.1 262.47 L 109.1 262.74 L 103.1 262.74 z
" clip-path="url(#p6e61939190)" style="fill: #20b2aa"/>
</g>
<g id="patch_296">
<path d="M 118.09 262.47 L 124.09 262.47 L 124.09 262.74 L 118.09 262.74 z
" clip-path="url(#p6e61939190)" style="fill: #20b2aa"/>
</g>
<g id="patch_297">
<path d="M 133.09 262.47 L 139.09 262.47 L 139.09 262.74 L 133.09 262.74 z
" clip-path="url(#p6e61939190)" style="fill: #20b2aa"/>
</g>
<g id="patch_298">
<path d="M 148.09 262.47 L 154.08 262.47 L 154.08 262.47 L 148.09 262.47 z
" clip-path="url(#p6e61939190)" style="fill: #20b2aa"/>
</g>
<g id="patch_299">
<path d="M 163.08 262.47 L 169.08 262.47 L 169.08 260.28 L 163.08 260.28 z
" clip-path="url(#p6e61939190)" style="fill: #20b2aa"/>
</g>
<g id="patch_300">
<path d="M 178.08 262.47 L 184.08 262.47 L 184.08 257.91 L 178.08 257.91 z
" clip-path="url(#p6e61939190)" style="fill: #20b2aa"/>
</g>
<g id="patch_301">
<path d="M 193.07 262.47 L 199.07 262.47 L 199.07 255.62 L 193.07 255.62 z
" clip-path="url(#p6e61939190)" style="fill: #20b2aa"/>
</g>
<g id="patch_302">
<path d="M 208.07 262.47 L 214.07 262.47 L 214.07 254.16 L 208.07 254.16 z
" clip-path="url(#p6e61939190)" style="fill: #20b2aa"/>
</g>
<g id="patch_303">
<path d="M 223.07 262.47 L 229.07 262.47 L 229.07 253.07 L 223.07 253.07 z
" clip-path="url(#p6e61939190)" style="fill: #20b2aa"/>
</g>
<g id="patch_304">
<path d="M 238.06 262.47 L 244.06 262.47 L 244.06 252.89 L 238.06 252.89 z
" clip-path="url(#p6e61939190)" style="fill: #20b2aa"/>
</g>
<g id="patch_305">
<path d="M 253.06 262.47 L 259.06 262.47 L 259.06 253.8 L 253.06 253.8 z
" clip-path="url(#p6e61939190)" style="fill: #20b2aa"/>
</g>
<g id="patch_306">
<path d="M 268.06 262.47 L 274.05 262.47 L 274.05 255.08 L 268.06 255.08 z
" clip-path="url(#p6e61939190)" style="fill: #20b2aa"/>
</g>
<g id="patch_307">
<path d="M 283.05 262.47 L 289.05 262.47 L 289.05 257.36 L 283.05 257.36 z
" clip-path="url(#p6e61939190)" style="fill: #20b2aa"/>
</g>
<g id="patch_308">
<path d="M 298.05 262.47 L 304.05 262.47 L 304.05 259.55 L 298.05 259.55 z
" clip-path="url(#p6e61939190)" style="fill: #20b2aa"/>
</g>
<g id="patch_309">
<path d="M 313.04 262.47 L 319.04 262.47 L 319.04 262.1 L 313.04 262.1 z
" clip-path="url(#p6e61939190)" style="fill: #20b2aa"/>
</g>
<g id="patch_310">
<path d="M 328.04 262.47 L 334.04 262.47 L 334.04 262.74 L 328.04 262.74 z
" clip-path="url(#p6e61939190)" style="fill: #20b2aa"/>
</g>
<g id="patch_311">
<path d="M 343.04 262.47 L 349.04 262.47 L 349.04 262.74 L 343.04 262.74 z
" clip-path="url(#p6e61939190)" style="fill: #20b2aa"/>
</g>
<g id="patch_312">
<path d="M 358.03 262.47 L 364.03 262.47 L 364.03 262.74 L 358.03 262.74 z
" clip-path="url(#p6e61939190)" style="fill: #20b2aa"/>
</g>
<g id="patch_313">
<path d="M 373.03 262.47 L 379.03 262.47 L 379.03 262.74 L 373.03 262.74 z
" clip-path="url(#p6e61939190)" style="fill: #20b2aa"/>
</g>
<g id="patch_314">
<path d="M 388.03 262.47 L 394.02 262.47 L 394.02 262.74 L 388.03 262.74 z
" clip-path="url(#p6e61939190)" style="fill: #20b2aa"/>
</g>
<g id="patch_315">
<path d="M 403.02 262.47 L 409.02 262.47 L 409.02 262.74 L 403.02 262.74 z
" clip-path="url(#p6e61939190)" style="fill: #20b2aa"/>
</g>
<g id="matplotlib.axis_11">
<g id="xtick_21">
<g id="line2d_56">
<g>
<path d="M 0 0 L 0 3.5 
" transform="translate(58.11 295.41)" style="stroke: #000000; stroke-width: 0.8; stroke: #000000; stroke-width: 0.8"/>
</g>
</g>
</g>
<g id="xtick_22">
<g id="line2d_57">
<g>
<path d="M 0 0 L 0 3.5 
" transform="translate(148.09 295.41)" style="stroke: #000000; stroke-width: 0.8; stroke: #000000; stroke-width: 0.8"/>
</g>
</g>
</g>
<g id="xtick_23">
<g id="line2d_58">
<g>
<path d="M 0 0 L 0 3.5 
" transform="translate(238.06 295.41)" style="stroke: #000000; stroke-width: 0.8; stroke: #000000; stroke-width: 0.8"/>
</g>
</g>
</g>
<g id="xtick_24">
<g id="line2d_59">
<g>
<path d="M 0 0 L 0 3.5 
" transform="translate(328.04 295.41)" style="stroke: #000000; stroke-width: 0.8; stroke: #000000; stroke-width: 0.8"/>
</g>
</g>
</g>
</g>
<g id="matplotlib.axis_12">
<g id="ytick_11">
<g id="line2d_60">
<g>
<path d="M 0 0 L -3.5 0 
" transform="translate(50.61 262.47)" style="stroke: #000000; stroke-width: 0.8; stroke: #000000; stroke-width: 0.8"/>
</g>
</g>
<g id="text_16">
<text style="font-size: 10px; font-family: 'DejaVu Sans', sans-serif; text-anchor: end" x="43.61" y="266.27" transform="rotate(-0 43.61 266.27)">0</text>
</g>
</g>
<g id="ytick_12">
<g id="line2d_61">
<g>
<path d="M 0 0 L -3.5 0 
" transform="translate(50.61 280.72)" style="stroke: #000000; stroke-width: 0.8; stroke: #000000; stroke-width: 0.8"/>
</g>
</g>
<g id="text_17">
<text style="font-size: 10px; font-family: 'DejaVu Sans', sans-serif; text-anchor: end" x="43.61" y="284.52" transform="rotate(-0 43.61 284.52)">−2</text>
</g>
</g>
<g id="text_18">
<g transform="translate(10.46 284.71) rotate(-90)">
<text>
<tspan x="0" y="-0.7" style="font-size: 10px; font-family: 'DejaVu Sans', sans-serif">B</tspan>
<tspan x="6.86" y="-0.7" style="font-size: 10px; font-family: 'DejaVu Sans', sans-serif">y</tspan>
<tspan x="12.78" y="-0.7" style="font-size: 10px; font-family: 'DejaVu Sans', sans-serif"> </tspan>
<tspan x="15.96" y="-0.7" style="font-style: oblique; font-size: 10px; font-family: 'DejaVu Sans', sans-serif">H</tspan>
</text>
</g>
<text style="font-size: 10px; font-family: 'DejaVu Sans', sans-serif" transform="translate(22.14 279.76) rotate(-90)">(k)</text>
</g>
</g>
<g id="line2d_62">
<path d="M 50.61 262.47 L 410.52 262.47 
" clip-path="url(#p6e61939190)" style="fill: none; stroke-dasharray: 2.96,1.28; stroke-dashoffset: 0; stroke: #808080; stroke-width: 0.8"/>
</g>
<g id="LineCollection_21">
<path d="M 175.08 262.19 L 175.08 260.55 
" clip-path="url(#p6e61939190)" style="fill: none; stroke: #6a6a6a; stroke-width: 0.45"/>
<path d="M 190.08 259.64 L 190.08 257.45 
" clip-path="url(#p6e61939190)" style="fill: none; stroke: #6a6a6a; stroke-width: 0.45"/>
<path d="M 205.07 257.91 L 205.07 254.99 
" clip-path="url(#p6e61939190)" style="fill: none; stroke: #6a6a6a; stroke-width: 0.45"/>
<path d="M 220.07 255.99 L 220.07 252.71 
" clip-path="url(#p6e61939190)" style="fill: none; stroke: #6a6a6a; stroke-width: 0.45"/>
<path d="M 235.06 255.62 L 235.06 251.97 
" clip-path="url(#p6e61939190)" style="fill: none; stroke: #6a6a6a; stroke-width: 0.45"/>
<path d="M 250.06 255.53 L 250.06 252.25 
" clip-path="url(#p6e61939190)" style="fill: none; stroke: #6a6a6a; stroke-width: 0.45"/>
<path d="M 265.06 255.72 L 265.06 252.98 
" clip-path="url(#p6e61939190)" style="fill: none; stroke: #6a6a6a; stroke-width: 0.45"/>
<path d="M 280.05 256.17 L 280.05 253.98 
" clip-path="url(#p6e61939190)" style="fill: none; stroke: #6a6a6a; stroke-width: 0.45"/>
<path d="M 295.05 256.9 L 295.05 255.08 
" clip-path="url(#p6e61939190)" style="fill: none; stroke: #6a6a6a; stroke-width: 0.45"/>
</g>
<g id="LineCollection_22">
<path d="M 55.11 261.83 L 55.11 261.28 
" clip-path="url(#p6e61939190)" style="fill: none"/>
<path d="M 70.11 261.83 L 70.11 261.28 
" clip-path="url(#p6e61939190)" style="fill: none"/>
<path d="M 85.1 261.83 L 85.1 261.28 
" clip-path="url(#p6e61939190)" style="fill: none"/>
<path d="M 100.1 261.83 L 100.1 261.28 
" clip-path="url(#p6e61939190)" style="fill: none"/>
<path d="M 115.09 261.83 L 115.09 261.28 
" clip-path="url(#p6e61939190)" style="fill: none"/>
<path d="M 130.09 261.83 L 130.09 261.28 
" clip-path="url(#p6e61939190)" style="fill: none"/>
<path d="M 145.09 262.29 L 145.09 261.74 
" clip-path="url(#p6e61939190)" style="fill: none"/>
<path d="M 160.08 263.29 L 160.08 262.74 
" clip-path="url(#p6e61939190)" style="fill: none"/>
<path d="M 175.08 262.19 L 175.08 260.55 
" clip-path="url(#p6e61939190)" style="fill: none"/>
<path d="M 190.08 259.64 L 190.08 257.45 
" clip-path="url(#p6e61939190)" style="fill: none"/>
<path d="M 205.07 257.91 L 205.07 254.99 
" clip-path="url(#p6e61939190)" style="fill: none"/>
<path d="M 220.07 255.99 L 220.07 252.71 
" clip-path="url(#p6e61939190)" style="fill: none"/>
<path d="M 235.06 255.62 L 235.06 251.97 
" clip-path="url(#p6e61939190)" style="fill: none"/>
<path d="M 250.06 255.53 L 250.06 252.25 
" clip-path="url(#p6e61939190)" style="fill: none"/>
<path d="M 265.06 255.72 L 265.06 252.98 
" clip-path="url(#p6e61939190)" style="fill: none"/>
<path d="M 280.05 256.17 L 280.05 253.98 
" clip-path="url(#p6e61939190)" style="fill: none"/>
<path d="M 295.05 256.9 L 295.05 255.08 
" clip-path="url(#p6e61939190)" style="fill: none"/>
<path d="M 310.05 259 L 310.05 258.27 
" clip-path="url(#p6e61939190)" style="fill: none"/>
<path d="M 325.04 261.56 L 325.04 261.01 
" clip-path="url(#p6e61939190)" style="fill: none"/>
<path d="M 340.04 261.83 L 340.04 261.28 
" clip-path="url(#p6e61939190)" style="fill: none"/>
<path d="M 355.03 261.83 L 355.03 261.28 
" clip-path="url(#p6e61939190)" style="fill: none"/>
<path d="M 370.03 261.83 L 370.03 261.28 
" clip-path="url(#p6e61939190)" style="fill: none"/>
<path d="M 385.03 261.83 L 385.03 261.28 
" clip-path="url(#p6e61939190)" style="fill: none"/>
<path d="M 400.02 261.83 L 400.02 261.28 
" clip-path="url(#p6e61939190)" style="fill: none"/>
</g>
<g id="line2d_63">
<g clip-path="url(#p6e61939190)">
<path d="M 2 0 L -2 -0 
" transform="translate(55.11 261.83)" style="fill: #1f77b4; stroke: #000000; stroke: #000000"/>
<path d="M 2 0 L -2 -0 
" transform="translate(70.11 261.83)" style="fill: #1f77b4; stroke: #000000; stroke: #000000"/>
<path d="M 2 0 L -2 -0 
" transform="translate(85.1 261.83)" style="fill: #1f77b4; stroke: #000000; stroke: #000000"/>
<path d="M 2 0 L -2 -0 
" transform="translate(100.1 261.83)" style="fill: #1f77b4; stroke: #000000; stroke: #000000"/>
<path d="M 2 0 L -2 -0 
" transform="translate(115.09 261.83)" style="fill: #1f77b4; stroke: #000000; stroke: #000000"/>
<path d="M 2 0 L -2 -0 
" transform="translate(130.09 261.83)" style="fill: #1f77b4; stroke: #000000; stroke: #000000"/>
<path d="M 2 0 L -2 -0 
" transform="translate(145.09 262.29)" style="fill: #1f77b4; stroke: #000000; stroke: #000000"/>
<path d="M 2 0 L -2 -0 
" transform="translate(160.08 263.29)" style="fill: #1f77b4; stroke: #000000; stroke: #000000"/>
<path d="M 2 0 L -2 -0 
" transform="translate(175.08 262.19)" style="fill: #1f77b4; stroke: #000000; stroke: #000000"/>
<path d="M 2 0 L -2 -0 
" transform="translate(190.08 259.64)" style="fill: #1f77b4; stroke: #000000; stroke: #000000"/>
<path d="M 2 0 L -2 -0 
" transform="translate(205.07 257.91)" style="fill: #1f77b4; stroke: #000000; stroke: #000000"/>
<path d="M 2 0 L -2 -0 
" transform="translate(220.07 255.99)" style="fill: #1f77b4; stroke: #000000; stroke: #000000"/>
<path d="M 2 0 L -2 -0 
" transform="translate(235.06 255.62)" style="fill: #1f77b4; stroke: #000000; stroke: #000000"/>
<path d="M 2 0 L -2 -0 
" transform="translate(250.06 255.53)" style="fill: #1f77b4; stroke: #000000; stroke: #000000"/>
<path d="M 2 0 L -2 -0 
" transform="translate(265.06 255.72)" style="fill: #1f77b4; stroke: #000000; stroke: #000000"/>
<path d="M 2 0 L -2 -0 
" transform="translate(280.05 256.17)" style="fill: #1f77b4; stroke: #000000; stroke: #000000"/>
<path d="M 2 0 L -2 -0 
" transform="translate(295.05 256.9)" style="fill: #1f77b4; stroke: #000000; stroke: #000000"/>
<path d="M 2 0 L -2 -0 
" transform="translate(310.05 259)" style="fill: #1f77b4; stroke: #000000; stroke: #000000"/>
<path d="M 2 0 L -2 -0 
" transform="translate(325.04 261.56)" style="fill: #1f77b4; stroke: #000000; stroke: #000000"/>
<path d="M 2 0 L -2 -0 
" transform="translate(340.04 261.83)" style="fill: #1f77b4; stroke: #000000; stroke: #000000"/>
<path d="M 2 0 L -2 -0 
" transform="translate(355.03 261.83)" style="fill: #1f77b4; stroke: #000000; stroke: #000000"/>
<path d="M 2 0 L -2 -0 
" transform="translate(370.03 261.83)" style="fill: #1f77b4; stroke: #000000; stroke: #000000"/>
<path d="M 2 0 L -2 -0 
" transform="translate(385.03 261.83)" style="fill: #1f77b4; stroke: #000000; stroke: #000000"/>
<path d="M 2 0 L -2 -0 
" transform="translate(400.02 261.83)" style="fill: #1f77b4; stroke: #000000; stroke: #000000"/>
</g>
</g>
<g id="line2d_64">
<g clip-path="url(#p6e61939190)">
<path d="M 2 0 L -2 -0 
" transform="translate(55.11 261.28)" style="fill: #1f77b4; stroke: #000000; stroke: #000000"/>
<path d="M 2 0 L -2 -0 
" transform="translate(70.11 261.28)" style="fill: #1f77b4; stroke: #000000; stroke: #000000"/>
<path d="M 2 0 L -2 -0 
" transform="translate(85.1 261.28)" style="fill: #1f77b4; stroke: #000000; stroke: #000000"/>
<path d="M 2 0 L -2 -0 
" transform="translate(100.1 261.28)" style="fill: #1f77b4; stroke: #000000; stroke: #000000"/>
<path d="M 2 0 L -2 -0 
" transform="translate(115.09 261.28)" style="fill: #1f77b4; stroke: #000000; stroke: #000000"/>
<path d="M 2 0 L -2 -0 
" transform="translate(130.09 261.28)" style="fill: #1f77b4; stroke: #000000; stroke: #000000"/>
<path d="M 2 0 L -2 -0 
" transform="translate(145.09 261.74)" style="fill: #1f77b4; stroke: #000000; stroke: #000000"/>
<path d="M 2 0 L -2 -0 
" transform="translate(160.08 262.74)" style="fill: #1f77b4; stroke: #000000; stroke: #000000"/>
<path d="M 2 0 L -2 -0 
" transform="translate(175.08 260.55)" style="fill: #1f77b4; stroke: #000000; stroke: #000000"/>
<path d="M 2 0 L -2 -0 
" transform="translate(190.08 257.45)" style="fill: #1f77b4; stroke: #000000; stroke: #000000"/>
<path d="M 2 0 L -2 -0 
" transform="translate(205.07 254.99)" style="fill: #1f77b4; stroke: #000000; stroke: #000000"/>
<path d="M 2 0 L -2 -0 
" transform="translate(220.07 252.71)" style="fill: #1f77b4; stroke: #000000; stroke: #000000"/>
<path d="M 2 0 L -2 -0 
" transform="translate(235.06 251.97)" style="fill: #1f77b4; stroke: #000000; stroke: #000000"/>
<path d="M 2 0 L -2 -0 
" transform="translate(250.06 252.25)" style="fill: #1f77b4; stroke: #000000; stroke: #000000"/>
<path d="M 2 0 L -2 -0 
" transform="translate(265.06 252.98)" style="fill: #1f77b4; stroke: #000000; stroke: #000000"/>
<path d="M 2 0 L -2 -0 
" transform="translate(280.05 253.98)" style="fill: #1f77b4; stroke: #000000; stroke: #000000"/>
<path d="M 2 0 L -2 -0 
" transform="translate(295.05 255.08)" style="fill: #1f77b4; stroke: #000000; stroke: #000000"/>
<path d="M 2 0 L -2 -0 
" transform="translate(310.05 258.27)" style="fill: #1f77b4; stroke: #000000; stroke: #000000"/>
<path d="M 2 0 L -2 -0 
" transform="translate(325.04 261.01)" style="fill: #1f77b4; stroke: #000000; stroke: #000000"/>
<path d="M 2 0 L -2 -0 
" transform="translate(340.04 261.28)" style="fill: #1f77b4; stroke: #000000; stroke: #000000"/>
<path d="M 2 0 L -2 -0 
" transform="translate(355.03 261.28)" style="fill: #1f77b4; stroke: #000000; stroke: #000000"/>
<path d="M 2 0 L -2 -0 
" transform="translate(370.03 261.28)" style="fill: #1f77b4; stroke: #000000; stroke: #000000"/>
<path d="M 2 0 L -2 -0 
" transform="translate(385.03 261.28)" style="fill: #1f77b4; stroke: #000000; stroke: #000000"/>
<path d="M 2 0 L -2 -0 
" transform="translate(400.02 261.28)" style="fill: #1f77b4; stroke: #000000; stroke: #000000"/>
</g>
</g>
<g id="LineCollection_23">
<path d="M 211.07 254.71 L 211.07 253.62 
" clip-path="url(#p6e61939190)" style="fill: none; stroke: #6a6a6a; stroke-width: 0.45"/>
<path d="M 226.07 253.71 L 226.07 252.43 
" clip-path="url(#p6e61939190)" style="fill: none; stroke: #6a6a6a; stroke-width: 0.45"/>
<path d="M 241.06 253.71 L 241.06 252.07 
" clip-path="url(#p6e61939190)" style="fill: none; stroke: #6a6a6a; stroke-width: 0.45"/>
<path d="M 256.06 254.62 L 256.06 252.98 
" clip-path="url(#p6e61939190)" style="fill: none; stroke: #6a6a6a; stroke-width: 0.45"/>
<path d="M 271.05 255.67 L 271.05 254.48 
" clip-path="url(#p6e61939190)" style="fill: none; stroke: #6a6a6a; stroke-width: 0.45"/>
<path d="M 286.05 257.81 L 286.05 256.9 
" clip-path="url(#p6e61939190)" style="fill: none; stroke: #6a6a6a; stroke-width: 0.45"/>
</g>
<g id="LineCollection_24">
<path d="M 61.11 263.02 L 61.11 262.47 
" clip-path="url(#p6e61939190)" style="fill: none"/>
<path d="M 76.1 263.02 L 76.1 262.47 
" clip-path="url(#p6e61939190)" style="fill: none"/>
<path d="M 91.1 263.02 L 91.1 262.47 
" clip-path="url(#p6e61939190)" style="fill: none"/>
<path d="M 106.1 263.02 L 106.1 262.47 
" clip-path="url(#p6e61939190)" style="fill: none"/>
<path d="M 121.09 263.02 L 121.09 262.47 
" clip-path="url(#p6e61939190)" style="fill: none"/>
<path d="M 136.09 263.02 L 136.09 262.47 
" clip-path="url(#p6e61939190)" style="fill: none"/>
<path d="M 151.08 262.74 L 151.08 262.19 
" clip-path="url(#p6e61939190)" style="fill: none"/>
<path d="M 166.08 260.55 L 166.08 260 
" clip-path="url(#p6e61939190)" style="fill: none"/>
<path d="M 181.08 258.18 L 181.08 257.63 
" clip-path="url(#p6e61939190)" style="fill: none"/>
<path d="M 196.07 255.99 L 196.07 255.26 
" clip-path="url(#p6e61939190)" style="fill: none"/>
<path d="M 211.07 254.71 L 211.07 253.62 
" clip-path="url(#p6e61939190)" style="fill: none"/>
<path d="M 226.07 253.71 L 226.07 252.43 
" clip-path="url(#p6e61939190)" style="fill: none"/>
<path d="M 241.06 253.71 L 241.06 252.07 
" clip-path="url(#p6e61939190)" style="fill: none"/>
<path d="M 256.06 254.62 L 256.06 252.98 
" clip-path="url(#p6e61939190)" style="fill: none"/>
<path d="M 271.05 255.67 L 271.05 254.48 
" clip-path="url(#p6e61939190)" style="fill: none"/>
<path d="M 286.05 257.81 L 286.05 256.9 
" clip-path="url(#p6e61939190)" style="fill: none"/>
<path d="M 301.05 259.82 L 301.05 259.27 
" clip-path="url(#p6e61939190)" style="fill: none"/>
<path d="M 316.04 262.38 L 316.04 261.83 
" clip-path="url(#p6e61939190)" style="fill: none"/>
<path d="M 331.04 263.02 L 331.04 262.47 
" clip-path="url(#p6e61939190)" style="fill: none"/>
<path d="M 346.04 263.02 L 346.04 262.47 
" clip-path="url(#p6e61939190)" style="fill: none"/>
<path d="M 361.03 263.02 L 361.03 262.47 
" clip-path="url(#p6e61939190)" style="fill: none"/>
<path d="M 376.03 263.02 L 376.03 262.47 
" clip-path="url(#p6e61939190)" style="fill: none"/>
<path d="M 391.02 263.02 L 391.02 262.47 
" clip-path="url(#p6e61939190)" style="fill: none"/>
<path d="M 406.02 263.02 L 406.02 262.47 
" clip-path="url(#p6e61939190)" style="fill: none"/>
</g>
<g id="line2d_65">
<g clip-path="url(#p6e61939190)">
<path d="M 2 0 L -2 -0 
" transform="translate(61.11 263.02)" style="fill: #1f77b4; stroke: #000000; stroke: #000000"/>
<path d="M 2 0 L -2 -0 
" transform="translate(76.1 263.02)" style="fill: #1f77b4; stroke: #000000; stroke: #000000"/>
<path d="M 2 0 L -2 -0 
" transform="translate(91.1 263.02)" style="fill: #1f77b4; stroke: #000000; stroke: #000000"/>
<path d="M 2 0 L -2 -0 
" transform="translate(106.1 263.02)" style="fill: #1f77b4; stroke: #000000; stroke: #000000"/>
<path d="M 2 0 L -2 -0 
" transform="translate(121.09 263.02)" style="fill: #1f77b4; stroke: #000000; stroke: #000000"/>
<path d="M 2 0 L -2 -0 
" transform="translate(136.09 263.02)" style="fill: #1f77b4; stroke: #000000; stroke: #000000"/>
<path d="M 2 0 L -2 -0 
" transform="translate(151.08 262.74)" style="fill: #1f77b4; stroke: #000000; stroke: #000000"/>
<path d="M 2 0 L -2 -0 
" transform="translate(166.08 260.55)" style="fill: #1f77b4; stroke: #000000; stroke: #000000"/>
<path d="M 2 0 L -2 -0 
" transform="translate(181.08 258.18)" style="fill: #1f77b4; stroke: #000000; stroke: #000000"/>
<path d="M 2 0 L -2 -0 
" transform="translate(196.07 255.99)" style="fill: #1f77b4; stroke: #000000; stroke: #000000"/>
<path d="M 2 0 L -2 -0 
" transform="translate(211.07 254.71)" style="fill: #1f77b4; stroke: #000000; stroke: #000000"/>
<path d="M 2 0 L -2 -0 
" transform="translate(226.07 253.71)" style="fill: #1f77b4; stroke: #000000; stroke: #000000"/>
<path d="M 2 0 L -2 -0 
" transform="translate(241.06 253.71)" style="fill: #1f77b4; stroke: #000000; stroke: #000000"/>
<path d="M 2 0 L -2 -0 
" transform="translate(256.06 254.62)" style="fill: #1f77b4; stroke: #000000; stroke: #000000"/>
<path d="M 2 0 L -2 -0 
" transform="translate(271.05 255.67)" style="fill: #1f77b4; stroke: #000000; stroke: #000000"/>
<path d="M 2 0 L -2 -0 
" transform="translate(286.05 257.81)" style="fill: #1f77b4; stroke: #000000; stroke: #000000"/>
<path d="M 2 0 L -2 -0 
" transform="translate(301.05 259.82)" style="fill: #1f77b4; stroke: #000000; stroke: #000000"/>
<path d="M 2 0 L -2 -0 
" transform="translate(316.04 262.38)" style="fill: #1f77b4; stroke: #000000; stroke: #000000"/>
<path d="M 2 0 L -2 -0 
" transform="translate(331.04 263.02)" style="fill: #1f77b4; stroke: #000000; stroke: #000000"/>
<path d="M 2 0 L -2 -0 
" transform="translate(346.04 263.02)" style="fill: #1f77b4; stroke: #000000; stroke: #000000"/>
<path d="M 2 0 L -2 -0 
" transform="translate(361.03 263.02)" style="fill: #1f77b4; stroke: #000000; stroke: #000000"/>
<path d="M 2 0 L -2 -0 
" transform="translate(376.03 263.02)" style="fill: #1f77b4; stroke: #000000; stroke: #000000"/>
<path d="M 2 0 L -2 -0 
" transform="translate(391.02 263.02)" style="fill: #1f77b4; stroke: #000000; stroke: #000000"/>
<path d="M 2 0 L -2 -0 
" transform="translate(406.02 263.02)" style="fill: #1f77b4; stroke: #000000; stroke: #000000"/>
</g>
</g>
<g id="line2d_66">
<g clip-path="url(#p6e61939190)">
<path d="M 2 0 L -2 -0 
" transform="translate(61.11 262.47)" style="fill: #1f77b4; stroke: #000000; stroke: #000000"/>
<path d="M 2 0 L -2 -0 
" transform="translate(76.1 262.47)" style="fill: #1f77b4; stroke: #000000; stroke: #000000"/>
<path d="M 2 0 L -2 -0 
" transform="translate(91.1 262.47)" style="fill: #1f77b4; stroke: #000000; stroke: #000000"/>
<path d="M 2 0 L -2 -0 
" transform="translate(106.1 262.47)" style="fill: #1f77b4; stroke: #000000; stroke: #000000"/>
<path d="M 2 0 L -2 -0 
" transform="translate(121.09 262.47)" style="fill: #1f77b4; stroke: #000000; stroke: #000000"/>
<path d="M 2 0 L -2 -0 
" transform="translate(136.09 262.47)" style="fill: #1f77b4; stroke: #000000; stroke: #000000"/>
<path d="M 2 0 L -2 -0 
" transform="translate(151.08 262.19)" style="fill: #1f77b4; stroke: #000000; stroke: #000000"/>
<path d="M 2 0 L -2 -0 
" transform="translate(166.08 260)" style="fill: #1f77b4; stroke: #000000; stroke: #000000"/>
<path d="M 2 0 L -2 -0 
" transform="translate(181.08 257.63)" style="fill: #1f77b4; stroke: #000000; stroke: #000000"/>
<path d="M 2 0 L -2 -0 
" transform="translate(196.07 255.26)" style="fill: #1f77b4; stroke: #000000; stroke: #000000"/>
<path d="M 2 0 L -2 -0 
" transform="translate(211.07 253.62)" style="fill: #1f77b4; stroke: #000000; stroke: #000000"/>
<path d="M 2 0 L -2 -0 
" transform="translate(226.07 252.43)" style="fill: #1f77b4; stroke: #000000; stroke: #000000"/>
<path d="M 2 0 L -2 -0 
" transform="translate(241.06 252.07)" style="fill: #1f77b4; stroke: #000000; stroke: #000000"/>
<path d="M 2 0 L -2 -0 
" transform="translate(256.06 252.98)" style="fill: #1f77b4; stroke: #000000; stroke: #000000"/>
<path d="M 2 0 L -2 -0 
" transform="translate(271.05 254.48)" style="fill: #1f77b4; stroke: #000000; stroke: #000000"/>
<path d="M 2 0 L -2 -0 
" transform="translate(286.05 256.9)" style="fill: #1f77b4; stroke: #000000; stroke: #000000"/>
<path d="M 2 0 L -2 -0 
" transform="translate(301.05 259.27)" style="fill: #1f77b4; stroke: #000000; stroke: #000000"/>
<path d="M 2 0 L -2 -0 
" transform="translate(316.04 261.83)" style="fill: #1f77b4; stroke: #000000; stroke: #000000"/>
<path d="M 2 0 L -2 -0 
" transform="translate(331.04 262.47)" style="fill: #1f77b4; stroke: #000000; stroke: #000000"/>
<path d="M 2 0 L -2 -0 
" transform="translate(346.04 262.47)" style="fill: #1f77b4; stroke: #000000; stroke: #000000"/>
<path d="M 2 0 L -2 -0 
" transform="translate(361.03 262.47)" style="fill: #1f77b4; stroke: #000000; stroke: #000000"/>
<path d="M 2 0 L -2 -0 
" transform="translate(376.03 262.47)" style="fill: #1f77b4; stroke: #000000; stroke: #000000"/>
<path d="M 2 0 L -2 -0 
" transform="translate(391.02 262.47)" style="fill: #1f77b4; stroke: #000000; stroke: #000000"/>
<path d="M 2 0 L -2 -0 
" transform="translate(406.02 262.47)" style="fill: #1f77b4; stroke: #000000; stroke: #000000"/>
</g>
</g>
<g id="patch_316">
<path d="M 50.61 295.41 L 50.61 250.51 
" style="fill: none; stroke: #000000; stroke-width: 0.8; stroke-linejoin: miter; stroke-linecap: square"/>
</g>
<g id="patch_317">
<path d="M 410.52 295.41 L 410.52 250.51 
" style="fill: none; stroke: #000000; stroke-width: 0.8; stroke-linejoin: miter; stroke-linecap: square"/>
</g>
<g id="patch_318">
<path d="M 50.61 295.41 L 410.52 295.41 
" style="fill: none; stroke: #000000; stroke-width: 0.8; stroke-linejoin: miter; stroke-linecap: square"/>
</g>
<g id="patch_319">
<path d="M 50.61 250.51 L 410.52 250.51 
" style="fill: none; stroke: #000000; stroke-width: 0.8; stroke-linejoin: miter; stroke-linecap: square"/>
</g>
</g>
<g id="axes_7">
<g id="patch_320">
<path d="M 50.61 340.31 L 410.52 340.31 L 410.52 295.41 L 50.61 295.41 z
" style="fill: #ffffff"/>
</g>
<g id="patch_321">
<path d="M 52.11 307.36 L 58.11 307.36 L 58.11 309.83 L 52.11 309.83 z
" clip-path="url(#p25fe2cb7e5)" style="fill: #cd853f"/>
</g>
<g id="patch_322">
<path d="M 67.11 307.36 L 73.1 307.36 L 73.1 309.74 L 67.11 309.74 z
" clip-path="url(#p25fe2cb7e5)" style="fill: #cd853f"/>
</g>
<g id="patch_323">
<path d="M 82.1 307.36 L 88.1 307.36 L 88.1 309.64 L 82.1 309.64 z
" clip-path="url(#p25fe2cb7e5)" style="fill: #cd853f"/>
</g>
<g id="patch_324">
<path d="M 97.1 307.36 L 103.1 307.36 L 103.1 309.64 L 97.1 309.64 z
" clip-path="url(#p25fe2cb7e5)" style="fill: #cd853f"/>
</g>
<g id="patch_325">
<path d="M 112.09 307.36 L 118.09 307.36 L 118.09 309.55 L 112.09 309.55 z
" clip-path="url(#p25fe2cb7e5)" style="fill: #cd853f"/>
</g>
<g id="patch_326">
<path d="M 127.09 307.36 L 133.09 307.36 L 133.09 309.46 L 127.09 309.46 z
" clip-path="url(#p25fe2cb7e5)" style="fill: #cd853f"/>
</g>
<g id="patch_327">
<path d="M 142.09 307.36 L 148.09 307.36 L 148.09 309.74 L 142.09 309.74 z
" clip-path="url(#p25fe2cb7e5)" style="fill: #cd853f"/>
</g>
<g id="patch_328">
<path d="M 157.08 307.36 L 163.08 307.36 L 163.08 313.39 L 157.08 313.39 z
" clip-path="url(#p25fe2cb7e5)" style="fill: #cd853f"/>
</g>
<g id="patch_329">
<path d="M 172.08 307.36 L 178.08 307.36 L 178.08 319.96 L 172.08 319.96 z
" clip-path="url(#p25fe2cb7e5)" style="fill: #cd853f"/>
</g>
<g id="patch_330">
<path d="M 187.08 307.36 L 193.07 307.36 L 193.07 327.26 L 187.08 327.26 z
" clip-path="url(#p25fe2cb7e5)" style="fill: #cd853f"/>
</g>
<g id="patch_331">
<path d="M 202.07 307.36 L 208.07 307.36 L 208.07 332.46 L 202.07 332.46 z
" clip-path="url(#p25fe2cb7e5)" style="fill: #cd853f"/>
</g>
<g id="patch_332">
<path d="M 217.07 307.36 L 223.07 307.36 L 223.07 336.11 L 217.07 336.11 z
" clip-path="url(#p25fe2cb7e5)" style="fill: #cd853f"/>
</g>
<g id="patch_333">
<path d="M 232.06 307.36 L 238.06 307.36 L 238.06 336.47 L 232.06 336.47 z
" clip-path="url(#p25fe2cb7e5)" style="fill: #cd853f"/>
</g>
<g id="patch_334">
<path d="M 247.06 307.36 L 253.06 307.36 L 253.06 335.01 L 247.06 335.01 z
" clip-path="url(#p25fe2cb7e5)" style="fill: #cd853f"/>
</g>
<g id="patch_335">
<path d="M 262.06 307.36 L 268.06 307.36 L 268.06 331.82 L 262.06 331.82 z
" clip-path="url(#p25fe2cb7e5)" style="fill: #cd853f"/>
</g>
<g id="patch_336">
<path d="M 277.05 307.36 L 283.05 307.36 L 283.05 326.8 L 277.05 326.8 z
" clip-path="url(#p25fe2cb7e5)" style="fill: #cd853f"/>
</g>
<g id="patch_337">
<path d="M 292.05 307.36 L 298.05 307.36 L 298.05 320.69 L 292.05 320.69 z
" clip-path="url(#p25fe2cb7e5)" style="fill: #cd853f"/>
</g>
<g id="patch_338">
<path d="M 307.05 307.36 L 313.04 307.36 L 313.04 314.39 L 307.05 314.39 z
" clip-path="url(#p25fe2cb7e5)" style="fill: #cd853f"/>
</g>
<g id="patch_339">
<path d="M 322.04 307.36 L 328.04 307.36 L 328.04 310.83 L 322.04 310.83 z
" clip-path="url(#p25fe2cb7e5)" style="fill: #cd853f"/>
</g>
<g id="patch_340">
<path d="M 337.04 307.36 L 343.04 307.36 L 343.04 310.65 L 337.04 310.65 z
" clip-path="url(#p25fe2cb7e5)" style="fill: #cd853f"/>
</g>
<g id="patch_341">
<path d="M 352.03 307.36 L 358.03 307.36 L 358.03 310.47 L 352.03 310.47 z
" clip-path="url(#p25fe2cb7e5)" style="fill: #cd853f"/>
</g>
<g id="patch_342">
<path d="M 367.03 307.36 L 373.03 307.36 L 373.03 310.28 L 367.03 310.28 z
" clip-path="url(#p25fe2cb7e5)" style="fill: #cd853f"/>
</g>
<g id="patch_343">
<path d="M 382.03 307.36 L 388.03 307.36 L 388.03 310.1 L 382.03 310.1 z
" clip-path="url(#p25fe2cb7e5)" style="fill: #cd853f"/>
</g>
<g id="patch_344">
<path d="M 397.02 307.36 L 403.02 307.36 L 403.02 309.92 L 397.02 309.92 z
" clip-path="url(#p25fe2cb7e5)" style="fill: #cd853f"/>
</g>
<g id="patch_345">
<path d="M 58.11 307.36 L 64.11 307.36 L 64.11 307.73 L 58.11 307.73 z
" clip-path="url(#p25fe2cb7e5)" style="fill: #20b2aa"/>
</g>
<g id="patch_346">
<path d="M 73.1 307.36 L 79.1 307.36 L 79.1 307.73 L 73.1 307.73 z
" clip-path="url(#p25fe2cb7e5)" style="fill: #20b2aa"/>
</g>
<g id="patch_347">
<path d="M 88.1 307.36 L 94.1 307.36 L 94.1 307.73 L 88.1 307.73 z
" clip-path="url(#p25fe2cb7e5)" style="fill: #20b2aa"/>
</g>
<g id="patch_348">
<path d="M 103.1 307.36 L 109.1 307.36 L 109.1 307.73 L 103.1 307.73 z
" clip-path="url(#p25fe2cb7e5)" style="fill: #20b2aa"/>
</g>
<g id="patch_349">
<path d="M 118.09 307.36 L 124.09 307.36 L 124.09 307.73 L 118.09 307.73 z
" clip-path="url(#p25fe2cb7e5)" style="fill: #20b2aa"/>
</g>
<g id="patch_350">
<path d="M 133.09 307.36 L 139.09 307.36 L 139.09 307.73 L 133.09 307.73 z
" clip-path="url(#p25fe2cb7e5)" style="fill: #20b2aa"/>
</g>
<g id="patch_351">
<path d="M 148.09 307.36 L 154.08 307.36 L 154.08 307.36 L 148.09 307.36 z
" clip-path="url(#p25fe2cb7e5)" style="fill: #20b2aa"/>
</g>
<g id="patch_352">
<path d="M 163.08 307.36 L 169.08 307.36 L 169.08 307.64 L 163.08 307.64 z
" clip-path="url(#p25fe2cb7e5)" style="fill: #20b2aa"/>
</g>
<g id="patch_353">
<path d="M 178.08 307.36 L 184.08 307.36 L 184.08 307.82 L 178.08 307.82 z
" clip-path="url(#p25fe2cb7e5)" style="fill: #20b2aa"/>
</g>
<g id="patch_354">
<path d="M 193.07 307.36 L 199.07 307.36 L 199.07 308.73 L 193.07 308.73 z
" clip-path="url(#p25fe2cb7e5)" style="fill: #20b2aa"/>
</g>
<g id="patch_355">
<path d="M 208.07 307.36 L 214.07 307.36 L 214.07 308.73 L 208.07 308.73 z
" clip-path="url(#p25fe2cb7e5)" style="fill: #20b2aa"/>
</g>
<g id="patch_356">
<path d="M 223.07 307.36 L 229.07 307.36 L 229.07 309.01 L 223.07 309.01 z
" clip-path="url(#p25fe2cb7e5)" style="fill: #20b2aa"/>
</g>
<g id="patch_357">
<path d="M 238.06 307.36 L 244.06 307.36 L 244.06 308.73 L 238.06 308.73 z
" clip-path="url(#p25fe2cb7e5)" style="fill: #20b2aa"/>
</g>
<g id="patch_358">
<path d="M 253.06 307.36 L 259.06 307.36 L 259.06 308.37 L 253.06 308.37 z
" clip-path="url(#p25fe2cb7e5)" style="fill: #20b2aa"/>
</g>
<g id="patch_359">
<path d="M 268.06 307.36 L 274.05 307.36 L 274.05 307.82 L 268.06 307.82 z
" clip-path="url(#p25fe2cb7e5)" style="fill: #20b2aa"/>
</g>
<g id="patch_360">
<path d="M 283.05 307.36 L 289.05 307.36 L 289.05 307.27 L 283.05 307.27 z
" clip-path="url(#p25fe2cb7e5)" style="fill: #20b2aa"/>
</g>
<g id="patch_361">
<path d="M 298.05 307.36 L 304.05 307.36 L 304.05 307 L 298.05 307 z
" clip-path="url(#p25fe2cb7e5)" style="fill: #20b2aa"/>
</g>
<g id="patch_362">
<path d="M 313.04 307.36 L 319.04 307.36 L 319.04 307.18 L 313.04 307.18 z
" clip-path="url(#p25fe2cb7e5)" style="fill: #20b2aa"/>
</g>
<g id="patch_363">
<path d="M 328.04 307.36 L 334.04 307.36 L 334.04 307.73 L 328.04 307.73 z
" clip-path="url(#p25fe2cb7e5)" style="fill: #20b2aa"/>
</g>
<g id="patch_364">
<path d="M 343.04 307.36 L 349.04 307.36 L 349.04 307.73 L 343.04 307.73 z
" clip-path="url(#p25fe2cb7e5)" style="fill: #20b2aa"/>
</g>
<g id="patch_365">
<path d="M 358.03 307.36 L 364.03 307.36 L 364.03 307.73 L 358.03 307.73 z
" clip-path="url(#p25fe2cb7e5)" style="fill: #20b2aa"/>
</g>
<g id="patch_366">
<path d="M 373.03 307.36 L 379.03 307.36 L 379.03 307.73 L 373.03 307.73 z
" clip-path="url(#p25fe2cb7e5)" style="fill: #20b2aa"/>
</g>
<g id="patch_367">
<path d="M 388.03 307.36 L 394.02 307.36 L 394.02 307.73 L 388.03 307.73 z
" clip-path="url(#p25fe2cb7e5)" style="fill: #20b2aa"/>
</g>
<g id="patch_368">
<path d="M 403.02 307.36 L 409.02 307.36 L 409.02 307.73 L 403.02 307.73 z
" clip-path="url(#p25fe2cb7e5)" style="fill: #20b2aa"/>
</g>
<g id="matplotlib.axis_13">
<g id="xtick_25">
<g id="line2d_67">
<g>
<path d="M 0 0 L 0 3.5 
" transform="translate(58.11 340.31)" style="stroke: #000000; stroke-width: 0.8; stroke: #000000; stroke-width: 0.8"/>
</g>
</g>
</g>
<g id="xtick_26">
<g id="line2d_68">
<g>
<path d="M 0 0 L 0 3.5 
" transform="translate(148.09 340.31)" style="stroke: #000000; stroke-width: 0.8; stroke: #000000; stroke-width: 0.8"/>
</g>
</g>
</g>
<g id="xtick_27">
<g id="line2d_69">
<g>
<path d="M 0 0 L 0 3.5 
" transform="translate(238.06 340.31)" style="stroke: #000000; stroke-width: 0.8; stroke: #000000; stroke-width: 0.8"/>
</g>
</g>
</g>
<g id="xtick_28">
<g id="line2d_70">
<g>
<path d="M 0 0 L 0 3.5 
" transform="translate(328.04 340.31)" style="stroke: #000000; stroke-width: 0.8; stroke: #000000; stroke-width: 0.8"/>
</g>
</g>
</g>
</g>
<g id="matplotlib.axis_14">
<g id="ytick_13">
<g id="line2d_71">
<g>
<path d="M 0 0 L -3.5 0 
" transform="translate(50.61 307.36)" style="stroke: #000000; stroke-width: 0.8; stroke: #000000; stroke-width: 0.8"/>
</g>
</g>
<g id="text_19">
<text style="font-size: 10px; font-family: 'DejaVu Sans', sans-serif; text-anchor: end" x="43.61" y="311.16" transform="rotate(-0 43.61 311.16)">0</text>
</g>
</g>
<g id="ytick_14">
<g id="line2d_72">
<g>
<path d="M 0 0 L -3.5 0 
" transform="translate(50.61 325.61)" style="stroke: #000000; stroke-width: 0.8; stroke: #000000; stroke-width: 0.8"/>
</g>
</g>
<g id="text_20">
<text style="font-size: 10px; font-family: 'DejaVu Sans', sans-serif; text-anchor: end" x="43.61" y="329.41" transform="rotate(-0 43.61 329.41)">−2</text>
</g>
</g>
<g id="text_21">
<g transform="translate(10.46 331.81) rotate(-90)">
<text>
<tspan x="0" y="-0.7" style="font-size: 10px; font-family: 'DejaVu Sans', sans-serif">B</tspan>
<tspan x="6.86" y="-0.7" style="font-size: 10px; font-family: 'DejaVu Sans', sans-serif">y</tspan>
<tspan x="12.78" y="-0.7" style="font-size: 10px; font-family: 'DejaVu Sans', sans-serif"> </tspan>
<tspan x="15.96" y="-0.7" style="font-style: oblique; font-size: 10px; font-family: 'DejaVu Sans', sans-serif">L</tspan>
<tspan x="21.53" y="-0.7" style="font-style: oblique; font-size: 10px; font-family: 'DejaVu Sans', sans-serif">E</tspan>
</text>
</g>
<text style="font-size: 10px; font-family: 'DejaVu Sans', sans-serif" transform="translate(22.14 324.65) rotate(-90)">(k)</text>
</g>
</g>
<g id="line2d_73">
<path d="M 50.61 307.36 L 410.52 307.36 
" clip-path="url(#p25fe2cb7e5)" style="fill: none; stroke-dasharray: 2.96,1.28; stroke-dashoffset: 0; stroke: #808080; stroke-width: 0.8"/>
</g>
<g id="LineCollection_25">
<path d="M 160.08 314.12 L 160.08 312.66 
" clip-path="url(#p25fe2cb7e5)" style="fill: none; stroke: #6a6a6a; stroke-width: 0.45"/>
<path d="M 175.08 321.51 L 175.08 318.4 
" clip-path="url(#p25fe2cb7e5)" style="fill: none; stroke: #6a6a6a; stroke-width: 0.45"/>
<path d="M 190.08 329.54 L 190.08 324.98 
" clip-path="url(#p25fe2cb7e5)" style="fill: none; stroke: #6a6a6a; stroke-width: 0.45"/>
<path d="M 205.07 335.29 L 205.07 329.63 
" clip-path="url(#p25fe2cb7e5)" style="fill: none; stroke: #6a6a6a; stroke-width: 0.45"/>
<path d="M 220.07 339.3 L 220.07 332.91 
" clip-path="url(#p25fe2cb7e5)" style="fill: none; stroke: #6a6a6a; stroke-width: 0.45"/>
<path d="M 235.06 339.71 L 235.06 333.23 
" clip-path="url(#p25fe2cb7e5)" style="fill: none; stroke: #6a6a6a; stroke-width: 0.45"/>
<path d="M 250.06 337.84 L 250.06 332.18 
" clip-path="url(#p25fe2cb7e5)" style="fill: none; stroke: #6a6a6a; stroke-width: 0.45"/>
<path d="M 265.06 334.46 L 265.06 329.17 
" clip-path="url(#p25fe2cb7e5)" style="fill: none; stroke: #6a6a6a; stroke-width: 0.45"/>
<path d="M 280.05 328.9 L 280.05 324.7 
" clip-path="url(#p25fe2cb7e5)" style="fill: none; stroke: #6a6a6a; stroke-width: 0.45"/>
<path d="M 295.05 322.24 L 295.05 319.13 
" clip-path="url(#p25fe2cb7e5)" style="fill: none; stroke: #6a6a6a; stroke-width: 0.45"/>
<path d="M 310.05 315.49 L 310.05 313.3 
" clip-path="url(#p25fe2cb7e5)" style="fill: none; stroke: #6a6a6a; stroke-width: 0.45"/>
</g>
<g id="LineCollection_26">
<path d="M 55.11 310.1 L 55.11 309.55 
" clip-path="url(#p25fe2cb7e5)" style="fill: none"/>
<path d="M 70.11 310.01 L 70.11 309.46 
" clip-path="url(#p25fe2cb7e5)" style="fill: none"/>
<path d="M 85.1 309.92 L 85.1 309.37 
" clip-path="url(#p25fe2cb7e5)" style="fill: none"/>
<path d="M 100.1 309.92 L 100.1 309.37 
" clip-path="url(#p25fe2cb7e5)" style="fill: none"/>
<path d="M 115.09 309.83 L 115.09 309.28 
" clip-path="url(#p25fe2cb7e5)" style="fill: none"/>
<path d="M 130.09 309.74 L 130.09 309.19 
" clip-path="url(#p25fe2cb7e5)" style="fill: none"/>
<path d="M 145.09 310.01 L 145.09 309.46 
" clip-path="url(#p25fe2cb7e5)" style="fill: none"/>
<path d="M 160.08 314.12 L 160.08 312.66 
" clip-path="url(#p25fe2cb7e5)" style="fill: none"/>
<path d="M 175.08 321.51 L 175.08 318.4 
" clip-path="url(#p25fe2cb7e5)" style="fill: none"/>
<path d="M 190.08 329.54 L 190.08 324.98 
" clip-path="url(#p25fe2cb7e5)" style="fill: none"/>
<path d="M 205.07 335.29 L 205.07 329.63 
" clip-path="url(#p25fe2cb7e5)" style="fill: none"/>
<path d="M 220.07 339.3 L 220.07 332.91 
" clip-path="url(#p25fe2cb7e5)" style="fill: none"/>
<path d="M 235.06 339.71 L 235.06 333.23 
" clip-path="url(#p25fe2cb7e5)" style="fill: none"/>
<path d="M 250.06 337.84 L 250.06 332.18 
" clip-path="url(#p25fe2cb7e5)" style="fill: none"/>
<path d="M 265.06 334.46 L 265.06 329.17 
" clip-path="url(#p25fe2cb7e5)" style="fill: none"/>
<path d="M 280.05 328.9 L 280.05 324.7 
" clip-path="url(#p25fe2cb7e5)" style="fill: none"/>
<path d="M 295.05 322.24 L 295.05 319.13 
" clip-path="url(#p25fe2cb7e5)" style="fill: none"/>
<path d="M 310.05 315.49 L 310.05 313.3 
" clip-path="url(#p25fe2cb7e5)" style="fill: none"/>
<path d="M 325.04 311.2 L 325.04 310.47 
" clip-path="url(#p25fe2cb7e5)" style="fill: none"/>
<path d="M 340.04 310.92 L 340.04 310.38 
" clip-path="url(#p25fe2cb7e5)" style="fill: none"/>
<path d="M 355.03 310.74 L 355.03 310.19 
" clip-path="url(#p25fe2cb7e5)" style="fill: none"/>
<path d="M 370.03 310.56 L 370.03 310.01 
" clip-path="url(#p25fe2cb7e5)" style="fill: none"/>
<path d="M 385.03 310.38 L 385.03 309.83 
" clip-path="url(#p25fe2cb7e5)" style="fill: none"/>
<path d="M 400.02 310.19 L 400.02 309.64 
" clip-path="url(#p25fe2cb7e5)" style="fill: none"/>
</g>
<g id="line2d_74">
<g clip-path="url(#p25fe2cb7e5)">
<path d="M 2 0 L -2 -0 
" transform="translate(55.11 310.1)" style="fill: #1f77b4; stroke: #000000; stroke: #000000"/>
<path d="M 2 0 L -2 -0 
" transform="translate(70.11 310.01)" style="fill: #1f77b4; stroke: #000000; stroke: #000000"/>
<path d="M 2 0 L -2 -0 
" transform="translate(85.1 309.92)" style="fill: #1f77b4; stroke: #000000; stroke: #000000"/>
<path d="M 2 0 L -2 -0 
" transform="translate(100.1 309.92)" style="fill: #1f77b4; stroke: #000000; stroke: #000000"/>
<path d="M 2 0 L -2 -0 
" transform="translate(115.09 309.83)" style="fill: #1f77b4; stroke: #000000; stroke: #000000"/>
<path d="M 2 0 L -2 -0 
" transform="translate(130.09 309.74)" style="fill: #1f77b4; stroke: #000000; stroke: #000000"/>
<path d="M 2 0 L -2 -0 
" transform="translate(145.09 310.01)" style="fill: #1f77b4; stroke: #000000; stroke: #000000"/>
<path d="M 2 0 L -2 -0 
" transform="translate(160.08 314.12)" style="fill: #1f77b4; stroke: #000000; stroke: #000000"/>
<path d="M 2 0 L -2 -0 
" transform="translate(175.08 321.51)" style="fill: #1f77b4; stroke: #000000; stroke: #000000"/>
<path d="M 2 0 L -2 -0 
" transform="translate(190.08 329.54)" style="fill: #1f77b4; stroke: #000000; stroke: #000000"/>
<path d="M 2 0 L -2 -0 
" transform="translate(205.07 335.29)" style="fill: #1f77b4; stroke: #000000; stroke: #000000"/>
<path d="M 2 0 L -2 -0 
" transform="translate(220.07 339.3)" style="fill: #1f77b4; stroke: #000000; stroke: #000000"/>
<path d="M 2 0 L -2 -0 
" transform="translate(235.06 339.71)" style="fill: #1f77b4; stroke: #000000; stroke: #000000"/>
<path d="M 2 0 L -2 -0 
" transform="translate(250.06 337.84)" style="fill: #1f77b4; stroke: #000000; stroke: #000000"/>
<path d="M 2 0 L -2 -0 
" transform="translate(265.06 334.46)" style="fill: #1f77b4; stroke: #000000; stroke: #000000"/>
<path d="M 2 0 L -2 -0 
" transform="translate(280.05 328.9)" style="fill: #1f77b4; stroke: #000000; stroke: #000000"/>
<path d="M 2 0 L -2 -0 
" transform="translate(295.05 322.24)" style="fill: #1f77b4; stroke: #000000; stroke: #000000"/>
<path d="M 2 0 L -2 -0 
" transform="translate(310.05 315.49)" style="fill: #1f77b4; stroke: #000000; stroke: #000000"/>
<path d="M 2 0 L -2 -0 
" transform="translate(325.04 311.2)" style="fill: #1f77b4; stroke: #000000; stroke: #000000"/>
<path d="M 2 0 L -2 -0 
" transform="translate(340.04 310.92)" style="fill: #1f77b4; stroke: #000000; stroke: #000000"/>
<path d="M 2 0 L -2 -0 
" transform="translate(355.03 310.74)" style="fill: #1f77b4; stroke: #000000; stroke: #000000"/>
<path d="M 2 0 L -2 -0 
" transform="translate(370.03 310.56)" style="fill: #1f77b4; stroke: #000000; stroke: #000000"/>
<path d="M 2 0 L -2 -0 
" transform="translate(385.03 310.38)" style="fill: #1f77b4; stroke: #000000; stroke: #000000"/>
<path d="M 2 0 L -2 -0 
" transform="translate(400.02 310.19)" style="fill: #1f77b4; stroke: #000000; stroke: #000000"/>
</g>
</g>
<g id="line2d_75">
<g clip-path="url(#p25fe2cb7e5)">
<path d="M 2 0 L -2 -0 
" transform="translate(55.11 309.55)" style="fill: #1f77b4; stroke: #000000; stroke: #000000"/>
<path d="M 2 0 L -2 -0 
" transform="translate(70.11 309.46)" style="fill: #1f77b4; stroke: #000000; stroke: #000000"/>
<path d="M 2 0 L -2 -0 
" transform="translate(85.1 309.37)" style="fill: #1f77b4; stroke: #000000; stroke: #000000"/>
<path d="M 2 0 L -2 -0 
" transform="translate(100.1 309.37)" style="fill: #1f77b4; stroke: #000000; stroke: #000000"/>
<path d="M 2 0 L -2 -0 
" transform="translate(115.09 309.28)" style="fill: #1f77b4; stroke: #000000; stroke: #000000"/>
<path d="M 2 0 L -2 -0 
" transform="translate(130.09 309.19)" style="fill: #1f77b4; stroke: #000000; stroke: #000000"/>
<path d="M 2 0 L -2 -0 
" transform="translate(145.09 309.46)" style="fill: #1f77b4; stroke: #000000; stroke: #000000"/>
<path d="M 2 0 L -2 -0 
" transform="translate(160.08 312.66)" style="fill: #1f77b4; stroke: #000000; stroke: #000000"/>
<path d="M 2 0 L -2 -0 
" transform="translate(175.08 318.4)" style="fill: #1f77b4; stroke: #000000; stroke: #000000"/>
<path d="M 2 0 L -2 -0 
" transform="translate(190.08 324.98)" style="fill: #1f77b4; stroke: #000000; stroke: #000000"/>
<path d="M 2 0 L -2 -0 
" transform="translate(205.07 329.63)" style="fill: #1f77b4; stroke: #000000; stroke: #000000"/>
<path d="M 2 0 L -2 -0 
" transform="translate(220.07 332.91)" style="fill: #1f77b4; stroke: #000000; stroke: #000000"/>
<path d="M 2 0 L -2 -0 
" transform="translate(235.06 333.23)" style="fill: #1f77b4; stroke: #000000; stroke: #000000"/>
<path d="M 2 0 L -2 -0 
" transform="translate(250.06 332.18)" style="fill: #1f77b4; stroke: #000000; stroke: #000000"/>
<path d="M 2 0 L -2 -0 
" transform="translate(265.06 329.17)" style="fill: #1f77b4; stroke: #000000; stroke: #000000"/>
<path d="M 2 0 L -2 -0 
" transform="translate(280.05 324.7)" style="fill: #1f77b4; stroke: #000000; stroke: #000000"/>
<path d="M 2 0 L -2 -0 
" transform="translate(295.05 319.13)" style="fill: #1f77b4; stroke: #000000; stroke: #000000"/>
<path d="M 2 0 L -2 -0 
" transform="translate(310.05 313.3)" style="fill: #1f77b4; stroke: #000000; stroke: #000000"/>
<path d="M 2 0 L -2 -0 
" transform="translate(325.04 310.47)" style="fill: #1f77b4; stroke: #000000; stroke: #000000"/>
<path d="M 2 0 L -2 -0 
" transform="translate(340.04 310.38)" style="fill: #1f77b4; stroke: #000000; stroke: #000000"/>
<path d="M 2 0 L -2 -0 
" transform="translate(355.03 310.19)" style="fill: #1f77b4; stroke: #000000; stroke: #000000"/>
<path d="M 2 0 L -2 -0 
" transform="translate(370.03 310.01)" style="fill: #1f77b4; stroke: #000000; stroke: #000000"/>
<path d="M 2 0 L -2 -0 
" transform="translate(385.03 309.83)" style="fill: #1f77b4; stroke: #000000; stroke: #000000"/>
<path d="M 2 0 L -2 -0 
" transform="translate(400.02 309.64)" style="fill: #1f77b4; stroke: #000000; stroke: #000000"/>
</g>
</g>
<g id="LineCollection_27">
<path d="M 196.07 309.46 L 196.07 308 
" clip-path="url(#p25fe2cb7e5)" style="fill: none; stroke: #6a6a6a; stroke-width: 0.45"/>
<path d="M 211.07 309.83 L 211.07 307.64 
" clip-path="url(#p25fe2cb7e5)" style="fill: none; stroke: #6a6a6a; stroke-width: 0.45"/>
<path d="M 226.07 310.1 L 226.07 307.91 
" clip-path="url(#p25fe2cb7e5)" style="fill: none; stroke: #6a6a6a; stroke-width: 0.45"/>
<path d="M 241.06 310.01 L 241.06 307.45 
" clip-path="url(#p25fe2cb7e5)" style="fill: none; stroke: #6a6a6a; stroke-width: 0.45"/>
<path d="M 256.06 309.69 L 256.06 307.04 
" clip-path="url(#p25fe2cb7e5)" style="fill: none; stroke: #6a6a6a; stroke-width: 0.45"/>
<path d="M 271.05 309.01 L 271.05 306.63 
" clip-path="url(#p25fe2cb7e5)" style="fill: none; stroke: #6a6a6a; stroke-width: 0.45"/>
<path d="M 286.05 308.09 L 286.05 306.45 
" clip-path="url(#p25fe2cb7e5)" style="fill: none; stroke: #6a6a6a; stroke-width: 0.45"/>
</g>
<g id="LineCollection_28">
<path d="M 61.11 308 L 61.11 307.45 
" clip-path="url(#p25fe2cb7e5)" style="fill: none"/>
<path d="M 76.1 308 L 76.1 307.45 
" clip-path="url(#p25fe2cb7e5)" style="fill: none"/>
<path d="M 91.1 308 L 91.1 307.45 
" clip-path="url(#p25fe2cb7e5)" style="fill: none"/>
<path d="M 106.1 308 L 106.1 307.45 
" clip-path="url(#p25fe2cb7e5)" style="fill: none"/>
<path d="M 121.09 308 L 121.09 307.45 
" clip-path="url(#p25fe2cb7e5)" style="fill: none"/>
<path d="M 136.09 308 L 136.09 307.45 
" clip-path="url(#p25fe2cb7e5)" style="fill: none"/>
<path d="M 151.08 307.64 L 151.08 307.09 
" clip-path="url(#p25fe2cb7e5)" style="fill: none"/>
<path d="M 166.08 307.91 L 166.08 307.36 
" clip-path="url(#p25fe2cb7e5)" style="fill: none"/>
<path d="M 181.08 308.09 L 181.08 307.55 
" clip-path="url(#p25fe2cb7e5)" style="fill: none"/>
<path d="M 196.07 309.46 L 196.07 308 
" clip-path="url(#p25fe2cb7e5)" style="fill: none"/>
<path d="M 211.07 309.83 L 211.07 307.64 
" clip-path="url(#p25fe2cb7e5)" style="fill: none"/>
<path d="M 226.07 310.1 L 226.07 307.91 
" clip-path="url(#p25fe2cb7e5)" style="fill: none"/>
<path d="M 241.06 310.01 L 241.06 307.45 
" clip-path="url(#p25fe2cb7e5)" style="fill: none"/>
<path d="M 256.06 309.69 L 256.06 307.04 
" clip-path="url(#p25fe2cb7e5)" style="fill: none"/>
<path d="M 271.05 309.01 L 271.05 306.63 
" clip-path="url(#p25fe2cb7e5)" style="fill: none"/>
<path d="M 286.05 308.09 L 286.05 306.45 
" clip-path="url(#p25fe2cb7e5)" style="fill: none"/>
<path d="M 301.05 307.27 L 301.05 306.73 
" clip-path="url(#p25fe2cb7e5)" style="fill: none"/>
<path d="M 316.04 307.45 L 316.04 306.91 
" clip-path="url(#p25fe2cb7e5)" style="fill: none"/>
<path d="M 331.04 308 L 331.04 307.45 
" clip-path="url(#p25fe2cb7e5)" style="fill: none"/>
<path d="M 346.04 308 L 346.04 307.45 
" clip-path="url(#p25fe2cb7e5)" style="fill: none"/>
<path d="M 361.03 308 L 361.03 307.45 
" clip-path="url(#p25fe2cb7e5)" style="fill: none"/>
<path d="M 376.03 308 L 376.03 307.45 
" clip-path="url(#p25fe2cb7e5)" style="fill: none"/>
<path d="M 391.02 308 L 391.02 307.45 
" clip-path="url(#p25fe2cb7e5)" style="fill: none"/>
<path d="M 406.02 308 L 406.02 307.45 
" clip-path="url(#p25fe2cb7e5)" style="fill: none"/>
</g>
<g id="line2d_76">
<g clip-path="url(#p25fe2cb7e5)">
<path d="M 2 0 L -2 -0 
" transform="translate(61.11 308)" style="fill: #1f77b4; stroke: #000000; stroke: #000000"/>
<path d="M 2 0 L -2 -0 
" transform="translate(76.1 308)" style="fill: #1f77b4; stroke: #000000; stroke: #000000"/>
<path d="M 2 0 L -2 -0 
" transform="translate(91.1 308)" style="fill: #1f77b4; stroke: #000000; stroke: #000000"/>
<path d="M 2 0 L -2 -0 
" transform="translate(106.1 308)" style="fill: #1f77b4; stroke: #000000; stroke: #000000"/>
<path d="M 2 0 L -2 -0 
" transform="translate(121.09 308)" style="fill: #1f77b4; stroke: #000000; stroke: #000000"/>
<path d="M 2 0 L -2 -0 
" transform="translate(136.09 308)" style="fill: #1f77b4; stroke: #000000; stroke: #000000"/>
<path d="M 2 0 L -2 -0 
" transform="translate(151.08 307.64)" style="fill: #1f77b4; stroke: #000000; stroke: #000000"/>
<path d="M 2 0 L -2 -0 
" transform="translate(166.08 307.91)" style="fill: #1f77b4; stroke: #000000; stroke: #000000"/>
<path d="M 2 0 L -2 -0 
" transform="translate(181.08 308.09)" style="fill: #1f77b4; stroke: #000000; stroke: #000000"/>
<path d="M 2 0 L -2 -0 
" transform="translate(196.07 309.46)" style="fill: #1f77b4; stroke: #000000; stroke: #000000"/>
<path d="M 2 0 L -2 -0 
" transform="translate(211.07 309.83)" style="fill: #1f77b4; stroke: #000000; stroke: #000000"/>
<path d="M 2 0 L -2 -0 
" transform="translate(226.07 310.1)" style="fill: #1f77b4; stroke: #000000; stroke: #000000"/>
<path d="M 2 0 L -2 -0 
" transform="translate(241.06 310.01)" style="fill: #1f77b4; stroke: #000000; stroke: #000000"/>
<path d="M 2 0 L -2 -0 
" transform="translate(256.06 309.69)" style="fill: #1f77b4; stroke: #000000; stroke: #000000"/>
<path d="M 2 0 L -2 -0 
" transform="translate(271.05 309.01)" style="fill: #1f77b4; stroke: #000000; stroke: #000000"/>
<path d="M 2 0 L -2 -0 
" transform="translate(286.05 308.09)" style="fill: #1f77b4; stroke: #000000; stroke: #000000"/>
<path d="M 2 0 L -2 -0 
" transform="translate(301.05 307.27)" style="fill: #1f77b4; stroke: #000000; stroke: #000000"/>
<path d="M 2 0 L -2 -0 
" transform="translate(316.04 307.45)" style="fill: #1f77b4; stroke: #000000; stroke: #000000"/>
<path d="M 2 0 L -2 -0 
" transform="translate(331.04 308)" style="fill: #1f77b4; stroke: #000000; stroke: #000000"/>
<path d="M 2 0 L -2 -0 
" transform="translate(346.04 308)" style="fill: #1f77b4; stroke: #000000; stroke: #000000"/>
<path d="M 2 0 L -2 -0 
" transform="translate(361.03 308)" style="fill: #1f77b4; stroke: #000000; stroke: #000000"/>
<path d="M 2 0 L -2 -0 
" transform="translate(376.03 308)" style="fill: #1f77b4; stroke: #000000; stroke: #000000"/>
<path d="M 2 0 L -2 -0 
" transform="translate(391.02 308)" style="fill: #1f77b4; stroke: #000000; stroke: #000000"/>
<path d="M 2 0 L -2 -0 
" transform="translate(406.02 308)" style="fill: #1f77b4; stroke: #000000; stroke: #000000"/>
</g>
</g>
<g id="line2d_77">
<g clip-path="url(#p25fe2cb7e5)">
<path d="M 2 0 L -2 -0 
" transform="translate(61.11 307.45)" style="fill: #1f77b4; stroke: #000000; stroke: #000000"/>
<path d="M 2 0 L -2 -0 
" transform="translate(76.1 307.45)" style="fill: #1f77b4; stroke: #000000; stroke: #000000"/>
<path d="M 2 0 L -2 -0 
" transform="translate(91.1 307.45)" style="fill: #1f77b4; stroke: #000000; stroke: #000000"/>
<path d="M 2 0 L -2 -0 
" transform="translate(106.1 307.45)" style="fill: #1f77b4; stroke: #000000; stroke: #000000"/>
<path d="M 2 0 L -2 -0 
" transform="translate(121.09 307.45)" style="fill: #1f77b4; stroke: #000000; stroke: #000000"/>
<path d="M 2 0 L -2 -0 
" transform="translate(136.09 307.45)" style="fill: #1f77b4; stroke: #000000; stroke: #000000"/>
<path d="M 2 0 L -2 -0 
" transform="translate(151.08 307.09)" style="fill: #1f77b4; stroke: #000000; stroke: #000000"/>
<path d="M 2 0 L -2 -0 
" transform="translate(166.08 307.36)" style="fill: #1f77b4; stroke: #000000; stroke: #000000"/>
<path d="M 2 0 L -2 -0 
" transform="translate(181.08 307.55)" style="fill: #1f77b4; stroke: #000000; stroke: #000000"/>
<path d="M 2 0 L -2 -0 
" transform="translate(196.07 308)" style="fill: #1f77b4; stroke: #000000; stroke: #000000"/>
<path d="M 2 0 L -2 -0 
" transform="translate(211.07 307.64)" style="fill: #1f77b4; stroke: #000000; stroke: #000000"/>
<path d="M 2 0 L -2 -0 
" transform="translate(226.07 307.91)" style="fill: #1f77b4; stroke: #000000; stroke: #000000"/>
<path d="M 2 0 L -2 -0 
" transform="translate(241.06 307.45)" style="fill: #1f77b4; stroke: #000000; stroke: #000000"/>
<path d="M 2 0 L -2 -0 
" transform="translate(256.06 307.04)" style="fill: #1f77b4; stroke: #000000; stroke: #000000"/>
<path d="M 2 0 L -2 -0 
" transform="translate(271.05 306.63)" style="fill: #1f77b4; stroke: #000000; stroke: #000000"/>
<path d="M 2 0 L -2 -0 
" transform="translate(286.05 306.45)" style="fill: #1f77b4; stroke: #000000; stroke: #000000"/>
<path d="M 2 0 L -2 -0 
" transform="translate(301.05 306.73)" style="fill: #1f77b4; stroke: #000000; stroke: #000000"/>
<path d="M 2 0 L -2 -0 
" transform="translate(316.04 306.91)" style="fill: #1f77b4; stroke: #000000; stroke: #000000"/>
<path d="M 2 0 L -2 -0 
" transform="translate(331.04 307.45)" style="fill: #1f77b4; stroke: #000000; stroke: #000000"/>
<path d="M 2 0 L -2 -0 
" transform="translate(346.04 307.45)" style="fill: #1f77b4; stroke: #000000; stroke: #000000"/>
<path d="M 2 0 L -2 -0 
" transform="translate(361.03 307.45)" style="fill: #1f77b4; stroke: #000000; stroke: #000000"/>
<path d="M 2 0 L -2 -0 
" transform="translate(376.03 307.45)" style="fill: #1f77b4; stroke: #000000; stroke: #000000"/>
<path d="M 2 0 L -2 -0 
" transform="translate(391.02 307.45)" style="fill: #1f77b4; stroke: #000000; stroke: #000000"/>
<path d="M 2 0 L -2 -0 
" transform="translate(406.02 307.45)" style="fill: #1f77b4; stroke: #000000; stroke: #000000"/>
</g>
</g>
<g id="patch_369">
<path d="M 50.61 340.31 L 50.61 295.41 
" style="fill: none; stroke: #000000; stroke-width: 0.8; stroke-linejoin: miter; stroke-linecap: square"/>
</g>
<g id="patch_370">
<path d="M 410.52 340.31 L 410.52 295.41 
" style="fill: none; stroke: #000000; stroke-width: 0.8; stroke-linejoin: miter; stroke-linecap: square"/>
</g>
<g id="patch_371">
<path d="M 50.61 340.31 L 410.52 340.31 
" style="fill: none; stroke: #000000; stroke-width: 0.8; stroke-linejoin: miter; stroke-linecap: square"/>
</g>
<g id="patch_372">
<path d="M 50.61 295.41 L 410.52 295.41 
" style="fill: none; stroke: #000000; stroke-width: 0.8; stroke-linejoin: miter; stroke-linecap: square"/>
</g>
</g>
<g id="axes_8">
<g id="patch_373">
<path d="M 50.61 385.2 L 410.52 385.2 L 410.52 340.31 L 50.61 340.31 z
" style="fill: #ffffff"/>
</g>
<g id="patch_374">
<path d="M 52.11 352.26 L 58.11 352.26 L 58.11 351.71 L 52.11 351.71 z
" clip-path="url(#p3e824705e5)" style="fill: #cd853f"/>
</g>
<g id="patch_375">
<path d="M 67.11 352.26 L 73.1 352.26 L 73.1 351.71 L 67.11 351.71 z
" clip-path="url(#p3e824705e5)" style="fill: #cd853f"/>
</g>
<g id="patch_376">
<path d="M 82.1 352.26 L 88.1 352.26 L 88.1 351.71 L 82.1 351.71 z
" clip-path="url(#p3e824705e5)" style="fill: #cd853f"/>
</g>
<g id="patch_377">
<path d="M 97.1 352.26 L 103.1 352.26 L 103.1 351.71 L 97.1 351.71 z
" clip-path="url(#p3e824705e5)" style="fill: #cd853f"/>
</g>
<g id="patch_378">
<path d="M 112.09 352.26 L 118.09 352.26 L 118.09 351.71 L 112.09 351.71 z
" clip-path="url(#p3e824705e5)" style="fill: #cd853f"/>
</g>
<g id="patch_379">
<path d="M 127.09 352.26 L 133.09 352.26 L 133.09 351.71 L 127.09 351.71 z
" clip-path="url(#p3e824705e5)" style="fill: #cd853f"/>
</g>
<g id="patch_380">
<path d="M 142.09 352.26 L 148.09 352.26 L 148.09 352.26 L 142.09 352.26 z
" clip-path="url(#p3e824705e5)" style="fill: #cd853f"/>
</g>
<g id="patch_381">
<path d="M 157.08 352.26 L 163.08 352.26 L 163.08 351.99 L 157.08 351.99 z
" clip-path="url(#p3e824705e5)" style="fill: #cd853f"/>
</g>
<g id="patch_382">
<path d="M 172.08 352.26 L 178.08 352.26 L 178.08 351.25 L 172.08 351.25 z
" clip-path="url(#p3e824705e5)" style="fill: #cd853f"/>
</g>
<g id="patch_383">
<path d="M 187.08 352.26 L 193.07 352.26 L 193.07 350.43 L 187.08 350.43 z
" clip-path="url(#p3e824705e5)" style="fill: #cd853f"/>
</g>
<g id="patch_384">
<path d="M 202.07 352.26 L 208.07 352.26 L 208.07 350.25 L 202.07 350.25 z
" clip-path="url(#p3e824705e5)" style="fill: #cd853f"/>
</g>
<g id="patch_385">
<path d="M 217.07 352.26 L 223.07 352.26 L 223.07 350.16 L 217.07 350.16 z
" clip-path="url(#p3e824705e5)" style="fill: #cd853f"/>
</g>
<g id="patch_386">
<path d="M 232.06 352.26 L 238.06 352.26 L 238.06 350.16 L 232.06 350.16 z
" clip-path="url(#p3e824705e5)" style="fill: #cd853f"/>
</g>
<g id="patch_387">
<path d="M 247.06 352.26 L 253.06 352.26 L 253.06 350.16 L 247.06 350.16 z
" clip-path="url(#p3e824705e5)" style="fill: #cd853f"/>
</g>
<g id="patch_388">
<path d="M 262.06 352.26 L 268.06 352.26 L 268.06 350.52 L 262.06 350.52 z
" clip-path="url(#p3e824705e5)" style="fill: #cd853f"/>
</g>
<g id="patch_389">
<path d="M 277.05 352.26 L 283.05 352.26 L 283.05 351.16 L 277.05 351.16 z
" clip-path="url(#p3e824705e5)" style="fill: #cd853f"/>
</g>
<g id="patch_390">
<path d="M 292.05 352.26 L 298.05 352.26 L 298.05 351.8 L 292.05 351.8 z
" clip-path="url(#p3e824705e5)" style="fill: #cd853f"/>
</g>
<g id="patch_391">
<path d="M 307.05 352.26 L 313.04 352.26 L 313.04 351.8 L 307.05 351.8 z
" clip-path="url(#p3e824705e5)" style="fill: #cd853f"/>
</g>
<g id="patch_392">
<path d="M 322.04 352.26 L 328.04 352.26 L 328.04 351.71 L 322.04 351.71 z
" clip-path="url(#p3e824705e5)" style="fill: #cd853f"/>
</g>
<g id="patch_393">
<path d="M 337.04 352.26 L 343.04 352.26 L 343.04 351.71 L 337.04 351.71 z
" clip-path="url(#p3e824705e5)" style="fill: #cd853f"/>
</g>
<g id="patch_394">
<path d="M 352.03 352.26 L 358.03 352.26 L 358.03 351.71 L 352.03 351.71 z
" clip-path="url(#p3e824705e5)" style="fill: #cd853f"/>
</g>
<g id="patch_395">
<path d="M 367.03 352.26 L 373.03 352.26 L 373.03 351.71 L 367.03 351.71 z
" clip-path="url(#p3e824705e5)" style="fill: #cd853f"/>
</g>
<g id="patch_396">
<path d="M 382.03 352.26 L 388.03 352.26 L 388.03 351.71 L 382.03 351.71 z
" clip-path="url(#p3e824705e5)" style="fill: #cd853f"/>
</g>
<g id="patch_397">
<path d="M 397.02 352.26 L 403.02 352.26 L 403.02 351.71 L 397.02 351.71 z
" clip-path="url(#p3e824705e5)" style="fill: #cd853f"/>
</g>
<g id="patch_398">
<path d="M 58.11 352.26 L 64.11 352.26 L 64.11 352.99 L 58.11 352.99 z
" clip-path="url(#p3e824705e5)" style="fill: #20b2aa"/>
</g>
<g id="patch_399">
<path d="M 73.1 352.26 L 79.1 352.26 L 79.1 352.99 L 73.1 352.99 z
" clip-path="url(#p3e824705e5)" style="fill: #20b2aa"/>
</g>
<g id="patch_400">
<path d="M 88.1 352.26 L 94.1 352.26 L 94.1 352.99 L 88.1 352.99 z
" clip-path="url(#p3e824705e5)" style="fill: #20b2aa"/>
</g>
<g id="patch_401">
<path d="M 103.1 352.26 L 109.1 352.26 L 109.1 352.99 L 103.1 352.99 z
" clip-path="url(#p3e824705e5)" style="fill: #20b2aa"/>
</g>
<g id="patch_402">
<path d="M 118.09 352.26 L 124.09 352.26 L 124.09 352.99 L 118.09 352.99 z
" clip-path="url(#p3e824705e5)" style="fill: #20b2aa"/>
</g>
<g id="patch_403">
<path d="M 133.09 352.26 L 139.09 352.26 L 139.09 352.99 L 133.09 352.99 z
" clip-path="url(#p3e824705e5)" style="fill: #20b2aa"/>
</g>
<g id="patch_404">
<path d="M 148.09 352.26 L 154.08 352.26 L 154.08 352.53 L 148.09 352.53 z
" clip-path="url(#p3e824705e5)" style="fill: #20b2aa"/>
</g>
<g id="patch_405">
<path d="M 163.08 352.26 L 169.08 352.26 L 169.08 351.8 L 163.08 351.8 z
" clip-path="url(#p3e824705e5)" style="fill: #20b2aa"/>
</g>
<g id="patch_406">
<path d="M 178.08 352.26 L 184.08 352.26 L 184.08 350.8 L 178.08 350.8 z
" clip-path="url(#p3e824705e5)" style="fill: #20b2aa"/>
</g>
<g id="patch_407">
<path d="M 193.07 352.26 L 199.07 352.26 L 199.07 350.07 L 193.07 350.07 z
" clip-path="url(#p3e824705e5)" style="fill: #20b2aa"/>
</g>
<g id="patch_408">
<path d="M 208.07 352.26 L 214.07 352.26 L 214.07 349.89 L 208.07 349.89 z
" clip-path="url(#p3e824705e5)" style="fill: #20b2aa"/>
</g>
<g id="patch_409">
<path d="M 223.07 352.26 L 229.07 352.26 L 229.07 349.8 L 223.07 349.8 z
" clip-path="url(#p3e824705e5)" style="fill: #20b2aa"/>
</g>
<g id="patch_410">
<path d="M 238.06 352.26 L 244.06 352.26 L 244.06 349.8 L 238.06 349.8 z
" clip-path="url(#p3e824705e5)" style="fill: #20b2aa"/>
</g>
<g id="patch_411">
<path d="M 253.06 352.26 L 259.06 352.26 L 259.06 349.89 L 253.06 349.89 z
" clip-path="url(#p3e824705e5)" style="fill: #20b2aa"/>
</g>
<g id="patch_412">
<path d="M 268.06 352.26 L 274.05 352.26 L 274.05 350.25 L 268.06 350.25 z
" clip-path="url(#p3e824705e5)" style="fill: #20b2aa"/>
</g>
<g id="patch_413">
<path d="M 283.05 352.26 L 289.05 352.26 L 289.05 350.89 L 283.05 350.89 z
" clip-path="url(#p3e824705e5)" style="fill: #20b2aa"/>
</g>
<g id="patch_414">
<path d="M 298.05 352.26 L 304.05 352.26 L 304.05 351.8 L 298.05 351.8 z
" clip-path="url(#p3e824705e5)" style="fill: #20b2aa"/>
</g>
<g id="patch_415">
<path d="M 313.04 352.26 L 319.04 352.26 L 319.04 352.81 L 313.04 352.81 z
" clip-path="url(#p3e824705e5)" style="fill: #20b2aa"/>
</g>
<g id="patch_416">
<path d="M 328.04 352.26 L 334.04 352.26 L 334.04 352.99 L 328.04 352.99 z
" clip-path="url(#p3e824705e5)" style="fill: #20b2aa"/>
</g>
<g id="patch_417">
<path d="M 343.04 352.26 L 349.04 352.26 L 349.04 352.99 L 343.04 352.99 z
" clip-path="url(#p3e824705e5)" style="fill: #20b2aa"/>
</g>
<g id="patch_418">
<path d="M 358.03 352.26 L 364.03 352.26 L 364.03 352.99 L 358.03 352.99 z
" clip-path="url(#p3e824705e5)" style="fill: #20b2aa"/>
</g>
<g id="patch_419">
<path d="M 373.03 352.26 L 379.03 352.26 L 379.03 352.99 L 373.03 352.99 z
" clip-path="url(#p3e824705e5)" style="fill: #20b2aa"/>
</g>
<g id="patch_420">
<path d="M 388.03 352.26 L 394.02 352.26 L 394.02 352.99 L 388.03 352.99 z
" clip-path="url(#p3e824705e5)" style="fill: #20b2aa"/>
</g>
<g id="patch_421">
<path d="M 403.02 352.26 L 409.02 352.26 L 409.02 352.99 L 403.02 352.99 z
" clip-path="url(#p3e824705e5)" style="fill: #20b2aa"/>
</g>
<g id="matplotlib.axis_15">
<g id="xtick_29">
<g id="line2d_78">
<g>
<path d="M 0 0 L 0 3.5 
" transform="translate(58.11 385.2)" style="stroke: #000000; stroke-width: 0.8; stroke: #000000; stroke-width: 0.8"/>
</g>
</g>
<g id="text_22">
<text style="font-size: 10px; font-family: 'DejaVu Sans', sans-serif; text-anchor: middle" x="58.11" y="399.8" transform="rotate(-0 58.11 399.8)">00 LST</text>
</g>
</g>
<g id="xtick_30">
<g id="line2d_79">
<g>
<path d="M 0 0 L 0 3.5 
" transform="translate(148.09 385.2)" style="stroke: #000000; stroke-width: 0.8; stroke: #000000; stroke-width: 0.8"/>
</g>
</g>
<g id="text_23">
<text style="font-size: 10px; font-family: 'DejaVu Sans', sans-serif; text-anchor: middle" x="148.09" y="399.8" transform="rotate(-0 148.09 399.8)">06 LST</text>
</g>
</g>
<g id="xtick_31">
<g id="line2d_80">
<g>
<path d="M 0 0 L 0 3.5 
" transform="translate(238.06 385.2)" style="stroke: #000000; stroke-width: 0.8; stroke: #000000; stroke-width: 0.8"/>
</g>
</g>
<g id="text_24">
<text style="font-size: 10px; font-family: 'DejaVu Sans', sans-serif; text-anchor: middle" x="238.06" y="399.8" transform="rotate(-0 238.06 399.8)">12 LST</text>
</g>
</g>
<g id="xtick_32">
<g id="line2d_81">
<g>
<path d="M 0 0 L 0 3.5 
" transform="translate(328.04 385.2)" style="stroke: #000000; stroke-width: 0.8; stroke: #000000; stroke-width: 0.8"/>
</g>
</g>
<g id="text_25">
<text style="font-size: 10px; font-family: 'DejaVu Sans', sans-serif; text-anchor: middle" x="328.04" y="399.8" transform="rotate(-0 328.04 399.8)">18 LST</text>
</g>
</g>
<g id="text_26">
<text style="font-size: 10px; font-family: 'DejaVu Sans', sans-serif; text-anchor: middle" x="230.56" y="413.48" transform="rotate(-0 230.56 413.48)">Time of day</text>
</g>
</g>
<g id="matplotlib.axis_16">
<g id="ytick_15">
<g id="line2d_82">
<g>
<path d="M 0 0 L -3.5 0 
" transform="translate(50.61 352.26)" style="stroke: #000000; stroke-width: 0.8; stroke: #000000; stroke-width: 0.8"/>
</g>
</g>
<g id="text_27">
<text style="font-size: 10px; font-family: 'DejaVu Sans', sans-serif; text-anchor: end" x="43.61" y="356.06" transform="rotate(-0 43.61 356.06)">0</text>
</g>
</g>
<g id="ytick_16">
<g id="line2d_83">
<g>
<path d="M 0 0 L -3.5 0 
" transform="translate(50.61 370.51)" style="stroke: #000000; stroke-width: 0.8; stroke: #000000; stroke-width: 0.8"/>
</g>
</g>
<g id="text_28">
<text style="font-size: 10px; font-family: 'DejaVu Sans', sans-serif; text-anchor: end" x="43.61" y="374.31" transform="rotate(-0 43.61 374.31)">−2</text>
</g>
</g>
<g id="text_29">
<g transform="translate(10.46 374.65) rotate(-90)">
<text>
<tspan x="0" y="-0.58" style="font-size: 10px; font-family: 'DejaVu Sans', sans-serif">B</tspan>
<tspan x="6.86" y="-0.58" style="font-size: 10px; font-family: 'DejaVu Sans', sans-serif">y</tspan>
<tspan x="12.78" y="-0.58" style="font-size: 10px; font-family: 'DejaVu Sans', sans-serif"> </tspan>
<tspan x="15.96" y="-0.58" style="font-style: oblique; font-size: 10px; font-family: 'DejaVu Sans', sans-serif">G</tspan>
</text>
</g>
<text style="font-size: 10px; font-family: 'DejaVu Sans', sans-serif" transform="translate(22.14 369.55) rotate(-90)">(k)</text>
</g>
</g>
<g id="line2d_84">
<path d="M 50.61 352.26 L 410.52 352.26 
" clip-path="url(#p3e824705e5)" style="fill: none; stroke-dasharray: 2.96,1.28; stroke-dashoffset: 0; stroke: #808080; stroke-width: 0.8"/>
</g>
<g id="LineCollection_29"/>
<g id="LineCollection_30">
<path d="M 55.11 351.89 L 55.11 351.53 
" clip-path="url(#p3e824705e5)" style="fill: none"/>
<path d="M 70.11 351.89 L 70.11 351.53 
" clip-path="url(#p3e824705e5)" style="fill: none"/>
<path d="M 85.1 351.89 L 85.1 351.53 
" clip-path="url(#p3e824705e5)" style="fill: none"/>
<path d="M 100.1 351.89 L 100.1 351.53 
" clip-path="url(#p3e824705e5)" style="fill: none"/>
<path d="M 115.09 351.89 L 115.09 351.53 
" clip-path="url(#p3e824705e5)" style="fill: none"/>
<path d="M 130.09 351.89 L 130.09 351.53 
" clip-path="url(#p3e824705e5)" style="fill: none"/>
<path d="M 145.09 352.44 L 145.09 352.08 
" clip-path="url(#p3e824705e5)" style="fill: none"/>
<path d="M 160.08 352.17 L 160.08 351.8 
" clip-path="url(#p3e824705e5)" style="fill: none"/>
<path d="M 175.08 351.44 L 175.08 351.07 
" clip-path="url(#p3e824705e5)" style="fill: none"/>
<path d="M 190.08 350.62 L 190.08 350.25 
" clip-path="url(#p3e824705e5)" style="fill: none"/>
<path d="M 205.07 350.43 L 205.07 350.07 
" clip-path="url(#p3e824705e5)" style="fill: none"/>
<path d="M 220.07 350.34 L 220.07 349.98 
" clip-path="url(#p3e824705e5)" style="fill: none"/>
<path d="M 235.06 350.34 L 235.06 349.98 
" clip-path="url(#p3e824705e5)" style="fill: none"/>
<path d="M 250.06 350.34 L 250.06 349.98 
" clip-path="url(#p3e824705e5)" style="fill: none"/>
<path d="M 265.06 350.71 L 265.06 350.34 
" clip-path="url(#p3e824705e5)" style="fill: none"/>
<path d="M 280.05 351.35 L 280.05 350.98 
" clip-path="url(#p3e824705e5)" style="fill: none"/>
<path d="M 295.05 351.99 L 295.05 351.62 
" clip-path="url(#p3e824705e5)" style="fill: none"/>
<path d="M 310.05 351.99 L 310.05 351.62 
" clip-path="url(#p3e824705e5)" style="fill: none"/>
<path d="M 325.04 351.89 L 325.04 351.53 
" clip-path="url(#p3e824705e5)" style="fill: none"/>
<path d="M 340.04 351.89 L 340.04 351.53 
" clip-path="url(#p3e824705e5)" style="fill: none"/>
<path d="M 355.03 351.89 L 355.03 351.53 
" clip-path="url(#p3e824705e5)" style="fill: none"/>
<path d="M 370.03 351.89 L 370.03 351.53 
" clip-path="url(#p3e824705e5)" style="fill: none"/>
<path d="M 385.03 351.89 L 385.03 351.53 
" clip-path="url(#p3e824705e5)" style="fill: none"/>
<path d="M 400.02 351.89 L 400.02 351.53 
" clip-path="url(#p3e824705e5)" style="fill: none"/>
</g>
<g id="line2d_85">
<g clip-path="url(#p3e824705e5)">
<path d="M 2 0 L -2 -0 
" transform="translate(55.11 351.89)" style="fill: #1f77b4; stroke: #000000; stroke: #000000"/>
<path d="M 2 0 L -2 -0 
" transform="translate(70.11 351.89)" style="fill: #1f77b4; stroke: #000000; stroke: #000000"/>
<path d="M 2 0 L -2 -0 
" transform="translate(85.1 351.89)" style="fill: #1f77b4; stroke: #000000; stroke: #000000"/>
<path d="M 2 0 L -2 -0 
" transform="translate(100.1 351.89)" style="fill: #1f77b4; stroke: #000000; stroke: #000000"/>
<path d="M 2 0 L -2 -0 
" transform="translate(115.09 351.89)" style="fill: #1f77b4; stroke: #000000; stroke: #000000"/>
<path d="M 2 0 L -2 -0 
" transform="translate(130.09 351.89)" style="fill: #1f77b4; stroke: #000000; stroke: #000000"/>
<path d="M 2 0 L -2 -0 
" transform="translate(145.09 352.44)" style="fill: #1f77b4; stroke: #000000; stroke: #000000"/>
<path d="M 2 0 L -2 -0 
" transform="translate(160.08 352.17)" style="fill: #1f77b4; stroke: #000000; stroke: #000000"/>
<path d="M 2 0 L -2 -0 
" transform="translate(175.08 351.44)" style="fill: #1f77b4; stroke: #000000; stroke: #000000"/>
<path d="M 2 0 L -2 -0 
" transform="translate(190.08 350.62)" style="fill: #1f77b4; stroke: #000000; stroke: #000000"/>
<path d="M 2 0 L -2 -0 
" transform="translate(205.07 350.43)" style="fill: #1f77b4; stroke: #000000; stroke: #000000"/>
<path d="M 2 0 L -2 -0 
" transform="translate(220.07 350.34)" style="fill: #1f77b4; stroke: #000000; stroke: #000000"/>
<path d="M 2 0 L -2 -0 
" transform="translate(235.06 350.34)" style="fill: #1f77b4; stroke: #000000; stroke: #000000"/>
<path d="M 2 0 L -2 -0 
" transform="translate(250.06 350.34)" style="fill: #1f77b4; stroke: #000000; stroke: #000000"/>
<path d="M 2 0 L -2 -0 
" transform="translate(265.06 350.71)" style="fill: #1f77b4; stroke: #000000; stroke: #000000"/>
<path d="M 2 0 L -2 -0 
" transform="translate(280.05 351.35)" style="fill: #1f77b4; stroke: #000000; stroke: #000000"/>
<path d="M 2 0 L -2 -0 
" transform="translate(295.05 351.99)" style="fill: #1f77b4; stroke: #000000; stroke: #000000"/>
<path d="M 2 0 L -2 -0 
" transform="translate(310.05 351.99)" style="fill: #1f77b4; stroke: #000000; stroke: #000000"/>
<path d="M 2 0 L -2 -0 
" transform="translate(325.04 351.89)" style="fill: #1f77b4; stroke: #000000; stroke: #000000"/>
<path d="M 2 0 L -2 -0 
" transform="translate(340.04 351.89)" style="fill: #1f77b4; stroke: #000000; stroke: #000000"/>
<path d="M 2 0 L -2 -0 
" transform="translate(355.03 351.89)" style="fill: #1f77b4; stroke: #000000; stroke: #000000"/>
<path d="M 2 0 L -2 -0 
" transform="translate(370.03 351.89)" style="fill: #1f77b4; stroke: #000000; stroke: #000000"/>
<path d="M 2 0 L -2 -0 
" transform="translate(385.03 351.89)" style="fill: #1f77b4; stroke: #000000; stroke: #000000"/>
<path d="M 2 0 L -2 -0 
" transform="translate(400.02 351.89)" style="fill: #1f77b4; stroke: #000000; stroke: #000000"/>
</g>
</g>
<g id="line2d_86">
<g clip-path="url(#p3e824705e5)">
<path d="M 2 0 L -2 -0 
" transform="translate(55.11 351.53)" style="fill: #1f77b4; stroke: #000000; stroke: #000000"/>
<path d="M 2 0 L -2 -0 
" transform="translate(70.11 351.53)" style="fill: #1f77b4; stroke: #000000; stroke: #000000"/>
<path d="M 2 0 L -2 -0 
" transform="translate(85.1 351.53)" style="fill: #1f77b4; stroke: #000000; stroke: #000000"/>
<path d="M 2 0 L -2 -0 
" transform="translate(100.1 351.53)" style="fill: #1f77b4; stroke: #000000; stroke: #000000"/>
<path d="M 2 0 L -2 -0 
" transform="translate(115.09 351.53)" style="fill: #1f77b4; stroke: #000000; stroke: #000000"/>
<path d="M 2 0 L -2 -0 
" transform="translate(130.09 351.53)" style="fill: #1f77b4; stroke: #000000; stroke: #000000"/>
<path d="M 2 0 L -2 -0 
" transform="translate(145.09 352.08)" style="fill: #1f77b4; stroke: #000000; stroke: #000000"/>
<path d="M 2 0 L -2 -0 
" transform="translate(160.08 351.8)" style="fill: #1f77b4; stroke: #000000; stroke: #000000"/>
<path d="M 2 0 L -2 -0 
" transform="translate(175.08 351.07)" style="fill: #1f77b4; stroke: #000000; stroke: #000000"/>
<path d="M 2 0 L -2 -0 
" transform="translate(190.08 350.25)" style="fill: #1f77b4; stroke: #000000; stroke: #000000"/>
<path d="M 2 0 L -2 -0 
" transform="translate(205.07 350.07)" style="fill: #1f77b4; stroke: #000000; stroke: #000000"/>
<path d="M 2 0 L -2 -0 
" transform="translate(220.07 349.98)" style="fill: #1f77b4; stroke: #000000; stroke: #000000"/>
<path d="M 2 0 L -2 -0 
" transform="translate(235.06 349.98)" style="fill: #1f77b4; stroke: #000000; stroke: #000000"/>
<path d="M 2 0 L -2 -0 
" transform="translate(250.06 349.98)" style="fill: #1f77b4; stroke: #000000; stroke: #000000"/>
<path d="M 2 0 L -2 -0 
" transform="translate(265.06 350.34)" style="fill: #1f77b4; stroke: #000000; stroke: #000000"/>
<path d="M 2 0 L -2 -0 
" transform="translate(280.05 350.98)" style="fill: #1f77b4; stroke: #000000; stroke: #000000"/>
<path d="M 2 0 L -2 -0 
" transform="translate(295.05 351.62)" style="fill: #1f77b4; stroke: #000000; stroke: #000000"/>
<path d="M 2 0 L -2 -0 
" transform="translate(310.05 351.62)" style="fill: #1f77b4; stroke: #000000; stroke: #000000"/>
<path d="M 2 0 L -2 -0 
" transform="translate(325.04 351.53)" style="fill: #1f77b4; stroke: #000000; stroke: #000000"/>
<path d="M 2 0 L -2 -0 
" transform="translate(340.04 351.53)" style="fill: #1f77b4; stroke: #000000; stroke: #000000"/>
<path d="M 2 0 L -2 -0 
" transform="translate(355.03 351.53)" style="fill: #1f77b4; stroke: #000000; stroke: #000000"/>
<path d="M 2 0 L -2 -0 
" transform="translate(370.03 351.53)" style="fill: #1f77b4; stroke: #000000; stroke: #000000"/>
<path d="M 2 0 L -2 -0 
" transform="translate(385.03 351.53)" style="fill: #1f77b4; stroke: #000000; stroke: #000000"/>
<path d="M 2 0 L -2 -0 
" transform="translate(400.02 351.53)" style="fill: #1f77b4; stroke: #000000; stroke: #000000"/>
</g>
</g>
<g id="LineCollection_31"/>
<g id="LineCollection_32">
<path d="M 61.11 353.17 L 61.11 352.81 
" clip-path="url(#p3e824705e5)" style="fill: none"/>
<path d="M 76.1 353.17 L 76.1 352.81 
" clip-path="url(#p3e824705e5)" style="fill: none"/>
<path d="M 91.1 353.17 L 91.1 352.81 
" clip-path="url(#p3e824705e5)" style="fill: none"/>
<path d="M 106.1 353.17 L 106.1 352.81 
" clip-path="url(#p3e824705e5)" style="fill: none"/>
<path d="M 121.09 353.17 L 121.09 352.81 
" clip-path="url(#p3e824705e5)" style="fill: none"/>
<path d="M 136.09 353.17 L 136.09 352.81 
" clip-path="url(#p3e824705e5)" style="fill: none"/>
<path d="M 151.08 352.71 L 151.08 352.35 
" clip-path="url(#p3e824705e5)" style="fill: none"/>
<path d="M 166.08 351.99 L 166.08 351.62 
" clip-path="url(#p3e824705e5)" style="fill: none"/>
<path d="M 181.08 350.98 L 181.08 350.62 
" clip-path="url(#p3e824705e5)" style="fill: none"/>
<path d="M 196.07 350.25 L 196.07 349.89 
" clip-path="url(#p3e824705e5)" style="fill: none"/>
<path d="M 211.07 350.07 L 211.07 349.7 
" clip-path="url(#p3e824705e5)" style="fill: none"/>
<path d="M 226.07 349.98 L 226.07 349.61 
" clip-path="url(#p3e824705e5)" style="fill: none"/>
<path d="M 241.06 349.98 L 241.06 349.61 
" clip-path="url(#p3e824705e5)" style="fill: none"/>
<path d="M 256.06 350.07 L 256.06 349.7 
" clip-path="url(#p3e824705e5)" style="fill: none"/>
<path d="M 271.05 350.43 L 271.05 350.07 
" clip-path="url(#p3e824705e5)" style="fill: none"/>
<path d="M 286.05 351.07 L 286.05 350.71 
" clip-path="url(#p3e824705e5)" style="fill: none"/>
<path d="M 301.05 351.99 L 301.05 351.62 
" clip-path="url(#p3e824705e5)" style="fill: none"/>
<path d="M 316.04 352.99 L 316.04 352.62 
" clip-path="url(#p3e824705e5)" style="fill: none"/>
<path d="M 331.04 353.17 L 331.04 352.81 
" clip-path="url(#p3e824705e5)" style="fill: none"/>
<path d="M 346.04 353.17 L 346.04 352.81 
" clip-path="url(#p3e824705e5)" style="fill: none"/>
<path d="M 361.03 353.17 L 361.03 352.81 
" clip-path="url(#p3e824705e5)" style="fill: none"/>
<path d="M 376.03 353.17 L 376.03 352.81 
" clip-path="url(#p3e824705e5)" style="fill: none"/>
<path d="M 391.02 353.17 L 391.02 352.81 
" clip-path="url(#p3e824705e5)" style="fill: none"/>
<path d="M 406.02 353.17 L 406.02 352.81 
" clip-path="url(#p3e824705e5)" style="fill: none"/>
</g>
<g id="line2d_87">
<g clip-path="url(#p3e824705e5)">
<path d="M 2 0 L -2 -0 
" transform="translate(61.11 353.17)" style="fill: #1f77b4; stroke: #000000; stroke: #000000"/>
<path d="M 2 0 L -2 -0 
" transform="translate(76.1 353.17)" style="fill: #1f77b4; stroke: #000000; stroke: #000000"/>
<path d="M 2 0 L -2 -0 
" transform="translate(91.1 353.17)" style="fill: #1f77b4; stroke: #000000; stroke: #000000"/>
<path d="M 2 0 L -2 -0 
" transform="translate(106.1 353.17)" style="fill: #1f77b4; stroke: #000000; stroke: #000000"/>
<path d="M 2 0 L -2 -0 
" transform="translate(121.09 353.17)" style="fill: #1f77b4; stroke: #000000; stroke: #000000"/>
<path d="M 2 0 L -2 -0 
" transform="translate(136.09 353.17)" style="fill: #1f77b4; stroke: #000000; stroke: #000000"/>
<path d="M 2 0 L -2 -0 
" transform="translate(151.08 352.71)" style="fill: #1f77b4; stroke: #000000; stroke: #000000"/>
<path d="M 2 0 L -2 -0 
" transform="translate(166.08 351.99)" style="fill: #1f77b4; stroke: #000000; stroke: #000000"/>
<path d="M 2 0 L -2 -0 
" transform="translate(181.08 350.98)" style="fill: #1f77b4; stroke: #000000; stroke: #000000"/>
<path d="M 2 0 L -2 -0 
" transform="translate(196.07 350.25)" style="fill: #1f77b4; stroke: #000000; stroke: #000000"/>
<path d="M 2 0 L -2 -0 
" transform="translate(211.07 350.07)" style="fill: #1f77b4; stroke: #000000; stroke: #000000"/>
<path d="M 2 0 L -2 -0 
" transform="translate(226.07 349.98)" style="fill: #1f77b4; stroke: #000000; stroke: #000000"/>
<path d="M 2 0 L -2 -0 
" transform="translate(241.06 349.98)" style="fill: #1f77b4; stroke: #000000; stroke: #000000"/>
<path d="M 2 0 L -2 -0 
" transform="translate(256.06 350.07)" style="fill: #1f77b4; stroke: #000000; stroke: #000000"/>
<path d="M 2 0 L -2 -0 
" transform="translate(271.05 350.43)" style="fill: #1f77b4; stroke: #000000; stroke: #000000"/>
<path d="M 2 0 L -2 -0 
" transform="translate(286.05 351.07)" style="fill: #1f77b4; stroke: #000000; stroke: #000000"/>
<path d="M 2 0 L -2 -0 
" transform="translate(301.05 351.99)" style="fill: #1f77b4; stroke: #000000; stroke: #000000"/>
<path d="M 2 0 L -2 -0 
" transform="translate(316.04 352.99)" style="fill: #1f77b4; stroke: #000000; stroke: #000000"/>
<path d="M 2 0 L -2 -0 
" transform="translate(331.04 353.17)" style="fill: #1f77b4; stroke: #000000; stroke: #000000"/>
<path d="M 2 0 L -2 -0 
" transform="translate(346.04 353.17)" style="fill: #1f77b4; stroke: #000000; stroke: #000000"/>
<path d="M 2 0 L -2 -0 
" transform="translate(361.03 353.17)" style="fill: #1f77b4; stroke: #000000; stroke: #000000"/>
<path d="M 2 0 L -2 -0 
" transform="translate(376.03 353.17)" style="fill: #1f77b4; stroke: #000000; stroke: #000000"/>
<path d="M 2 0 L -2 -0 
" transform="translate(391.02 353.17)" style="fill: #1f77b4; stroke: #000000; stroke: #000000"/>
<path d="M 2 0 L -2 -0 
" transform="translate(406.02 353.17)" style="fill: #1f77b4; stroke: #000000; stroke: #000000"/>
</g>
</g>
<g id="line2d_88">
<g clip-path="url(#p3e824705e5)">
<path d="M 2 0 L -2 -0 
" transform="translate(61.11 352.81)" style="fill: #1f77b4; stroke: #000000; stroke: #000000"/>
<path d="M 2 0 L -2 -0 
" transform="translate(76.1 352.81)" style="fill: #1f77b4; stroke: #000000; stroke: #000000"/>
<path d="M 2 0 L -2 -0 
" transform="translate(91.1 352.81)" style="fill: #1f77b4; stroke: #000000; stroke: #000000"/>
<path d="M 2 0 L -2 -0 
" transform="translate(106.1 352.81)" style="fill: #1f77b4; stroke: #000000; stroke: #000000"/>
<path d="M 2 0 L -2 -0 
" transform="translate(121.09 352.81)" style="fill: #1f77b4; stroke: #000000; stroke: #000000"/>
<path d="M 2 0 L -2 -0 
" transform="translate(136.09 352.81)" style="fill: #1f77b4; stroke: #000000; stroke: #000000"/>
<path d="M 2 0 L -2 -0 
" transform="translate(151.08 352.35)" style="fill: #1f77b4; stroke: #000000; stroke: #000000"/>
<path d="M 2 0 L -2 -0 
" transform="translate(166.08 351.62)" style="fill: #1f77b4; stroke: #000000; stroke: #000000"/>
<path d="M 2 0 L -2 -0 
" transform="translate(181.08 350.62)" style="fill: #1f77b4; stroke: #000000; stroke: #000000"/>
<path d="M 2 0 L -2 -0 
" transform="translate(196.07 349.89)" style="fill: #1f77b4; stroke: #000000; stroke: #000000"/>
<path d="M 2 0 L -2 -0 
" transform="translate(211.07 349.7)" style="fill: #1f77b4; stroke: #000000; stroke: #000000"/>
<path d="M 2 0 L -2 -0 
" transform="translate(226.07 349.61)" style="fill: #1f77b4; stroke: #000000; stroke: #000000"/>
<path d="M 2 0 L -2 -0 
" transform="translate(241.06 349.61)" style="fill: #1f77b4; stroke: #000000; stroke: #000000"/>
<path d="M 2 0 L -2 -0 
" transform="translate(256.06 349.7)" style="fill: #1f77b4; stroke: #000000; stroke: #000000"/>
<path d="M 2 0 L -2 -0 
" transform="translate(271.05 350.07)" style="fill: #1f77b4; stroke: #000000; stroke: #000000"/>
<path d="M 2 0 L -2 -0 
" transform="translate(286.05 350.71)" style="fill: #1f77b4; stroke: #000000; stroke: #000000"/>
<path d="M 2 0 L -2 -0 
" transform="translate(301.05 351.62)" style="fill: #1f77b4; stroke: #000000; stroke: #000000"/>
<path d="M 2 0 L -2 -0 
" transform="translate(316.04 352.62)" style="fill: #1f77b4; stroke: #000000; stroke: #000000"/>
<path d="M 2 0 L -2 -0 
" transform="translate(331.04 352.81)" style="fill: #1f77b4; stroke: #000000; stroke: #000000"/>
<path d="M 2 0 L -2 -0 
" transform="translate(346.04 352.81)" style="fill: #1f77b4; stroke: #000000; stroke: #000000"/>
<path d="M 2 0 L -2 -0 
" transform="translate(361.03 352.81)" style="fill: #1f77b4; stroke: #000000; stroke: #000000"/>
<path d="M 2 0 L -2 -0 
" transform="translate(376.03 352.81)" style="fill: #1f77b4; stroke: #000000; stroke: #000000"/>
<path d="M 2 0 L -2 -0 
" transform="translate(391.02 352.81)" style="fill: #1f77b4; stroke: #000000; stroke: #000000"/>
<path d="M 2 0 L -2 -0 
" transform="translate(406.02 352.81)" style="fill: #1f77b4; stroke: #000000; stroke: #000000"/>
</g>
</g>
<g id="patch_422">
<path d="M 50.61 385.2 L 50.61 340.31 
" style="fill: none; stroke: #000000; stroke-width: 0.8; stroke-linejoin: miter; stroke-linecap: square"/>
</g>
<g id="patch_423">
<path d="M 410.52 385.2 L 410.52 340.31 
" style="fill: none; stroke: #000000; stroke-width: 0.8; stroke-linejoin: miter; stroke-linecap: square"/>
</g>
<g id="patch_424">
<path d="M 50.61 385.2 L 410.52 385.2 
" style="fill: none; stroke: #000000; stroke-width: 0.8; stroke-linejoin: miter; stroke-linecap: square"/>
</g>
<g id="patch_425">
<path d="M 50.61 340.31 L 410.52 340.31 
" style="fill: none; stroke: #000000; stroke-width: 0.8; stroke-linejoin: miter; stroke-linecap: square"/>
</g>
<g id="text_30">
<text style="font-size: 6.13px; font-family: 'DejaVu Sans', sans-serif; text-anchor: start" x="54" y="381.6" transform="rotate(-0 54 381.6)">Error bars: 99% confidence interval</text>
</g>
<g id="legend_1">
<g id="patch_426">
<path d="M 322.33 382.17 L 406.28 382.17 
Q 407.49 382.17 407.49 380.96 L 407.49 363.77 
Q 407.49 362.56 406.28 362.56 L 322.33 362.56 
Q 321.12 362.56 321.12 363.77 L 321.12 380.96 
Q 321.12 382.17 322.33 382.17 z
" style="fill: #ffffff; opacity: 0.8; stroke: #cccccc; stroke-linejoin: miter"/>
</g>
<g id="patch_427">
<path d="M 323.55 369.59 L 335.67 369.59 L 335.67 365.35 L 323.55 365.35 z
" style="fill: #cd853f"/>
</g>
<g id="text_31">
<text style="font-size: 6.06px; font-family: 'DejaVu Sans', sans-serif; text-anchor: start" x="340.51" y="369.59" transform="rotate(-0 340.51 369.59)">Humidity index &lt; 0.4</text>
</g>
<g id="patch_428">
<path d="M 323.55 378.49 L 335.67 378.49 L 335.67 374.24 L 323.55 374.24 z
" style="fill: #20b2aa"/>
</g>
<g id="text_32">
<text style="font-size: 6.06px; font-family: 'DejaVu Sans', sans-serif; text-anchor: start" x="340.51" y="378.49" transform="rotate(-0 340.51 378.49)">Humidity index &gt; 0.4</text>
</g>
</g>
</g>
<g id="text_33">
<text style="font-size: 12.15px; font-family: 'DejaVu Sans', sans-serif; text-anchor: middle" x="228.36" y="9.12" transform="rotate(-0 228.36 9.12)">Changes in land surface temperature from grass to crop</text>
</g>
</g>
<defs>
<clipPath id="p5a2196d722">
<rect x="50.61" y="26.04" width="359.91" height="44.9"/>
</clipPath>
<clipPath id="p20a353cc69">
<rect x="50.61" y="70.94" width="359.91" height="44.9"/>
</clipPath>
<clipPath id="pe785c8acbe">
<rect x="50.61" y="115.83" width="359.91" height="44.9"/>
</clipPath>
<clipPath id="pd244a26337">
<rect x="50.61" y="160.72" width="359.91" height="44.9"/>
</clipPath>
<clipPath id="p7bffef70ed">
<rect x="50.61" y="205.62" width="359.91" height="44.9"/>
</clipPath>
<clipPath id="p6e61939190">
<rect x="50.61" y="250.51" width="359.91" height="44.9"/>
</clipPath>
<clipPath id="p25fe2cb7e5">
<rect x="50.61" y="295.41" width="359.91" height="44.9"/>
</clipPath>
<clipPath id="p3e824705e5">
<rect x="50.61" y="340.31" width="359.91" height="44.9"/>
</clipPath>
</defs>
</svg>

</body></html>
